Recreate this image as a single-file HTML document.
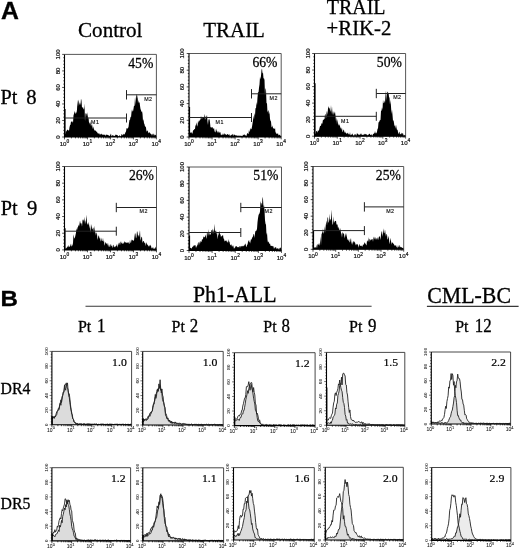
<!DOCTYPE html>
<html lang="en"><head><meta charset="utf-8"><title>Figure</title>
<style>html,body{margin:0;padding:0;background:#fff}svg{display:block}</style>
</head><body>
<svg width="520" height="549" viewBox="0 0 520 549">
<rect width="520" height="549" fill="#fff"/>
<text transform="translate(0.9 18.8) scale(1.06 1)" font-family='"Liberation Sans", "DejaVu Sans", sans-serif' font-size="23.4" font-weight="bold" text-anchor="start" fill="#000" stroke="#000" stroke-width="0.3">A</text>
<text transform="translate(0.4 305.8) scale(1.06 1)" font-family='"Liberation Sans", "DejaVu Sans", sans-serif' font-size="22.8" font-weight="bold" text-anchor="start" fill="#000" stroke="#000" stroke-width="0.3">B</text>
<text transform="translate(78 36.9) scale(0.96 1)" font-family='"Liberation Serif", "DejaVu Serif", serif' font-size="22" text-anchor="start" fill="#000" stroke="#000" stroke-width="0.3">Control</text>
<text transform="translate(203.3 36.6) scale(0.96 1)" font-family='"Liberation Serif", "DejaVu Serif", serif' font-size="21.8" text-anchor="start" fill="#000" stroke="#000" stroke-width="0.3">TRAIL</text>
<text transform="translate(326.8 13.8) scale(0.96 1)" font-family='"Liberation Serif", "DejaVu Serif", serif' font-size="20.8" text-anchor="start" fill="#000" stroke="#000" stroke-width="0.3">TRAIL</text>
<text transform="translate(326.6 35.1) scale(0.97 1)" font-family='"Liberation Serif", "DejaVu Serif", serif' font-size="21.4" text-anchor="start" fill="#000" stroke="#000" stroke-width="0.3">+RIK-2</text>
<text transform="translate(0.5 103.6) scale(0.94 1)" font-family='"Liberation Serif", "DejaVu Serif", serif' font-size="21.6" fill="#000" stroke="#000" stroke-width="0.3" style="word-spacing:4px">Pt <tspan font-size="22">8</tspan></text>
<text transform="translate(0.7 215.1) scale(0.94 1)" font-family='"Liberation Serif", "DejaVu Serif", serif' font-size="21.6" fill="#000" stroke="#000" stroke-width="0.3" style="word-spacing:4.6px">Pt <tspan font-size="22">9</tspan></text>
<g>
<path d="M64.5 137L64.5 133.25L65 134.04L65.5 133.38L66 130.53L66.5 131.82L67 130.1L67.5 129.48L68 130.31L68.5 130.32L69 130.7L69.5 127.27L70 125.14L70.5 124.85L71 121.58L71.5 121.91L72 120.69L72.5 122.05L73 122.77L73.5 115.57L74 113.64L74.5 110.82L75 113.6L75.5 113.76L76 111.46L76.5 113.52L77 109.36L77.5 99.84L78 106.78L78.5 99.51L79 101.64L79.5 105.26L80 102.52L80.5 105.29L81 98.47L81.5 100.67L82 107.64L82.5 107.4L83 106.93L83.5 109.03L84 109.38L84.5 103.44L85 121.25L85.5 112.63L86 114.01L86.5 113.27L87 116.74L87.5 111.94L88 119.11L88.5 117.12L89 122.78L89.5 122.59L90 124.85L90.5 120.97L91 126.82L91.5 124.71L92 123.93L92.5 127.22L93 129.26L93.5 126.2L94 129.37L94.5 130.46L95 130.43L95.5 130.56L96 130.9L96.5 131.93L97 131.62L97.5 133.18L98 133.21L98.5 133.68L99 133.34L99.5 133.67L100 135.05L100.5 134.14L101 133.86L101.5 133.74L102 134.68L102.5 134.79L103 134.13L103.5 134.64L104 135.11L104.5 134.4L105 135.12L105.5 135.89L106 134.14L106.5 135.02L107 134.62L107.5 135.06L108 135.09L108.5 135.25L109 135.7L109.5 136.11L110 135.44L110.5 134.51L111 133.55L111.5 136.63L112 135.42L112.5 134.89L113 135.72L113.5 135.59L114 135.74L114.5 136.12L115 135.76L115.5 134.79L116 134.39L116.5 134.96L117 135L117.5 135.33L118 135.72L118.5 136.38L119 135.98L119.5 134.77L120 136.72L120.5 135.73L121 136.61L121.5 134.19L122 133.93L122.5 135.22L123 135.3L123.5 134.06L124 133.87L124.5 134.65L125 133.42L125.5 132.15L126 131.54L126.5 128.34L127 128.19L127.5 128.84L128 128.12L128.5 126.95L129 122.89L129.5 119.68L130 119.98L130.5 116.44L131 117.53L131.5 112.35L132 109.18L132.5 111.27L133 111.5L133.5 108.67L134 105.38L134.5 106.37L135 97.13L135.5 105.25L136 95.94L136.5 93.63L137 98.89L137.5 94.76L138 103.37L138.5 99.99L139 103.3L139.5 101.69L140 105.69L140.5 109.12L141 110.37L141.5 112.27L142 110.94L142.5 113.85L143 120.93L143.5 118.88L144 123.19L144.5 124.15L145 126.42L145.5 126.45L146 127.42L146.5 131.96L147 130.3L147.5 130.63L148 131.45L148.5 132.93L149 133.22L149.5 132.04L150 132.66L150.5 133.72L151 133.94L151.5 134.37L152 135.8L152.5 134.31L153 133.42L153.5 134.02L154 136.01L154.5 134.73L155 134.44L155.5 135.34L156 134.85L156.4 137Z" fill="#000"/>
<path d="M65.05 137V108.92" stroke="#000" stroke-width="1.1"/>
<path d="M64.5 54.4H156.4V137" fill="none" stroke="#444" stroke-width="0.9"/>
<path d="M64.5 54.4V137H156.4" fill="none" stroke="#000" stroke-width="1.1"/>
<path d="M64.5 137h-2.3M64.5 133.7h-1.2M64.5 130.39h-1.2M64.5 127.09h-1.2M64.5 123.78h-1.2M64.5 120.48h-2.3M64.5 117.18h-1.2M64.5 113.87h-1.2M64.5 110.57h-1.2M64.5 107.26h-1.2M64.5 103.96h-2.3M64.5 100.66h-1.2M64.5 97.35h-1.2M64.5 94.05h-1.2M64.5 90.74h-1.2M64.5 87.44h-2.3M64.5 84.14h-1.2M64.5 80.83h-1.2M64.5 77.53h-1.2M64.5 74.22h-1.2M64.5 70.92h-2.3M64.5 67.62h-1.2M64.5 64.31h-1.2M64.5 61.01h-1.2M64.5 57.7h-1.2M64.5 54.4h-2.3" stroke="#000" stroke-width="0.7" fill="none"/>
<path d="M64.5 137v2.4M71.42 137v1.4M75.46 137v1.4M78.33 137v1.4M80.56 137v1.4M82.38 137v1.4M83.92 137v1.4M85.25 137v1.4M86.42 137v1.4M87.47 137v2.4M94.39 137v1.4M98.44 137v1.4M101.31 137v1.4M103.53 137v1.4M105.35 137v1.4M106.89 137v1.4M108.22 137v1.4M109.4 137v1.4M110.45 137v2.4M117.37 137v1.4M121.41 137v1.4M124.28 137v1.4M126.51 137v1.4M128.33 137v1.4M129.87 137v1.4M131.2 137v1.4M132.37 137v1.4M133.43 137v2.4M140.34 137v1.4M144.39 137v1.4M147.26 137v1.4M149.48 137v1.4M151.3 137v1.4M152.84 137v1.4M154.17 137v1.4M155.35 137v1.4M156.4 137v2.4" stroke="#000" stroke-width="0.7" fill="none"/>
<text transform="translate(59.9 137) rotate(-90) scale(1 0.82)" text-anchor="middle" font-family='"Liberation Sans", "DejaVu Sans", sans-serif' font-size="6.1" fill="#111" stroke="#111" stroke-width="0.2">0</text>
<text transform="translate(59.9 120.48) rotate(-90) scale(1 0.82)" text-anchor="middle" font-family='"Liberation Sans", "DejaVu Sans", sans-serif' font-size="6.1" fill="#111" stroke="#111" stroke-width="0.2">20</text>
<text transform="translate(59.9 103.96) rotate(-90) scale(1 0.82)" text-anchor="middle" font-family='"Liberation Sans", "DejaVu Sans", sans-serif' font-size="6.1" fill="#111" stroke="#111" stroke-width="0.2">40</text>
<text transform="translate(59.9 87.44) rotate(-90) scale(1 0.82)" text-anchor="middle" font-family='"Liberation Sans", "DejaVu Sans", sans-serif' font-size="6.1" fill="#111" stroke="#111" stroke-width="0.2">60</text>
<text transform="translate(59.9 70.92) rotate(-90) scale(1 0.82)" text-anchor="middle" font-family='"Liberation Sans", "DejaVu Sans", sans-serif' font-size="6.1" fill="#111" stroke="#111" stroke-width="0.2">80</text>
<text transform="translate(59.9 54.4) rotate(-90) scale(1 0.82)" text-anchor="middle" font-family='"Liberation Sans", "DejaVu Sans", sans-serif' font-size="6.1" fill="#111" stroke="#111" stroke-width="0.2">100</text>
<text x="64.4" y="146.1" text-anchor="middle" font-family='"Liberation Sans", "DejaVu Sans", sans-serif' font-size="6.1" fill="#111" stroke="#111" stroke-width="0.2">10<tspan dy="-2.81" font-size="4.88">0</tspan></text>
<text x="87.38" y="146.1" text-anchor="middle" font-family='"Liberation Sans", "DejaVu Sans", sans-serif' font-size="6.1" fill="#111" stroke="#111" stroke-width="0.2">10<tspan dy="-2.81" font-size="4.88">1</tspan></text>
<text x="110.35" y="146.1" text-anchor="middle" font-family='"Liberation Sans", "DejaVu Sans", sans-serif' font-size="6.1" fill="#111" stroke="#111" stroke-width="0.2">10<tspan dy="-2.81" font-size="4.88">2</tspan></text>
<text x="133.33" y="146.1" text-anchor="middle" font-family='"Liberation Sans", "DejaVu Sans", sans-serif' font-size="6.1" fill="#111" stroke="#111" stroke-width="0.2">10<tspan dy="-2.81" font-size="4.88">3</tspan></text>
<text x="156.3" y="146.1" text-anchor="middle" font-family='"Liberation Sans", "DejaVu Sans", sans-serif' font-size="6.1" fill="#111" stroke="#111" stroke-width="0.2">10<tspan dy="-2.81" font-size="4.88">4</tspan></text>
<path d="M64.5 118H126.5M126.5 113.5v9" stroke="#222" stroke-width="1" fill="none"/>
<path d="M126.5 94.8H156.4M126.5 90.1v9.4" stroke="#222" stroke-width="1" fill="none"/>
<text x="91.1" y="124.2" font-family='"Liberation Sans", "DejaVu Sans", sans-serif' font-size="5.3" fill="#111" stroke="#111" stroke-width="0.15" letter-spacing="0.5">M1</text>
<text x="144.2" y="100.6" font-family='"Liberation Sans", "DejaVu Sans", sans-serif' font-size="5.3" fill="#111" stroke="#111" stroke-width="0.15" letter-spacing="0.5">M2</text>
<text transform="translate(153.3 68.2) scale(0.95 1)" font-family='"Liberation Serif", "DejaVu Serif", serif' font-size="14.4" text-anchor="end" fill="#000" stroke="#000" stroke-width="0.25">45%</text>
</g>
<g>
<path d="M189 137L189 135.1L189.5 132.65L190 133.09L190.5 132.77L191 131.9L191.5 132.54L192 133.42L192.5 133.44L193 130.61L193.5 130.16L194 129.76L194.5 128.89L195 129.05L195.5 124.42L196 126.24L196.5 122.25L197 124.87L197.5 126.87L198 120.65L198.5 123.03L199 119.9L199.5 121.43L200 119.46L200.5 119.73L201 115.42L201.5 119.14L202 116.42L202.5 118.43L203 117.88L203.5 117.31L204 116.81L204.5 113.84L205 119.89L205.5 118.01L206 115.43L206.5 117.49L207 114.8L207.5 121.55L208 125.03L208.5 118.85L209 120.6L209.5 118.6L210 122.58L210.5 127.51L211 126.93L211.5 127.87L212 127.32L212.5 126.9L213 128.69L213.5 128.69L214 127.77L214.5 130.82L215 132.2L215.5 132.28L216 128.39L216.5 130.33L217 131.62L217.5 131.43L218 133.4L218.5 131.75L219 131.15L219.5 133.17L220 131.68L220.5 132.65L221 135.43L221.5 134.8L222 134.45L222.5 135.02L223 133.03L223.5 135.31L224 133.8L224.5 133.21L225 134.92L225.5 133.77L226 134.77L226.5 135.1L227 134.57L227.5 134.09L228 134.31L228.5 135.19L229 134.35L229.5 134.48L230 136.4L230.5 135.35L231 135.37L231.5 134.54L232 135.41L232.5 134.29L233 133.86L233.5 136.37L234 134.16L234.5 134.84L235 135.25L235.5 135.48L236 134.91L236.5 135.62L237 135.87L237.5 135.77L238 135.48L238.5 136.37L239 134.86L239.5 135.89L240 136.24L240.5 135.51L241 135.71L241.5 135.68L242 136.3L242.5 135.94L243 134.44L243.5 135.11L244 135.19L244.5 133.91L245 135.46L245.5 135.36L246 135.6L246.5 135.9L247 133.61L247.5 132.89L248 133.86L248.5 133.89L249 129.21L249.5 132.35L250 130.85L250.5 127.95L251 129.16L251.5 128.97L252 126.86L252.5 123.55L253 120.34L253.5 115.38L254 119.61L254.5 113.08L255 115.41L255.5 107.85L256 108.61L256.5 102.1L257 105.16L257.5 97.41L258 92L258.5 92.61L259 87.7L259.5 84.38L260 76.68L260.5 79.45L261 75.7L261.5 70.05L262 68.45L262.5 73.52L263 72.48L263.5 78.62L264 78.14L264.5 80.08L265 95.55L265.5 87.96L266 89.78L266.5 103.22L267 103.33L267.5 112.58L268 110.73L268.5 110.24L269 114.55L269.5 111.8L270 119.05L270.5 120.71L271 121.55L271.5 126.73L272 127.55L272.5 125.35L273 128.05L273.5 128.13L274 129.12L274.5 129.09L275 127.4L275.5 132.58L276 132.43L276.5 134.02L277 133.87L277.5 133.66L278 133.37L278.5 135.17L279 135.19L279.5 134.43L280 135.18L280.5 136.11L281 135.23L281.2 137Z" fill="#000"/>
<path d="M189.55 137V106.94" stroke="#000" stroke-width="1.1"/>
<path d="M189 53.5H281.2V137" fill="none" stroke="#444" stroke-width="0.9"/>
<path d="M189 53.5V137H281.2" fill="none" stroke="#000" stroke-width="1.1"/>
<path d="M189 137h-2.3M189 133.66h-1.2M189 130.32h-1.2M189 126.98h-1.2M189 123.64h-1.2M189 120.3h-2.3M189 116.96h-1.2M189 113.62h-1.2M189 110.28h-1.2M189 106.94h-1.2M189 103.6h-2.3M189 100.26h-1.2M189 96.92h-1.2M189 93.58h-1.2M189 90.24h-1.2M189 86.9h-2.3M189 83.56h-1.2M189 80.22h-1.2M189 76.88h-1.2M189 73.54h-1.2M189 70.2h-2.3M189 66.86h-1.2M189 63.52h-1.2M189 60.18h-1.2M189 56.84h-1.2M189 53.5h-2.3" stroke="#000" stroke-width="0.7" fill="none"/>
<path d="M189 137v2.4M195.94 137v1.4M200 137v1.4M202.88 137v1.4M205.11 137v1.4M206.94 137v1.4M208.48 137v1.4M209.82 137v1.4M211 137v1.4M212.05 137v2.4M218.99 137v1.4M223.05 137v1.4M225.93 137v1.4M228.16 137v1.4M229.99 137v1.4M231.53 137v1.4M232.87 137v1.4M234.05 137v1.4M235.1 137v2.4M242.04 137v1.4M246.1 137v1.4M248.98 137v1.4M251.21 137v1.4M253.04 137v1.4M254.58 137v1.4M255.92 137v1.4M257.1 137v1.4M258.15 137v2.4M265.09 137v1.4M269.15 137v1.4M272.03 137v1.4M274.26 137v1.4M276.09 137v1.4M277.63 137v1.4M278.97 137v1.4M280.15 137v1.4M281.2 137v2.4" stroke="#000" stroke-width="0.7" fill="none"/>
<text transform="translate(184.4 137) rotate(-90) scale(1 0.82)" text-anchor="middle" font-family='"Liberation Sans", "DejaVu Sans", sans-serif' font-size="6.1" fill="#111" stroke="#111" stroke-width="0.2">0</text>
<text transform="translate(184.4 120.3) rotate(-90) scale(1 0.82)" text-anchor="middle" font-family='"Liberation Sans", "DejaVu Sans", sans-serif' font-size="6.1" fill="#111" stroke="#111" stroke-width="0.2">20</text>
<text transform="translate(184.4 103.6) rotate(-90) scale(1 0.82)" text-anchor="middle" font-family='"Liberation Sans", "DejaVu Sans", sans-serif' font-size="6.1" fill="#111" stroke="#111" stroke-width="0.2">40</text>
<text transform="translate(184.4 86.9) rotate(-90) scale(1 0.82)" text-anchor="middle" font-family='"Liberation Sans", "DejaVu Sans", sans-serif' font-size="6.1" fill="#111" stroke="#111" stroke-width="0.2">60</text>
<text transform="translate(184.4 70.2) rotate(-90) scale(1 0.82)" text-anchor="middle" font-family='"Liberation Sans", "DejaVu Sans", sans-serif' font-size="6.1" fill="#111" stroke="#111" stroke-width="0.2">80</text>
<text transform="translate(184.4 53.5) rotate(-90) scale(1 0.82)" text-anchor="middle" font-family='"Liberation Sans", "DejaVu Sans", sans-serif' font-size="6.1" fill="#111" stroke="#111" stroke-width="0.2">100</text>
<text x="188.9" y="146.1" text-anchor="middle" font-family='"Liberation Sans", "DejaVu Sans", sans-serif' font-size="6.1" fill="#111" stroke="#111" stroke-width="0.2">10<tspan dy="-2.81" font-size="4.88">0</tspan></text>
<text x="211.95" y="146.1" text-anchor="middle" font-family='"Liberation Sans", "DejaVu Sans", sans-serif' font-size="6.1" fill="#111" stroke="#111" stroke-width="0.2">10<tspan dy="-2.81" font-size="4.88">1</tspan></text>
<text x="235" y="146.1" text-anchor="middle" font-family='"Liberation Sans", "DejaVu Sans", sans-serif' font-size="6.1" fill="#111" stroke="#111" stroke-width="0.2">10<tspan dy="-2.81" font-size="4.88">2</tspan></text>
<text x="258.05" y="146.1" text-anchor="middle" font-family='"Liberation Sans", "DejaVu Sans", sans-serif' font-size="6.1" fill="#111" stroke="#111" stroke-width="0.2">10<tspan dy="-2.81" font-size="4.88">3</tspan></text>
<text x="281.1" y="146.1" text-anchor="middle" font-family='"Liberation Sans", "DejaVu Sans", sans-serif' font-size="6.1" fill="#111" stroke="#111" stroke-width="0.2">10<tspan dy="-2.81" font-size="4.88">4</tspan></text>
<path d="M189 117.5H251.5M251.5 113v9" stroke="#222" stroke-width="1" fill="none"/>
<path d="M251.5 93.8H281.2M251.5 89.1v9.4" stroke="#222" stroke-width="1" fill="none"/>
<text x="215.6" y="123.7" font-family='"Liberation Sans", "DejaVu Sans", sans-serif' font-size="5.3" fill="#111" stroke="#111" stroke-width="0.15" letter-spacing="0.5">M1</text>
<text x="269.6" y="99.6" font-family='"Liberation Sans", "DejaVu Sans", sans-serif' font-size="5.3" fill="#111" stroke="#111" stroke-width="0.15" letter-spacing="0.5">M2</text>
<text transform="translate(277.5 67.4) scale(0.95 1)" font-family='"Liberation Serif", "DejaVu Serif", serif' font-size="14.4" text-anchor="end" fill="#000" stroke="#000" stroke-width="0.25">66%</text>
</g>
<g>
<path d="M314.5 136.2L314.5 133.72L315 133.54L315.5 133.94L316 131.44L316.5 131.12L317 131.33L317.5 132.84L318 129.77L318.5 131.31L319 130.27L319.5 127.95L320 126.34L320.5 125.84L321 125.76L321.5 122.77L322 124.16L322.5 122.86L323 119.54L323.5 120.25L324 119.1L324.5 119.18L325 114.35L325.5 114.25L326 119.05L326.5 112.89L327 110.82L327.5 114.9L328 108.35L328.5 105.98L329 108.72L329.5 107.47L330 110L330.5 111.93L331 104.93L331.5 114.02L332 106.29L332.5 114.98L333 110.65L333.5 115.3L334 110.97L334.5 114.08L335 111.8L335.5 115.66L336 121.25L336.5 117.13L337 124.61L337.5 119.1L338 122.78L338.5 125.64L339 124.02L339.5 125.13L340 126.11L340.5 128.63L341 127.03L341.5 130.04L342 127.75L342.5 132.31L343 131.16L343.5 129.42L344 129.96L344.5 132.95L345 131.22L345.5 132.75L346 132.96L346.5 133.67L347 133.42L347.5 133.15L348 132.53L348.5 134.49L349 133.99L349.5 134.63L350 132.02L350.5 135.38L351 134.48L351.5 134.81L352 134.5L352.5 133.37L353 135.32L353.5 135.18L354 136.2L354.5 133.88L355 134.63L355.5 133.81L356 135.91L356.5 135L357 133.03L357.5 133.75L358 133.95L358.5 134.41L359 135.17L359.5 134.68L360 134.36L360.5 134.46L361 133.05L361.5 134.55L362 134.73L362.5 134.72L363 135.16L363.5 134.31L364 134.91L364.5 134.09L365 133.86L365.5 134.55L366 133.87L366.5 134.79L367 134.56L367.5 135.46L368 134.9L368.5 134.73L369 133.76L369.5 133.67L370 134.23L370.5 134.95L371 134.93L371.5 134.01L372 136.11L372.5 135.53L373 134.08L373.5 133.96L374 133.33L374.5 133.25L375 131.03L375.5 132.93L376 133.5L376.5 132.94L377 131.74L377.5 129.09L378 128.16L378.5 122.42L379 122.08L379.5 121.21L380 119.79L380.5 120.24L381 110.87L381.5 110.66L382 107.18L382.5 109.92L383 99.68L383.5 102.94L384 103.32L384.5 100.23L385 103L385.5 95.05L386 90.61L386.5 100.78L387 92.44L387.5 91.43L388 93.38L388.5 92.61L389 96.78L389.5 98.06L390 104.74L390.5 99.84L391 106.47L391.5 113.89L392 109.43L392.5 114.87L393 121.04L393.5 120.08L394 123.08L394.5 126.55L395 124.88L395.5 128.7L396 124.49L396.5 127.72L397 129.91L397.5 129.51L398 132.11L398.5 134.2L399 132.58L399.5 131.45L400 134.71L400.5 133.85L401 134.11L401.5 132.45L402 134.7L402.5 133.1L403 133.25L403.5 135.32L404 135.86L404.5 134.77L405 135.43L405.5 134.63L405.6 136.2Z" fill="#000"/>
<path d="M315.05 136.2V83.27" stroke="#000" stroke-width="1.1"/>
<path d="M314.5 53.5H405.6V136.2" fill="none" stroke="#444" stroke-width="0.9"/>
<path d="M314.5 53.5V136.2H405.6" fill="none" stroke="#000" stroke-width="1.1"/>
<path d="M314.5 136.2h-2.3M314.5 132.89h-1.2M314.5 129.58h-1.2M314.5 126.28h-1.2M314.5 122.97h-1.2M314.5 119.66h-2.3M314.5 116.35h-1.2M314.5 113.04h-1.2M314.5 109.74h-1.2M314.5 106.43h-1.2M314.5 103.12h-2.3M314.5 99.81h-1.2M314.5 96.5h-1.2M314.5 93.2h-1.2M314.5 89.89h-1.2M314.5 86.58h-2.3M314.5 83.27h-1.2M314.5 79.96h-1.2M314.5 76.66h-1.2M314.5 73.35h-1.2M314.5 70.04h-2.3M314.5 66.73h-1.2M314.5 63.42h-1.2M314.5 60.12h-1.2M314.5 56.81h-1.2M314.5 53.5h-2.3" stroke="#000" stroke-width="0.7" fill="none"/>
<path d="M314.5 136.2v2.4M321.36 136.2v1.4M325.37 136.2v1.4M328.21 136.2v1.4M330.42 136.2v1.4M332.22 136.2v1.4M333.75 136.2v1.4M335.07 136.2v1.4M336.23 136.2v1.4M337.27 136.2v2.4M344.13 136.2v1.4M348.14 136.2v1.4M350.99 136.2v1.4M353.19 136.2v1.4M355 136.2v1.4M356.52 136.2v1.4M357.84 136.2v1.4M359.01 136.2v1.4M360.05 136.2v2.4M366.91 136.2v1.4M370.92 136.2v1.4M373.76 136.2v1.4M375.97 136.2v1.4M377.77 136.2v1.4M379.3 136.2v1.4M380.62 136.2v1.4M381.78 136.2v1.4M382.83 136.2v2.4M389.68 136.2v1.4M393.69 136.2v1.4M396.54 136.2v1.4M398.74 136.2v1.4M400.55 136.2v1.4M402.07 136.2v1.4M403.39 136.2v1.4M404.56 136.2v1.4M405.6 136.2v2.4" stroke="#000" stroke-width="0.7" fill="none"/>
<text transform="translate(309.9 136.2) rotate(-90) scale(1 0.82)" text-anchor="middle" font-family='"Liberation Sans", "DejaVu Sans", sans-serif' font-size="6.1" fill="#111" stroke="#111" stroke-width="0.2">0</text>
<text transform="translate(309.9 119.66) rotate(-90) scale(1 0.82)" text-anchor="middle" font-family='"Liberation Sans", "DejaVu Sans", sans-serif' font-size="6.1" fill="#111" stroke="#111" stroke-width="0.2">20</text>
<text transform="translate(309.9 103.12) rotate(-90) scale(1 0.82)" text-anchor="middle" font-family='"Liberation Sans", "DejaVu Sans", sans-serif' font-size="6.1" fill="#111" stroke="#111" stroke-width="0.2">40</text>
<text transform="translate(309.9 86.58) rotate(-90) scale(1 0.82)" text-anchor="middle" font-family='"Liberation Sans", "DejaVu Sans", sans-serif' font-size="6.1" fill="#111" stroke="#111" stroke-width="0.2">60</text>
<text transform="translate(309.9 70.04) rotate(-90) scale(1 0.82)" text-anchor="middle" font-family='"Liberation Sans", "DejaVu Sans", sans-serif' font-size="6.1" fill="#111" stroke="#111" stroke-width="0.2">80</text>
<text transform="translate(309.9 53.5) rotate(-90) scale(1 0.82)" text-anchor="middle" font-family='"Liberation Sans", "DejaVu Sans", sans-serif' font-size="6.1" fill="#111" stroke="#111" stroke-width="0.2">100</text>
<text x="314.4" y="145.3" text-anchor="middle" font-family='"Liberation Sans", "DejaVu Sans", sans-serif' font-size="6.1" fill="#111" stroke="#111" stroke-width="0.2">10<tspan dy="-2.81" font-size="4.88">0</tspan></text>
<text x="337.17" y="145.3" text-anchor="middle" font-family='"Liberation Sans", "DejaVu Sans", sans-serif' font-size="6.1" fill="#111" stroke="#111" stroke-width="0.2">10<tspan dy="-2.81" font-size="4.88">1</tspan></text>
<text x="359.95" y="145.3" text-anchor="middle" font-family='"Liberation Sans", "DejaVu Sans", sans-serif' font-size="6.1" fill="#111" stroke="#111" stroke-width="0.2">10<tspan dy="-2.81" font-size="4.88">2</tspan></text>
<text x="382.73" y="145.3" text-anchor="middle" font-family='"Liberation Sans", "DejaVu Sans", sans-serif' font-size="6.1" fill="#111" stroke="#111" stroke-width="0.2">10<tspan dy="-2.81" font-size="4.88">3</tspan></text>
<text x="405.5" y="145.3" text-anchor="middle" font-family='"Liberation Sans", "DejaVu Sans", sans-serif' font-size="6.1" fill="#111" stroke="#111" stroke-width="0.2">10<tspan dy="-2.81" font-size="4.88">4</tspan></text>
<path d="M314.5 116.3H376.3M376.3 111.8v9" stroke="#222" stroke-width="1" fill="none"/>
<path d="M376.3 93.5H405.6M376.3 88.8v9.4" stroke="#222" stroke-width="1" fill="none"/>
<text x="341.1" y="122.5" font-family='"Liberation Sans", "DejaVu Sans", sans-serif' font-size="5.3" fill="#111" stroke="#111" stroke-width="0.15" letter-spacing="0.5">M1</text>
<text x="393.2" y="99.3" font-family='"Liberation Sans", "DejaVu Sans", sans-serif' font-size="5.3" fill="#111" stroke="#111" stroke-width="0.15" letter-spacing="0.5">M2</text>
<text transform="translate(401.9 67.3) scale(0.95 1)" font-family='"Liberation Serif", "DejaVu Serif", serif' font-size="14.4" text-anchor="end" fill="#000" stroke="#000" stroke-width="0.25">50%</text>
</g>
<g>
<path d="M64.5 249.9L64.5 249.32L65 247.6L65.5 249.49L66 247.42L66.5 248.53L67 247.27L67.5 246.01L68 247.65L68.5 244.68L69 247.26L69.5 246.49L70 246.6L70.5 244.91L71 243.39L71.5 246.63L72 245.74L72.5 245.21L73 243.02L73.5 234.25L74 237.07L74.5 238.64L75 237.17L75.5 235.08L76 232.75L76.5 228.19L77 230.24L77.5 227.86L78 226.75L78.5 224.51L79 226.71L79.5 224.05L80 220.54L80.5 223.16L81 223.58L81.5 223.16L82 226.76L82.5 220.51L83 219.25L83.5 219.96L84 221.83L84.5 216.83L85 224.17L85.5 221.82L86 219.91L86.5 214.78L87 223.14L87.5 223.68L88 225.24L88.5 221.73L89 225.26L89.5 228.7L90 223.87L90.5 232.82L91 227.57L91.5 224.07L92 229.35L92.5 229.37L93 227.29L93.5 228.16L94 233.01L94.5 225.62L95 231.96L95.5 232.86L96 235.75L96.5 232.25L97 233.67L97.5 239.93L98 237.68L98.5 235.59L99 235.87L99.5 238.89L100 237.36L100.5 240.17L101 241.66L101.5 237.38L102 241.05L102.5 240.9L103 237.7L103.5 242.21L104 240.18L104.5 245.7L105 244.09L105.5 241.83L106 243.29L106.5 243.89L107 242.83L107.5 245.77L108 242.6L108.5 247.23L109 244.31L109.5 246.61L110 247.37L110.5 244.59L111 244.14L111.5 246.26L112 246.11L112.5 248.37L113 244.64L113.5 245.07L114 247.45L114.5 246.37L115 247.61L115.5 246.25L116 245.91L116.5 245.4L117 243.69L117.5 247.72L118 245.47L118.5 243.97L119 242.46L119.5 243.06L120 245.16L120.5 242.31L121 241.22L121.5 243.13L122 243.2L122.5 244.33L123 242.1L123.5 243.86L124 243.16L124.5 240.92L125 242.37L125.5 242.36L126 242.68L126.5 243.01L127 241.98L127.5 243.28L128 241.99L128.5 242.47L129 243.69L129.5 243.84L130 239.64L130.5 242.4L131 242.99L131.5 239.34L132 240.86L132.5 240.06L133 239.8L133.5 240.98L134 240.61L134.5 236.54L135 233.03L135.5 233.93L136 238.48L136.5 237.01L137 231.12L137.5 232.14L138 235.68L138.5 234.96L139 237.24L139.5 233.57L140 229.89L140.5 240.79L141 238.69L141.5 236.8L142 236.93L142.5 242.91L143 241.13L143.5 240.95L144 241.39L144.5 243.36L145 242.45L145.5 246.26L146 242.36L146.5 242.99L147 244.58L147.5 244.6L148 245.52L148.5 246.64L149 245.04L149.5 246.63L150 244.6L150.5 245.53L151 245.99L151.5 247.94L152 248.62L152.5 247.9L153 246.75L153.5 248.71L154 248.81L154.5 248.17L155 249L155.5 246.38L156 247.94L156.5 247.56L156.5 249.9Z" fill="#000"/>
<path d="M65.05 249.9V228.22" stroke="#000" stroke-width="1.1"/>
<path d="M64.5 166.5H156.5V249.9" fill="none" stroke="#444" stroke-width="0.9"/>
<path d="M64.5 166.5V249.9H156.5" fill="none" stroke="#000" stroke-width="1.1"/>
<path d="M64.5 249.9h-2.3M64.5 246.56h-1.2M64.5 243.23h-1.2M64.5 239.89h-1.2M64.5 236.56h-1.2M64.5 233.22h-2.3M64.5 229.88h-1.2M64.5 226.55h-1.2M64.5 223.21h-1.2M64.5 219.88h-1.2M64.5 216.54h-2.3M64.5 213.2h-1.2M64.5 209.87h-1.2M64.5 206.53h-1.2M64.5 203.2h-1.2M64.5 199.86h-2.3M64.5 196.52h-1.2M64.5 193.19h-1.2M64.5 189.85h-1.2M64.5 186.52h-1.2M64.5 183.18h-2.3M64.5 179.84h-1.2M64.5 176.51h-1.2M64.5 173.17h-1.2M64.5 169.84h-1.2M64.5 166.5h-2.3" stroke="#000" stroke-width="0.7" fill="none"/>
<path d="M64.5 249.9v2.4M71.42 249.9v1.4M75.47 249.9v1.4M78.35 249.9v1.4M80.58 249.9v1.4M82.4 249.9v1.4M83.94 249.9v1.4M85.27 249.9v1.4M86.45 249.9v1.4M87.5 249.9v2.4M94.42 249.9v1.4M98.47 249.9v1.4M101.35 249.9v1.4M103.58 249.9v1.4M105.4 249.9v1.4M106.94 249.9v1.4M108.27 249.9v1.4M109.45 249.9v1.4M110.5 249.9v2.4M117.42 249.9v1.4M121.47 249.9v1.4M124.35 249.9v1.4M126.58 249.9v1.4M128.4 249.9v1.4M129.94 249.9v1.4M131.27 249.9v1.4M132.45 249.9v1.4M133.5 249.9v2.4M140.42 249.9v1.4M144.47 249.9v1.4M147.35 249.9v1.4M149.58 249.9v1.4M151.4 249.9v1.4M152.94 249.9v1.4M154.27 249.9v1.4M155.45 249.9v1.4M156.5 249.9v2.4" stroke="#000" stroke-width="0.7" fill="none"/>
<text transform="translate(59.9 249.9) rotate(-90) scale(1 0.82)" text-anchor="middle" font-family='"Liberation Sans", "DejaVu Sans", sans-serif' font-size="6.1" fill="#111" stroke="#111" stroke-width="0.2">0</text>
<text transform="translate(59.9 233.22) rotate(-90) scale(1 0.82)" text-anchor="middle" font-family='"Liberation Sans", "DejaVu Sans", sans-serif' font-size="6.1" fill="#111" stroke="#111" stroke-width="0.2">20</text>
<text transform="translate(59.9 216.54) rotate(-90) scale(1 0.82)" text-anchor="middle" font-family='"Liberation Sans", "DejaVu Sans", sans-serif' font-size="6.1" fill="#111" stroke="#111" stroke-width="0.2">40</text>
<text transform="translate(59.9 199.86) rotate(-90) scale(1 0.82)" text-anchor="middle" font-family='"Liberation Sans", "DejaVu Sans", sans-serif' font-size="6.1" fill="#111" stroke="#111" stroke-width="0.2">60</text>
<text transform="translate(59.9 183.18) rotate(-90) scale(1 0.82)" text-anchor="middle" font-family='"Liberation Sans", "DejaVu Sans", sans-serif' font-size="6.1" fill="#111" stroke="#111" stroke-width="0.2">80</text>
<text transform="translate(59.9 166.5) rotate(-90) scale(1 0.82)" text-anchor="middle" font-family='"Liberation Sans", "DejaVu Sans", sans-serif' font-size="6.1" fill="#111" stroke="#111" stroke-width="0.2">100</text>
<text x="64.4" y="259" text-anchor="middle" font-family='"Liberation Sans", "DejaVu Sans", sans-serif' font-size="6.1" fill="#111" stroke="#111" stroke-width="0.2">10<tspan dy="-2.81" font-size="4.88">0</tspan></text>
<text x="87.4" y="259" text-anchor="middle" font-family='"Liberation Sans", "DejaVu Sans", sans-serif' font-size="6.1" fill="#111" stroke="#111" stroke-width="0.2">10<tspan dy="-2.81" font-size="4.88">1</tspan></text>
<text x="110.4" y="259" text-anchor="middle" font-family='"Liberation Sans", "DejaVu Sans", sans-serif' font-size="6.1" fill="#111" stroke="#111" stroke-width="0.2">10<tspan dy="-2.81" font-size="4.88">2</tspan></text>
<text x="133.4" y="259" text-anchor="middle" font-family='"Liberation Sans", "DejaVu Sans", sans-serif' font-size="6.1" fill="#111" stroke="#111" stroke-width="0.2">10<tspan dy="-2.81" font-size="4.88">3</tspan></text>
<text x="156.4" y="259" text-anchor="middle" font-family='"Liberation Sans", "DejaVu Sans", sans-serif' font-size="6.1" fill="#111" stroke="#111" stroke-width="0.2">10<tspan dy="-2.81" font-size="4.88">4</tspan></text>
<path d="M64.5 231.2H116.3M116.3 226.7v9" stroke="#222" stroke-width="1" fill="none"/>
<path d="M116.3 207.5H156.5M116.3 202.8v9.4" stroke="#222" stroke-width="1" fill="none"/>
<text x="139.5" y="213.3" font-family='"Liberation Sans", "DejaVu Sans", sans-serif' font-size="5.3" fill="#111" stroke="#111" stroke-width="0.15" letter-spacing="0.5">M2</text>
<text transform="translate(154 180.1) scale(0.95 1)" font-family='"Liberation Serif", "DejaVu Serif", serif' font-size="14.4" text-anchor="end" fill="#000" stroke="#000" stroke-width="0.25">26%</text>
</g>
<g>
<path d="M189 250.5L189 248.01L189.5 248.27L190 248.03L190.5 247.85L191 248.12L191.5 248.72L192 247.73L192.5 246.59L193 246.93L193.5 245.39L194 245.63L194.5 245.39L195 244.64L195.5 245.42L196 247.99L196.5 246.74L197 245.86L197.5 245.08L198 242.76L198.5 242.12L199 245.74L199.5 241.28L200 243.67L200.5 241.19L201 241.3L201.5 242.34L202 239.01L202.5 239.77L203 238.64L203.5 236.42L204 236.67L204.5 237.62L205 236.39L205.5 234.61L206 236.96L206.5 238.92L207 231.84L207.5 232.62L208 236.29L208.5 229.02L209 235.97L209.5 231.77L210 235.29L210.5 234.35L211 233.12L211.5 229.69L212 230.58L212.5 228.6L213 234.49L213.5 229.35L214 232.36L214.5 223.77L215 230.41L215.5 231.94L216 229.91L216.5 234.87L217 230.93L217.5 239.29L218 236.1L218.5 234.46L219 231.68L219.5 231.25L220 234.48L220.5 234.31L221 237.47L221.5 236.03L222 236L222.5 235.48L223 234.75L223.5 238.66L224 238.5L224.5 241.76L225 240.37L225.5 241.29L226 240.29L226.5 240.64L227 241.96L227.5 241.58L228 243.45L228.5 238.88L229 241.81L229.5 241.61L230 244.61L230.5 245.38L231 244.18L231.5 244.74L232 246.82L232.5 246.32L233 244.95L233.5 246.59L234 248.91L234.5 247.86L235 247.68L235.5 246.59L236 245.93L236.5 246.24L237 246.77L237.5 247.37L238 247.24L238.5 247.31L239 246.76L239.5 245.73L240 248.24L240.5 245.76L241 246.7L241.5 246.13L242 245.8L242.5 246L243 246.7L243.5 245.5L244 246.31L244.5 244.76L245 244.42L245.5 243.21L246 245.97L246.5 247.13L247 245.07L247.5 244.53L248 242.01L248.5 239.97L249 241.86L249.5 242.79L250 239.39L250.5 243.78L251 238.48L251.5 240.07L252 238.33L252.5 237.1L253 236.42L253.5 234.08L254 234.17L254.5 237.9L255 233.33L255.5 230.65L256 231.35L256.5 230.26L257 229.06L257.5 222.37L258 218.15L258.5 215.36L259 214.11L259.5 213.38L260 211.41L260.5 201L261 203.5L261.5 203.11L262 206.08L262.5 196.64L263 199.09L263.5 207.69L264 204.71L264.5 210.08L265 220.22L265.5 223.7L266 224.8L266.5 235.07L267 232.42L267.5 239.98L268 242.85L268.5 241.19L269 242.46L269.5 244.22L270 243.24L270.5 245.69L271 245.73L271.5 245.94L272 245.65L272.5 246.58L273 245.65L273.5 246.65L274 248.9L274.5 247.76L275 247.41L275.5 247.49L276 246.84L276.5 249.22L277 248L277.5 248.2L278 248.96L278.5 248.21L279 249.88L279.5 248.25L280 247.75L280.5 247.44L281 248.59L281.5 248.67L281.5 250.5Z" fill="#000"/>
<path d="M189.55 250.5V235.47" stroke="#000" stroke-width="1.1"/>
<path d="M189 167H281.5V250.5" fill="none" stroke="#444" stroke-width="0.9"/>
<path d="M189 167V250.5H281.5" fill="none" stroke="#000" stroke-width="1.1"/>
<path d="M189 250.5h-2.3M189 247.16h-1.2M189 243.82h-1.2M189 240.48h-1.2M189 237.14h-1.2M189 233.8h-2.3M189 230.46h-1.2M189 227.12h-1.2M189 223.78h-1.2M189 220.44h-1.2M189 217.1h-2.3M189 213.76h-1.2M189 210.42h-1.2M189 207.08h-1.2M189 203.74h-1.2M189 200.4h-2.3M189 197.06h-1.2M189 193.72h-1.2M189 190.38h-1.2M189 187.04h-1.2M189 183.7h-2.3M189 180.36h-1.2M189 177.02h-1.2M189 173.68h-1.2M189 170.34h-1.2M189 167h-2.3" stroke="#000" stroke-width="0.7" fill="none"/>
<path d="M189 250.5v2.4M195.96 250.5v1.4M200.03 250.5v1.4M202.92 250.5v1.4M205.16 250.5v1.4M206.99 250.5v1.4M208.54 250.5v1.4M209.88 250.5v1.4M211.07 250.5v1.4M212.12 250.5v2.4M219.09 250.5v1.4M223.16 250.5v1.4M226.05 250.5v1.4M228.29 250.5v1.4M230.12 250.5v1.4M231.67 250.5v1.4M233.01 250.5v1.4M234.19 250.5v1.4M235.25 250.5v2.4M242.21 250.5v1.4M246.28 250.5v1.4M249.17 250.5v1.4M251.41 250.5v1.4M253.24 250.5v1.4M254.79 250.5v1.4M256.13 250.5v1.4M257.32 250.5v1.4M258.38 250.5v2.4M265.34 250.5v1.4M269.41 250.5v1.4M272.3 250.5v1.4M274.54 250.5v1.4M276.37 250.5v1.4M277.92 250.5v1.4M279.26 250.5v1.4M280.44 250.5v1.4M281.5 250.5v2.4" stroke="#000" stroke-width="0.7" fill="none"/>
<text transform="translate(184.4 250.5) rotate(-90) scale(1 0.82)" text-anchor="middle" font-family='"Liberation Sans", "DejaVu Sans", sans-serif' font-size="6.1" fill="#111" stroke="#111" stroke-width="0.2">0</text>
<text transform="translate(184.4 233.8) rotate(-90) scale(1 0.82)" text-anchor="middle" font-family='"Liberation Sans", "DejaVu Sans", sans-serif' font-size="6.1" fill="#111" stroke="#111" stroke-width="0.2">20</text>
<text transform="translate(184.4 217.1) rotate(-90) scale(1 0.82)" text-anchor="middle" font-family='"Liberation Sans", "DejaVu Sans", sans-serif' font-size="6.1" fill="#111" stroke="#111" stroke-width="0.2">40</text>
<text transform="translate(184.4 200.4) rotate(-90) scale(1 0.82)" text-anchor="middle" font-family='"Liberation Sans", "DejaVu Sans", sans-serif' font-size="6.1" fill="#111" stroke="#111" stroke-width="0.2">60</text>
<text transform="translate(184.4 183.7) rotate(-90) scale(1 0.82)" text-anchor="middle" font-family='"Liberation Sans", "DejaVu Sans", sans-serif' font-size="6.1" fill="#111" stroke="#111" stroke-width="0.2">80</text>
<text transform="translate(184.4 167) rotate(-90) scale(1 0.82)" text-anchor="middle" font-family='"Liberation Sans", "DejaVu Sans", sans-serif' font-size="6.1" fill="#111" stroke="#111" stroke-width="0.2">100</text>
<text x="188.9" y="259.6" text-anchor="middle" font-family='"Liberation Sans", "DejaVu Sans", sans-serif' font-size="6.1" fill="#111" stroke="#111" stroke-width="0.2">10<tspan dy="-2.81" font-size="4.88">0</tspan></text>
<text x="212.03" y="259.6" text-anchor="middle" font-family='"Liberation Sans", "DejaVu Sans", sans-serif' font-size="6.1" fill="#111" stroke="#111" stroke-width="0.2">10<tspan dy="-2.81" font-size="4.88">1</tspan></text>
<text x="235.15" y="259.6" text-anchor="middle" font-family='"Liberation Sans", "DejaVu Sans", sans-serif' font-size="6.1" fill="#111" stroke="#111" stroke-width="0.2">10<tspan dy="-2.81" font-size="4.88">2</tspan></text>
<text x="258.27" y="259.6" text-anchor="middle" font-family='"Liberation Sans", "DejaVu Sans", sans-serif' font-size="6.1" fill="#111" stroke="#111" stroke-width="0.2">10<tspan dy="-2.81" font-size="4.88">3</tspan></text>
<text x="281.4" y="259.6" text-anchor="middle" font-family='"Liberation Sans", "DejaVu Sans", sans-serif' font-size="6.1" fill="#111" stroke="#111" stroke-width="0.2">10<tspan dy="-2.81" font-size="4.88">4</tspan></text>
<path d="M189 232.5H240.8M240.8 228v9" stroke="#222" stroke-width="1" fill="none"/>
<path d="M240.8 207.5H281.5M240.8 202.8v9.4" stroke="#222" stroke-width="1" fill="none"/>
<text x="264.5" y="213.3" font-family='"Liberation Sans", "DejaVu Sans", sans-serif' font-size="5.3" fill="#111" stroke="#111" stroke-width="0.15" letter-spacing="0.5">M2</text>
<text transform="translate(278.4 179.6) scale(0.95 1)" font-family='"Liberation Serif", "DejaVu Serif", serif' font-size="14.4" text-anchor="end" fill="#000" stroke="#000" stroke-width="0.25">51%</text>
</g>
<g>
<path d="M313 249.3L313 249.25L313.5 247.45L314 247.03L314.5 247.89L315 246.95L315.5 247.19L316 248.14L316.5 244.61L317 248.49L317.5 243.89L318 244.87L318.5 244.64L319 242.97L319.5 245.95L320 242.51L320.5 236.13L321 245.62L321.5 234.44L322 232.93L322.5 232.05L323 228.33L323.5 234.08L324 232.11L324.5 225.96L325 232.95L325.5 227.76L326 223.37L326.5 220.5L327 225.72L327.5 217.28L328 217.85L328.5 222.81L329 222.04L329.5 213.69L330 221.11L330.5 219.21L331 219.26L331.5 209.6L332 219.06L332.5 224.52L333 224.46L333.5 216.36L334 223L334.5 221.86L335 220.92L335.5 220.89L336 220.77L336.5 224.59L337 224.48L337.5 224.61L338 228.3L338.5 226.51L339 229.42L339.5 231.03L340 227.85L340.5 229.9L341 232.68L341.5 234.02L342 237.79L342.5 231.85L343 233.2L343.5 233.71L344 233.33L344.5 238.54L345 235.93L345.5 232.63L346 237.53L346.5 232.99L347 237.49L347.5 239.68L348 239.72L348.5 241.37L349 238.62L349.5 241.91L350 242.4L350.5 239.47L351 237.98L351.5 244.49L352 241.51L352.5 245.11L353 241.19L353.5 241.24L354 243.1L354.5 241.21L355 242.59L355.5 244.25L356 245.59L356.5 244.25L357 243.7L357.5 244.35L358 245.35L358.5 247.68L359 244.7L359.5 244.05L360 246.24L360.5 245.74L361 245.61L361.5 245.87L362 246.51L362.5 246.56L363 244.36L363.5 245.12L364 243.89L364.5 241.95L365 243.62L365.5 243.6L366 244.77L366.5 245.49L367 240.71L367.5 240.41L368 242.05L368.5 237.03L369 242.65L369.5 238.41L370 239.42L370.5 240.68L371 238.92L371.5 239.78L372 239.41L372.5 238.74L373 241.84L373.5 238.01L374 236.59L374.5 238.19L375 239.44L375.5 236.84L376 240.46L376.5 237.73L377 239.2L377.5 236.94L378 240.56L378.5 238.19L379 236.39L379.5 236.14L380 237.11L380.5 239.94L381 234.79L381.5 232.03L382 230.93L382.5 236.76L383 233.53L383.5 228.24L384 233.39L384.5 232.86L385 229.16L385.5 233.53L386 236.8L386.5 233.9L387 234.28L387.5 239.76L388 238.7L388.5 235.87L389 239.01L389.5 244.18L390 241.42L390.5 237.83L391 240.89L391.5 244.65L392 241.83L392.5 243.07L393 242.74L393.5 243.98L394 244.28L394.5 245.67L395 245.2L395.5 245.23L396 246.2L396.5 247.47L397 244.67L397.5 248.45L398 246.28L398.5 247.47L399 244.82L399.5 245.81L400 247.81L400.5 246.43L401 247.16L401.5 246.97L402 247.94L402.5 247.9L403 247.42L403.5 247.89L403.7 249.3Z" fill="#000"/>
<path d="M313.55 249.3V231.08" stroke="#000" stroke-width="1.1"/>
<path d="M313 166.5H403.7V249.3" fill="none" stroke="#444" stroke-width="0.9"/>
<path d="M313 166.5V249.3H403.7" fill="none" stroke="#000" stroke-width="1.1"/>
<path d="M313 249.3h-2.3M313 245.99h-1.2M313 242.68h-1.2M313 239.36h-1.2M313 236.05h-1.2M313 232.74h-2.3M313 229.43h-1.2M313 226.12h-1.2M313 222.8h-1.2M313 219.49h-1.2M313 216.18h-2.3M313 212.87h-1.2M313 209.56h-1.2M313 206.24h-1.2M313 202.93h-1.2M313 199.62h-2.3M313 196.31h-1.2M313 193h-1.2M313 189.68h-1.2M313 186.37h-1.2M313 183.06h-2.3M313 179.75h-1.2M313 176.44h-1.2M313 173.12h-1.2M313 169.81h-1.2M313 166.5h-2.3" stroke="#000" stroke-width="0.7" fill="none"/>
<path d="M313 249.3v2.4M319.83 249.3v1.4M323.82 249.3v1.4M326.65 249.3v1.4M328.85 249.3v1.4M330.64 249.3v1.4M332.16 249.3v1.4M333.48 249.3v1.4M334.64 249.3v1.4M335.68 249.3v2.4M342.5 249.3v1.4M346.49 249.3v1.4M349.33 249.3v1.4M351.52 249.3v1.4M353.32 249.3v1.4M354.84 249.3v1.4M356.15 249.3v1.4M357.31 249.3v1.4M358.35 249.3v2.4M365.18 249.3v1.4M369.17 249.3v1.4M372 249.3v1.4M374.2 249.3v1.4M375.99 249.3v1.4M377.51 249.3v1.4M378.83 249.3v1.4M379.99 249.3v1.4M381.02 249.3v2.4M387.85 249.3v1.4M391.84 249.3v1.4M394.68 249.3v1.4M396.87 249.3v1.4M398.67 249.3v1.4M400.19 249.3v1.4M401.5 249.3v1.4M402.66 249.3v1.4M403.7 249.3v2.4" stroke="#000" stroke-width="0.7" fill="none"/>
<text transform="translate(308.4 249.3) rotate(-90) scale(1 0.82)" text-anchor="middle" font-family='"Liberation Sans", "DejaVu Sans", sans-serif' font-size="6.1" fill="#111" stroke="#111" stroke-width="0.2">0</text>
<text transform="translate(308.4 232.74) rotate(-90) scale(1 0.82)" text-anchor="middle" font-family='"Liberation Sans", "DejaVu Sans", sans-serif' font-size="6.1" fill="#111" stroke="#111" stroke-width="0.2">20</text>
<text transform="translate(308.4 216.18) rotate(-90) scale(1 0.82)" text-anchor="middle" font-family='"Liberation Sans", "DejaVu Sans", sans-serif' font-size="6.1" fill="#111" stroke="#111" stroke-width="0.2">40</text>
<text transform="translate(308.4 199.62) rotate(-90) scale(1 0.82)" text-anchor="middle" font-family='"Liberation Sans", "DejaVu Sans", sans-serif' font-size="6.1" fill="#111" stroke="#111" stroke-width="0.2">60</text>
<text transform="translate(308.4 183.06) rotate(-90) scale(1 0.82)" text-anchor="middle" font-family='"Liberation Sans", "DejaVu Sans", sans-serif' font-size="6.1" fill="#111" stroke="#111" stroke-width="0.2">80</text>
<text transform="translate(308.4 166.5) rotate(-90) scale(1 0.82)" text-anchor="middle" font-family='"Liberation Sans", "DejaVu Sans", sans-serif' font-size="6.1" fill="#111" stroke="#111" stroke-width="0.2">100</text>
<text x="312.9" y="258.4" text-anchor="middle" font-family='"Liberation Sans", "DejaVu Sans", sans-serif' font-size="6.1" fill="#111" stroke="#111" stroke-width="0.2">10<tspan dy="-2.81" font-size="4.88">0</tspan></text>
<text x="335.57" y="258.4" text-anchor="middle" font-family='"Liberation Sans", "DejaVu Sans", sans-serif' font-size="6.1" fill="#111" stroke="#111" stroke-width="0.2">10<tspan dy="-2.81" font-size="4.88">1</tspan></text>
<text x="358.25" y="258.4" text-anchor="middle" font-family='"Liberation Sans", "DejaVu Sans", sans-serif' font-size="6.1" fill="#111" stroke="#111" stroke-width="0.2">10<tspan dy="-2.81" font-size="4.88">2</tspan></text>
<text x="380.92" y="258.4" text-anchor="middle" font-family='"Liberation Sans", "DejaVu Sans", sans-serif' font-size="6.1" fill="#111" stroke="#111" stroke-width="0.2">10<tspan dy="-2.81" font-size="4.88">3</tspan></text>
<text x="403.6" y="258.4" text-anchor="middle" font-family='"Liberation Sans", "DejaVu Sans", sans-serif' font-size="6.1" fill="#111" stroke="#111" stroke-width="0.2">10<tspan dy="-2.81" font-size="4.88">4</tspan></text>
<path d="M313 230.6H364.4M364.4 226.1v9" stroke="#222" stroke-width="1" fill="none"/>
<path d="M364.4 206.9H403.7M364.4 202.2v9.4" stroke="#222" stroke-width="1" fill="none"/>
<text x="386.2" y="212.7" font-family='"Liberation Sans", "DejaVu Sans", sans-serif' font-size="5.3" fill="#111" stroke="#111" stroke-width="0.15" letter-spacing="0.5">M2</text>
<text transform="translate(400.9 179.7) scale(0.95 1)" font-family='"Liberation Serif", "DejaVu Serif", serif' font-size="14.4" text-anchor="end" fill="#000" stroke="#000" stroke-width="0.25">25%</text>
</g>
<text transform="translate(192.9 302.2) scale(0.97 1)" font-family='"Liberation Serif", "DejaVu Serif", serif' font-size="22.5" text-anchor="start" fill="#000" stroke="#000" stroke-width="0.3">Ph1-ALL</text>
<text transform="translate(427.3 303.1) scale(0.97 1)" font-family='"Liberation Serif", "DejaVu Serif", serif' font-size="22.5" text-anchor="start" fill="#000" stroke="#000" stroke-width="0.3">CML-BC</text>
<path d="M85.5 306.3H371.6M426.9 306.4H518.6" stroke="#383838" stroke-width="1.1" fill="none"/>
<text transform="translate(77.9 331.9) scale(0.94 1)" font-family='"Liberation Serif", "DejaVu Serif", serif' font-size="17" fill="#000" stroke="#000" stroke-width="0.3" style="word-spacing:2px">Pt <tspan font-size="18">1</tspan></text>
<text transform="translate(171.5 331.9) scale(0.94 1)" font-family='"Liberation Serif", "DejaVu Serif", serif' font-size="17" fill="#000" stroke="#000" stroke-width="0.3" style="word-spacing:1.1px">Pt <tspan font-size="18">2</tspan></text>
<text transform="translate(263.3 331.9) scale(0.94 1)" font-family='"Liberation Serif", "DejaVu Serif", serif' font-size="17" fill="#000" stroke="#000" stroke-width="0.3" style="word-spacing:1px">Pt <tspan font-size="18">8</tspan></text>
<text transform="translate(349 331.9) scale(0.94 1)" font-family='"Liberation Serif", "DejaVu Serif", serif' font-size="17" fill="#000" stroke="#000" stroke-width="0.3" style="word-spacing:1.9px">Pt <tspan font-size="18">9</tspan></text>
<text transform="translate(455.2 331.9) scale(0.94 1)" font-family='"Liberation Serif", "DejaVu Serif", serif' font-size="17" fill="#000" stroke="#000" stroke-width="0.3" style="word-spacing:2.3px">Pt <tspan font-size="18">12</tspan></text>
<text transform="translate(0.6 394.4) scale(0.94 1)" font-family='"Liberation Serif", "DejaVu Serif", serif' font-size="16.8" text-anchor="start" fill="#000" stroke="#000" stroke-width="0.3">DR4</text>
<text transform="translate(0.6 508.8) scale(0.94 1)" font-family='"Liberation Serif", "DejaVu Serif", serif' font-size="16.8" text-anchor="start" fill="#000" stroke="#000" stroke-width="0.3">DR5</text>
<g>
<path d="M51.9 424.8L51.9 417.68L52.5 418.91L53.1 417.55L53.7 417.25L54.3 418.1L54.9 415.94L55.5 416.65L56.1 415.3L56.7 414.61L57.3 411.58L57.9 410.92L58.5 409.53L59.1 409.7L59.7 405.64L60.3 403.15L60.9 399.81L61.5 402.49L62.1 399.1L62.7 395.45L63.3 392.44L63.9 391.11L64.5 385.2L65.1 387.97L65.7 390.22L66.3 384.65L66.9 385.62L67.5 382.9L68.1 390.7L68.7 393.9L69.3 393.8L69.9 399.09L70.5 404.9L71.1 409.93L71.7 413.91L72.3 414.68L72.9 418.86L73.5 419.39L74.1 421.89L74.7 422.56L75.3 422.99L75.9 422.67L76.5 423.6L77.1 424.02L77.7 423.29L78.3 424.72L78.9 423.77L79.5 423.88L80.1 424.31L80.7 424.07L81.3 423.72L81.9 424.09L82.5 424.18L83.1 424.19L83.7 424.38L84.3 424.02L84.9 423.52L85.5 424.19L86.1 424.07L86.7 424.68L87.3 424.12L87.9 423.94L88.5 423.98L89.1 424.56L89.7 424.14L90.3 424.51L90.9 424.32L91.5 424.38L92.1 424.01L92.7 424.51L93.3 424.48L93.9 424.74L94.5 424.24L95.1 424.26L95.7 424.11L96.3 423.95L96.9 424.42L97.5 424.57L98.1 424.55L98.7 424.28L99.3 424.56L99.9 424.47L100.5 424.35L101.1 424.2L101.7 424.17L102.3 424.02L102.9 424.15L103.5 424.3L104.1 424.44L104.7 424.53L105.3 424.25L105.9 424.71L106.5 424.35L107.1 424.59L107.7 424.28L108.3 424.45L108.9 424.71L109.5 424.05L110.1 424.26L110.7 424.49L111.3 424.39L111.9 424.07L112.5 424.37L113.1 424.5L113.7 424.54L114.3 424.68L114.9 424.57L115.5 424.26L116.1 424.35L116.7 424.24L117.3 424.62L117.9 424.61L118.5 424.68L119.1 424.26L119.7 424.8L120.3 424.15L120.9 424.63L121.5 424.55L122.1 424.48L122.7 424.31L123.3 424.64L123.9 424.1L124.5 424.5L125.1 424.52L125.7 424.58L126.3 424.59L126.9 424.48L127.5 424.45L128.1 424.04L128.7 424.52L129.3 424.56L129.9 424.54L130.5 424.36L131.1 424.38L131.6 424.8Z" fill="#ececec"/>
<path d="M51.9 424.8L51.9 417.68L52.5 418.91L53.1 417.95L53.7 417.25L54.3 418.35L54.9 416.66L55.5 416.65L56.1 415.3L56.7 414.61L57.3 411.58L57.9 410.92L58.5 409.53L59.1 409.7L59.7 405.64L60.3 403.15L60.9 405.29L61.5 402.49L62.1 399.1L62.7 395.64L63.3 392.44L63.9 392.49L64.5 388.04L65.1 387.97L65.7 390.22L66.3 384.65L66.9 387.18L67.5 388.26L68.1 390.7L68.7 395.91L69.3 397.67L69.9 402.55L70.5 407.09L71.1 409.97L71.7 413.91L72.3 416.81L72.9 418.86L73.5 419.65L74.1 422.04L74.7 422.56L75.3 422.99L75.9 424.05L76.5 423.81L77.1 424.02L77.7 424.05L78.3 424.72L78.9 424.26L79.5 424.18L80.1 424.31L80.7 424.07L81.3 424.26L81.9 424.09L82.5 424.78L83.1 424.19L83.7 424.38L84.3 424.24L84.9 424.39L85.5 424.53L86.1 424.34L86.7 424.68L87.3 424.13L87.9 423.98L88.5 424.1L89.1 424.56L89.7 424.14L90.3 424.51L90.9 424.32L91.5 424.38L92.1 424.58L92.7 424.51L93.3 424.48L93.9 424.74L94.5 424.24L95.1 424.26L95.7 424.62L96.3 424.19L96.9 424.44L97.5 424.57L98.1 424.57L98.7 424.62L99.3 424.56L99.9 424.67L100.5 424.35L101.1 424.2L101.7 424.43L102.3 424.47L102.9 424.8L103.5 424.32L104.1 424.44L104.7 424.53L105.3 424.6L105.9 424.71L106.5 424.6L107.1 424.64L107.7 424.28L108.3 424.53L108.9 424.71L109.5 424.32L110.1 424.26L110.7 424.49L111.3 424.51L111.9 424.34L112.5 424.48L113.1 424.5L113.7 424.8L114.3 424.68L114.9 424.57L115.5 424.54L116.1 424.43L116.7 424.48L117.3 424.62L117.9 424.61L118.5 424.68L119.1 424.69L119.7 424.8L120.3 424.6L120.9 424.63L121.5 424.55L122.1 424.71L122.7 424.31L123.3 424.64L123.9 424.63L124.5 424.68L125.1 424.52L125.7 424.58L126.3 424.59L126.9 424.49L127.5 424.45L128.1 424.67L128.7 424.52L129.3 424.62L129.9 424.71L130.5 424.36L131.1 424.61L131.6 424.8Z" fill="#dcdcdc"/>
<path d="M51.9 417.68L52.5 418.91L53.1 417.55L53.7 417.25L54.3 418.1L54.9 415.94L55.5 416.65L56.1 415.3L56.7 414.61L57.3 411.58L57.9 410.92L58.5 409.53L59.1 409.7L59.7 405.64L60.3 403.15L60.9 399.81L61.5 402.49L62.1 399.1L62.7 395.45L63.3 392.44L63.9 391.11L64.5 385.2L65.1 387.97L65.7 390.22L66.3 384.65L66.9 385.62L67.5 382.9L68.1 390.7L68.7 393.9L69.3 393.8L69.9 399.09L70.5 404.9L71.1 409.93L71.7 413.91L72.3 414.68L72.9 418.86L73.5 419.39L74.1 421.89L74.7 422.56L75.3 422.99L75.9 422.67L76.5 423.6L77.1 424.02L77.7 423.29L78.3 424.72L78.9 423.77L79.5 423.88L80.1 424.31L80.7 424.07L81.3 423.72L81.9 424.09L82.5 424.18L83.1 424.19L83.7 424.38L84.3 424.02L84.9 423.52L85.5 424.19L86.1 424.07L86.7 424.68L87.3 424.12L87.9 423.94L88.5 423.98L89.1 424.56L89.7 424.14L90.3 424.51L90.9 424.32L91.5 424.38L92.1 424.01L92.7 424.51L93.3 424.48L93.9 424.74L94.5 424.24L95.1 424.26L95.7 424.11L96.3 423.95L96.9 424.42L97.5 424.57L98.1 424.55L98.7 424.28L99.3 424.56L99.9 424.47L100.5 424.35L101.1 424.2L101.7 424.17L102.3 424.02L102.9 424.15L103.5 424.3L104.1 424.44L104.7 424.53L105.3 424.25L105.9 424.71L106.5 424.35L107.1 424.59L107.7 424.28L108.3 424.45L108.9 424.71L109.5 424.05L110.1 424.26L110.7 424.49L111.3 424.39L111.9 424.07L112.5 424.37L113.1 424.5L113.7 424.54L114.3 424.68L114.9 424.57L115.5 424.26L116.1 424.35L116.7 424.24L117.3 424.62L117.9 424.61L118.5 424.68L119.1 424.26L119.7 424.8L120.3 424.15L120.9 424.63L121.5 424.55L122.1 424.48L122.7 424.31L123.3 424.64L123.9 424.1L124.5 424.5L125.1 424.52L125.7 424.58L126.3 424.59L126.9 424.48L127.5 424.45L128.1 424.04L128.7 424.52L129.3 424.56L129.9 424.54L130.5 424.36L131.1 424.38" fill="none" stroke="#222" stroke-width="0.9" stroke-linejoin="round"/>
<path d="M51.9 417.51L52.5 417.66L53.1 417.95L53.7 416.49L54.3 418.35L54.9 416.66L55.5 416.53L56.1 413.84L56.7 412L57.3 411.12L57.9 410.02L58.5 408.1L59.1 408.45L59.7 404.26L60.3 402.87L60.9 405.29L61.5 400.18L62.1 396.19L62.7 395.64L63.3 392.09L63.9 392.49L64.5 388.04L65.1 384.2L65.7 384.58L66.3 382.85L66.9 387.18L67.5 388.26L68.1 389.77L68.7 395.91L69.3 397.67L69.9 402.55L70.5 407.09L71.1 409.97L71.7 412.41L72.3 416.81L72.9 418.82L73.5 419.65L74.1 422.04L74.7 422.47L75.3 422.68L75.9 424.05L76.5 423.81L77.1 423.4L77.7 424.05L78.3 424.27L78.9 424.26L79.5 424.18L80.1 423.78L80.7 423.83L81.3 424.26L81.9 423.95L82.5 424.78L83.1 423.98L83.7 423.61L84.3 424.24L84.9 424.39L85.5 424.53L86.1 424.34L86.7 423.96L87.3 424.13L87.9 423.98L88.5 424.1L89.1 424.09L89.7 424.06L90.3 424.1L90.9 424.17L91.5 424.29L92.1 424.58L92.7 423.98L93.3 424.29L93.9 424.06L94.5 424.08L95.1 424.2L95.7 424.62L96.3 424.19L96.9 424.44L97.5 424.56L98.1 424.57L98.7 424.62L99.3 423.96L99.9 424.67L100.5 424.3L101.1 424.2L101.7 424.43L102.3 424.47L102.9 424.8L103.5 424.32L104.1 424.32L104.7 424.51L105.3 424.6L105.9 424.68L106.5 424.6L107.1 424.64L107.7 424.11L108.3 424.53L108.9 424.24L109.5 424.32L110.1 424.07L110.7 424.28L111.3 424.51L111.9 424.34L112.5 424.48L113.1 424.4L113.7 424.8L114.3 424.3L114.9 424.53L115.5 424.54L116.1 424.43L116.7 424.48L117.3 424.08L117.9 424.51L118.5 424.43L119.1 424.69L119.7 424.31L120.3 424.6L120.9 424.57L121.5 424.38L122.1 424.71L122.7 424.31L123.3 424.24L123.9 424.63L124.5 424.68L125.1 424.29L125.7 424.22L126.3 424.54L126.9 424.49L127.5 424.45L128.1 424.67L128.7 424.48L129.3 424.62L129.9 424.71L130.5 424.33L131.1 424.61" fill="none" stroke="#222" stroke-width="0.9" stroke-linejoin="round"/>
<path d="M52.1 424.8V415.99" stroke="#000" stroke-width="1.4"/>
<path d="M51.9 351.4H131.6V424.8" fill="none" stroke="#333" stroke-width="0.9"/>
<path d="M51.9 351.4V424.8H131.6" fill="none" stroke="#000" stroke-width="1.1"/>
<path d="M51.9 424.8h-2.3M51.9 421.86h-1.2M51.9 418.93h-1.2M51.9 415.99h-1.2M51.9 413.06h-1.2M51.9 410.12h-2.3M51.9 407.18h-1.2M51.9 404.25h-1.2M51.9 401.31h-1.2M51.9 398.38h-1.2M51.9 395.44h-2.3M51.9 392.5h-1.2M51.9 389.57h-1.2M51.9 386.63h-1.2M51.9 383.7h-1.2M51.9 380.76h-2.3M51.9 377.82h-1.2M51.9 374.89h-1.2M51.9 371.95h-1.2M51.9 369.02h-1.2M51.9 366.08h-2.3M51.9 363.14h-1.2M51.9 360.21h-1.2M51.9 357.27h-1.2M51.9 354.34h-1.2M51.9 351.4h-2.3" stroke="#000" stroke-width="0.55" fill="none"/>
<path d="M51.9 424.8v2.4M57.9 424.8v1.4M61.41 424.8v1.4M63.9 424.8v1.4M65.83 424.8v1.4M67.4 424.8v1.4M68.74 424.8v1.4M69.89 424.8v1.4M70.91 424.8v1.4M71.82 424.8v2.4M77.82 424.8v1.4M81.33 424.8v1.4M83.82 424.8v1.4M85.75 424.8v1.4M87.33 424.8v1.4M88.66 424.8v1.4M89.82 424.8v1.4M90.84 424.8v1.4M91.75 424.8v2.4M97.75 424.8v1.4M101.26 424.8v1.4M103.75 424.8v1.4M105.68 424.8v1.4M107.25 424.8v1.4M108.59 424.8v1.4M109.74 424.8v1.4M110.76 424.8v1.4M111.67 424.8v2.4M117.67 424.8v1.4M121.18 424.8v1.4M123.67 424.8v1.4M125.6 424.8v1.4M127.18 424.8v1.4M128.51 424.8v1.4M129.67 424.8v1.4M130.69 424.8v1.4M131.6 424.8v2.4" stroke="#000" stroke-width="0.7" fill="none"/>
<text transform="translate(47.7 424.8) rotate(-90) scale(1 0.82)" text-anchor="middle" font-family='"Liberation Sans", "DejaVu Sans", sans-serif' font-size="5" fill="#111" stroke="#111" stroke-width="0.05">0</text>
<text transform="translate(47.7 410.12) rotate(-90) scale(1 0.82)" text-anchor="middle" font-family='"Liberation Sans", "DejaVu Sans", sans-serif' font-size="5" fill="#111" stroke="#111" stroke-width="0.05">20</text>
<text transform="translate(47.7 395.44) rotate(-90) scale(1 0.82)" text-anchor="middle" font-family='"Liberation Sans", "DejaVu Sans", sans-serif' font-size="5" fill="#111" stroke="#111" stroke-width="0.05">40</text>
<text transform="translate(47.7 380.76) rotate(-90) scale(1 0.82)" text-anchor="middle" font-family='"Liberation Sans", "DejaVu Sans", sans-serif' font-size="5" fill="#111" stroke="#111" stroke-width="0.05">60</text>
<text transform="translate(47.7 366.08) rotate(-90) scale(1 0.82)" text-anchor="middle" font-family='"Liberation Sans", "DejaVu Sans", sans-serif' font-size="5" fill="#111" stroke="#111" stroke-width="0.05">80</text>
<text transform="translate(47.7 351.4) rotate(-90) scale(1 0.82)" text-anchor="middle" font-family='"Liberation Sans", "DejaVu Sans", sans-serif' font-size="5" fill="#111" stroke="#111" stroke-width="0.05">100</text>
<text x="51" y="431.7" text-anchor="middle" font-family='"Liberation Sans", "DejaVu Sans", sans-serif' font-size="5" fill="#111" stroke="#111" stroke-width="0.05">10<tspan dy="-2.3" font-size="4">0</tspan></text>
<text x="70.92" y="431.7" text-anchor="middle" font-family='"Liberation Sans", "DejaVu Sans", sans-serif' font-size="5" fill="#111" stroke="#111" stroke-width="0.05">10<tspan dy="-2.3" font-size="4">1</tspan></text>
<text x="90.85" y="431.7" text-anchor="middle" font-family='"Liberation Sans", "DejaVu Sans", sans-serif' font-size="5" fill="#111" stroke="#111" stroke-width="0.05">10<tspan dy="-2.3" font-size="4">2</tspan></text>
<text x="110.77" y="431.7" text-anchor="middle" font-family='"Liberation Sans", "DejaVu Sans", sans-serif' font-size="5" fill="#111" stroke="#111" stroke-width="0.05">10<tspan dy="-2.3" font-size="4">3</tspan></text>
<text x="130.7" y="431.7" text-anchor="middle" font-family='"Liberation Sans", "DejaVu Sans", sans-serif' font-size="5" fill="#111" stroke="#111" stroke-width="0.05">10<tspan dy="-2.3" font-size="4">4</tspan></text>
<text transform="translate(126.8 365.6) scale(1.08 1)" font-family='"Liberation Serif", "DejaVu Serif", serif' font-size="10.9" text-anchor="end" fill="#000" stroke="#000" stroke-width="0.2">1.0</text>
</g>
<g>
<path d="M142.7 425L142.7 420.96L143.3 418.38L143.9 420.47L144.5 420.64L145.1 419.39L145.7 418.73L146.3 420.55L146.9 419.18L147.5 418.07L148.1 416.38L148.7 416.97L149.3 415.09L149.9 413.27L150.5 412.58L151.1 413.32L151.7 411.41L152.3 410.61L152.9 405.83L153.5 403.87L154.1 404.04L154.7 399.02L155.3 394.42L155.9 398.39L156.5 396.04L157.1 389.76L157.7 391.31L158.3 388.59L158.9 389.03L159.5 387.43L160.1 379.76L160.7 388.6L161.3 392.91L161.9 388.95L162.5 395.05L163.1 396.72L163.7 402.69L164.3 405.25L164.9 407.71L165.5 413.17L166.1 413.89L166.7 415.73L167.3 418.91L167.9 417.92L168.5 419.3L169.1 421.71L169.7 420.23L170.3 422.82L170.9 422.44L171.5 422.01L172.1 423.5L172.7 422.09L173.3 423.12L173.9 422.48L174.5 423.41L175.1 421.88L175.7 423.37L176.3 423.21L176.9 423.2L177.5 423.51L178.1 423.87L178.7 423.93L179.3 422.99L179.9 423.43L180.5 423.81L181.1 423.73L181.7 424.36L182.3 424.05L182.9 424.06L183.5 424.15L184.1 424.27L184.7 423.84L185.3 423.93L185.9 424.39L186.5 424.44L187.1 424.39L187.7 424.77L188.3 424.29L188.9 424.61L189.5 424.63L190.1 424.49L190.7 424.7L191.3 424.21L191.9 424.26L192.5 424.74L193.1 424.73L193.7 424.57L194.3 424.37L194.9 424.59L195.5 424.47L196.1 424.9L196.7 424.53L197.3 424.67L197.9 424.58L198.5 424.72L199.1 425L199.7 424.41L200.3 424.38L200.9 424.99L201.5 424.14L202.1 424.67L202.7 424.6L203.3 424.54L203.9 425L204.5 424.46L205.1 424.82L205.7 424.75L206.3 424.34L206.9 424.31L207.5 424.73L208.1 424.66L208.7 424.21L209.3 424.7L209.9 424.71L210.5 424.85L211.1 424.52L211.7 424.83L212.3 424.58L212.9 425L213.5 424.52L214.1 424.21L214.7 424.85L215.3 424.58L215.9 424.72L216.5 424.06L217.1 424.65L217.7 425L218.3 424.8L218.9 424.76L219.5 424.47L220.1 424.96L220.7 424.43L221.3 424.52L221.9 424.78L222.5 424.67L223.1 424.55L223.2 425Z" fill="#ececec"/>
<path d="M142.7 425L142.7 421.18L143.3 421.99L143.9 420.73L144.5 420.64L145.1 419.98L145.7 419.95L146.3 420.55L146.9 419.18L147.5 419.51L148.1 418.88L148.7 416.97L149.3 415.36L149.9 416.29L150.5 414.86L151.1 413.32L151.7 411.87L152.3 411.36L152.9 407.65L153.5 405.22L154.1 404.04L154.7 400.88L155.3 396.99L155.9 398.39L156.5 396.04L157.1 392.53L157.7 391.31L158.3 391.32L158.9 389.03L159.5 388.16L160.1 385.68L160.7 390.22L161.3 392.91L161.9 393.79L162.5 399.76L163.1 401.49L163.7 402.69L164.3 406.31L164.9 407.71L165.5 415.48L166.1 415.71L166.7 418.37L167.3 418.91L167.9 419.79L168.5 420.95L169.1 421.71L169.7 420.9L170.3 422.82L170.9 422.6L171.5 422.01L172.1 423.5L172.7 422.09L173.3 423.12L173.9 423.04L174.5 423.41L175.1 423.19L175.7 423.37L176.3 423.55L176.9 423.68L177.5 423.51L178.1 423.87L178.7 423.93L179.3 423.84L179.9 423.78L180.5 423.81L181.1 423.86L181.7 424.36L182.3 424.05L182.9 424.06L183.5 424.15L184.1 424.27L184.7 423.93L185.3 424.13L185.9 424.39L186.5 424.44L187.1 424.45L187.7 424.77L188.3 424.56L188.9 424.61L189.5 424.63L190.1 424.84L190.7 424.7L191.3 424.35L191.9 424.38L192.5 424.74L193.1 424.73L193.7 424.59L194.3 424.44L194.9 424.59L195.5 424.47L196.1 424.9L196.7 424.53L197.3 424.71L197.9 424.89L198.5 424.72L199.1 425L199.7 424.88L200.3 424.77L200.9 424.99L201.5 424.67L202.1 424.67L202.7 424.8L203.3 424.87L203.9 425L204.5 424.86L205.1 424.82L205.7 424.75L206.3 424.67L206.9 424.73L207.5 424.95L208.1 424.66L208.7 425L209.3 424.78L209.9 424.71L210.5 424.85L211.1 424.52L211.7 424.83L212.3 424.74L212.9 425L213.5 424.56L214.1 424.38L214.7 424.85L215.3 424.91L215.9 424.72L216.5 425L217.1 424.65L217.7 425L218.3 424.86L218.9 424.95L219.5 424.68L220.1 424.96L220.7 425L221.3 424.52L221.9 424.97L222.5 425L223.1 424.88L223.2 425Z" fill="#dcdcdc"/>
<path d="M142.7 420.96L143.3 418.38L143.9 420.47L144.5 420.64L145.1 419.39L145.7 418.73L146.3 420.55L146.9 419.18L147.5 418.07L148.1 416.38L148.7 416.97L149.3 415.09L149.9 413.27L150.5 412.58L151.1 413.32L151.7 411.41L152.3 410.61L152.9 405.83L153.5 403.87L154.1 404.04L154.7 399.02L155.3 394.42L155.9 398.39L156.5 396.04L157.1 389.76L157.7 391.31L158.3 388.59L158.9 389.03L159.5 387.43L160.1 379.76L160.7 388.6L161.3 392.91L161.9 388.95L162.5 395.05L163.1 396.72L163.7 402.69L164.3 405.25L164.9 407.71L165.5 413.17L166.1 413.89L166.7 415.73L167.3 418.91L167.9 417.92L168.5 419.3L169.1 421.71L169.7 420.23L170.3 422.82L170.9 422.44L171.5 422.01L172.1 423.5L172.7 422.09L173.3 423.12L173.9 422.48L174.5 423.41L175.1 421.88L175.7 423.37L176.3 423.21L176.9 423.2L177.5 423.51L178.1 423.87L178.7 423.93L179.3 422.99L179.9 423.43L180.5 423.81L181.1 423.73L181.7 424.36L182.3 424.05L182.9 424.06L183.5 424.15L184.1 424.27L184.7 423.84L185.3 423.93L185.9 424.39L186.5 424.44L187.1 424.39L187.7 424.77L188.3 424.29L188.9 424.61L189.5 424.63L190.1 424.49L190.7 424.7L191.3 424.21L191.9 424.26L192.5 424.74L193.1 424.73L193.7 424.57L194.3 424.37L194.9 424.59L195.5 424.47L196.1 424.9L196.7 424.53L197.3 424.67L197.9 424.58L198.5 424.72L199.1 425L199.7 424.41L200.3 424.38L200.9 424.99L201.5 424.14L202.1 424.67L202.7 424.6L203.3 424.54L203.9 425L204.5 424.46L205.1 424.82L205.7 424.75L206.3 424.34L206.9 424.31L207.5 424.73L208.1 424.66L208.7 424.21L209.3 424.7L209.9 424.71L210.5 424.85L211.1 424.52L211.7 424.83L212.3 424.58L212.9 425L213.5 424.52L214.1 424.21L214.7 424.85L215.3 424.58L215.9 424.72L216.5 424.06L217.1 424.65L217.7 425L218.3 424.8L218.9 424.76L219.5 424.47L220.1 424.96L220.7 424.43L221.3 424.52L221.9 424.78L222.5 424.67L223.1 424.55" fill="none" stroke="#222" stroke-width="0.9" stroke-linejoin="round"/>
<path d="M142.7 421.18L143.3 421.99L143.9 420.73L144.5 419.28L145.1 419.98L145.7 419.95L146.3 419.31L146.9 418.92L147.5 419.51L148.1 418.88L148.7 416.42L149.3 415.36L149.9 416.29L150.5 414.86L151.1 411.85L151.7 411.87L152.3 411.36L152.9 407.65L153.5 405.22L154.1 402.17L154.7 400.88L155.3 396.99L155.9 395.97L156.5 392.34L157.1 392.53L157.7 388.85L158.3 391.32L158.9 383.89L159.5 388.16L160.1 385.68L160.7 390.22L161.3 388.88L161.9 393.79L162.5 399.76L163.1 401.49L163.7 402.23L164.3 406.31L164.9 407.66L165.5 415.48L166.1 415.71L166.7 418.37L167.3 418.08L167.9 419.79L168.5 420.95L169.1 420.08L169.7 420.9L170.3 421.15L170.9 422.6L171.5 421.19L172.1 423.13L172.7 422.04L173.3 422.49L173.9 423.04L174.5 422.95L175.1 423.19L175.7 422.38L176.3 423.55L176.9 423.68L177.5 423.3L178.1 423.5L178.7 423.4L179.3 423.84L179.9 423.78L180.5 423.47L181.1 423.86L181.7 424.1L182.3 423.8L182.9 423.6L183.5 423.46L184.1 423.98L184.7 423.93L185.3 424.13L185.9 424.39L186.5 424.26L187.1 424.45L187.7 424.31L188.3 424.56L188.9 424.53L189.5 424.21L190.1 424.84L190.7 424.58L191.3 424.35L191.9 424.38L192.5 424.69L193.1 424.57L193.7 424.59L194.3 424.44L194.9 424.53L195.5 424.41L196.1 424.46L196.7 424.36L197.3 424.71L197.9 424.89L198.5 424.31L199.1 424.66L199.7 424.88L200.3 424.77L200.9 424.81L201.5 424.67L202.1 424.61L202.7 424.8L203.3 424.87L203.9 424.62L204.5 424.86L205.1 424.68L205.7 424.72L206.3 424.67L206.9 424.73L207.5 424.95L208.1 424.6L208.7 425L209.3 424.78L209.9 424.66L210.5 424.67L211.1 424.34L211.7 424.72L212.3 424.74L212.9 424.61L213.5 424.56L214.1 424.38L214.7 424.36L215.3 424.91L215.9 424.56L216.5 425L217.1 424.64L217.7 424.79L218.3 424.86L218.9 424.95L219.5 424.68L220.1 424.79L220.7 425L221.3 424.38L221.9 424.97L222.5 425L223.1 424.88" fill="none" stroke="#222" stroke-width="0.9" stroke-linejoin="round"/>
<path d="M142.9 425V419.11" stroke="#000" stroke-width="1.4"/>
<path d="M142.7 351.4H223.2V425" fill="none" stroke="#333" stroke-width="0.9"/>
<path d="M142.7 351.4V425H223.2" fill="none" stroke="#000" stroke-width="1.1"/>
<path d="M142.7 425h-2.3M142.7 422.06h-1.2M142.7 419.11h-1.2M142.7 416.17h-1.2M142.7 413.22h-1.2M142.7 410.28h-2.3M142.7 407.34h-1.2M142.7 404.39h-1.2M142.7 401.45h-1.2M142.7 398.5h-1.2M142.7 395.56h-2.3M142.7 392.62h-1.2M142.7 389.67h-1.2M142.7 386.73h-1.2M142.7 383.78h-1.2M142.7 380.84h-2.3M142.7 377.9h-1.2M142.7 374.95h-1.2M142.7 372.01h-1.2M142.7 369.06h-1.2M142.7 366.12h-2.3M142.7 363.18h-1.2M142.7 360.23h-1.2M142.7 357.29h-1.2M142.7 354.34h-1.2M142.7 351.4h-2.3" stroke="#000" stroke-width="0.55" fill="none"/>
<path d="M142.7 425v2.4M148.76 425v1.4M152.3 425v1.4M154.82 425v1.4M156.77 425v1.4M158.36 425v1.4M159.71 425v1.4M160.87 425v1.4M161.9 425v1.4M162.82 425v2.4M168.88 425v1.4M172.43 425v1.4M174.94 425v1.4M176.89 425v1.4M178.49 425v1.4M179.83 425v1.4M181 425v1.4M182.03 425v1.4M182.95 425v2.4M189.01 425v1.4M192.55 425v1.4M195.07 425v1.4M197.02 425v1.4M198.61 425v1.4M199.96 425v1.4M201.12 425v1.4M202.15 425v1.4M203.07 425v2.4M209.13 425v1.4M212.68 425v1.4M215.19 425v1.4M217.14 425v1.4M218.74 425v1.4M220.08 425v1.4M221.25 425v1.4M222.28 425v1.4M223.2 425v2.4" stroke="#000" stroke-width="0.7" fill="none"/>
<text transform="translate(138.5 425) rotate(-90) scale(1 0.82)" text-anchor="middle" font-family='"Liberation Sans", "DejaVu Sans", sans-serif' font-size="5" fill="#111" stroke="#111" stroke-width="0.05">0</text>
<text transform="translate(138.5 410.28) rotate(-90) scale(1 0.82)" text-anchor="middle" font-family='"Liberation Sans", "DejaVu Sans", sans-serif' font-size="5" fill="#111" stroke="#111" stroke-width="0.05">20</text>
<text transform="translate(138.5 395.56) rotate(-90) scale(1 0.82)" text-anchor="middle" font-family='"Liberation Sans", "DejaVu Sans", sans-serif' font-size="5" fill="#111" stroke="#111" stroke-width="0.05">40</text>
<text transform="translate(138.5 380.84) rotate(-90) scale(1 0.82)" text-anchor="middle" font-family='"Liberation Sans", "DejaVu Sans", sans-serif' font-size="5" fill="#111" stroke="#111" stroke-width="0.05">60</text>
<text transform="translate(138.5 366.12) rotate(-90) scale(1 0.82)" text-anchor="middle" font-family='"Liberation Sans", "DejaVu Sans", sans-serif' font-size="5" fill="#111" stroke="#111" stroke-width="0.05">80</text>
<text transform="translate(138.5 351.4) rotate(-90) scale(1 0.82)" text-anchor="middle" font-family='"Liberation Sans", "DejaVu Sans", sans-serif' font-size="5" fill="#111" stroke="#111" stroke-width="0.05">100</text>
<text x="141.8" y="431.9" text-anchor="middle" font-family='"Liberation Sans", "DejaVu Sans", sans-serif' font-size="5" fill="#111" stroke="#111" stroke-width="0.05">10<tspan dy="-2.3" font-size="4">0</tspan></text>
<text x="161.92" y="431.9" text-anchor="middle" font-family='"Liberation Sans", "DejaVu Sans", sans-serif' font-size="5" fill="#111" stroke="#111" stroke-width="0.05">10<tspan dy="-2.3" font-size="4">1</tspan></text>
<text x="182.05" y="431.9" text-anchor="middle" font-family='"Liberation Sans", "DejaVu Sans", sans-serif' font-size="5" fill="#111" stroke="#111" stroke-width="0.05">10<tspan dy="-2.3" font-size="4">2</tspan></text>
<text x="202.17" y="431.9" text-anchor="middle" font-family='"Liberation Sans", "DejaVu Sans", sans-serif' font-size="5" fill="#111" stroke="#111" stroke-width="0.05">10<tspan dy="-2.3" font-size="4">3</tspan></text>
<text x="222.3" y="431.9" text-anchor="middle" font-family='"Liberation Sans", "DejaVu Sans", sans-serif' font-size="5" fill="#111" stroke="#111" stroke-width="0.05">10<tspan dy="-2.3" font-size="4">4</tspan></text>
<text transform="translate(217.4 366.1) scale(1.08 1)" font-family='"Liberation Serif", "DejaVu Serif", serif' font-size="10.9" text-anchor="end" fill="#000" stroke="#000" stroke-width="0.2">1.0</text>
</g>
<g>
<path d="M234.4 425.6L234.4 419.2L235 420.25L235.6 421.03L236.2 420.67L236.8 419.71L237.4 419.7L238 419.38L238.6 419.6L239.2 420.52L239.8 418.67L240.4 417.36L241 417.52L241.6 414.56L242.2 414.04L242.8 414.16L243.4 410.74L244 410.65L244.6 407.31L245.2 403.92L245.8 399.79L246.4 397.2L247 394.27L247.6 390.69L248.2 393.34L248.8 388.63L249.4 386.25L250 383.88L250.6 383.63L251.2 382.36L251.8 382.79L252.4 389.94L253 391.82L253.6 387.55L254.2 392.34L254.8 394.94L255.4 403.99L256 404.88L256.6 414.07L257.2 413.21L257.8 414.99L258.4 418.2L259 420.73L259.6 419.93L260.2 422.58L260.8 423.76L261.4 424.76L262 424.29L262.6 424.26L263.2 425.01L263.8 424.48L264.4 424.99L265 425.03L265.6 425.11L266.2 425.04L266.8 424.91L267.4 425.49L268 424.72L268.6 425.16L269.2 424.94L269.8 425L270.4 425.36L271 424.97L271.6 425.37L272.2 425.12L272.8 425.33L273.4 424.7L274 424.91L274.6 424.94L275.2 425.23L275.8 425.15L276.4 425.18L277 425.4L277.6 425.14L278.2 424.68L278.8 424.93L279.4 425L280 425.3L280.6 425.21L281.2 425.18L281.8 425.26L282.4 425.49L283 425.48L283.6 425.16L284.2 425.06L284.8 425.09L285.4 425.34L286 425.33L286.6 425.41L287.2 425.08L287.8 425.1L288.4 424.94L289 424.84L289.6 425.21L290.2 424.88L290.8 424.9L291.4 425.43L292 425.26L292.6 424.95L293.2 424.79L293.8 425.14L294.4 424.99L295 424.96L295.6 425.57L296.2 425.54L296.8 425.07L297.4 425.4L298 425.21L298.6 425.17L299.2 425.42L299.8 425.41L300.4 425.1L301 425.39L301.6 425.12L302.2 425.29L302.8 424.74L303.4 425.12L304 425.1L304.6 425.11L305.2 425.23L305.8 425.44L306.4 425.36L307 425.32L307.6 425.11L308.2 425.42L308.8 425.32L309.4 425.42L310 425.13L310.6 425.09L311.2 425.41L311.8 425.54L312.4 425.06L313 425.39L313.6 425.17L314.2 425.37L314.8 425.15L315.1 425.6Z" fill="#ececec"/>
<path d="M234.4 425.6L234.4 419.2L235 420.25L235.6 421.03L236.2 420.67L236.8 419.71L237.4 419.7L238 419.38L238.6 419.6L239.2 420.52L239.8 418.67L240.4 417.36L241 417.52L241.6 414.56L242.2 414.04L242.8 414.16L243.4 410.74L244 410.65L244.6 407.31L245.2 403.92L245.8 399.79L246.4 397.2L247 394.27L247.6 390.69L248.2 393.34L248.8 388.63L249.4 386.25L250 390.3L250.6 387.11L251.2 384.45L251.8 388L252.4 390.13L253 393.87L253.6 398.15L254.2 401.35L254.8 403.89L255.4 410.2L256 410.98L256.6 414.07L257.2 417.62L257.8 420.85L258.4 421.74L259 421.14L259.6 422.98L260.2 423.17L260.8 423.76L261.4 424.76L262 425.3L262.6 424.94L263.2 425.41L263.8 425.27L264.4 425.41L265 425.03L265.6 425.11L266.2 425.04L266.8 424.91L267.4 425.49L268 425.15L268.6 425.6L269.2 425.04L269.8 425.02L270.4 425.36L271 424.97L271.6 425.37L272.2 425.6L272.8 425.33L273.4 424.87L274 425.3L274.6 425.22L275.2 425.23L275.8 425.15L276.4 425.18L277 425.4L277.6 425.57L278.2 425.39L278.8 425.35L279.4 425L280 425.3L280.6 425.21L281.2 425.2L281.8 425.26L282.4 425.49L283 425.48L283.6 425.16L284.2 425.2L284.8 425.6L285.4 425.34L286 425.47L286.6 425.44L287.2 425.37L287.8 425.27L288.4 425.05L289 425.25L289.6 425.44L290.2 424.88L290.8 425.32L291.4 425.43L292 425.34L292.6 425.05L293.2 425.11L293.8 425.14L294.4 425.27L295 424.96L295.6 425.57L296.2 425.54L296.8 425.19L297.4 425.4L298 425.52L298.6 425.24L299.2 425.42L299.8 425.41L300.4 425.2L301 425.39L301.6 425.13L302.2 425.29L302.8 425.34L303.4 425.22L304 425.22L304.6 425.11L305.2 425.23L305.8 425.44L306.4 425.36L307 425.32L307.6 425.13L308.2 425.42L308.8 425.6L309.4 425.42L310 425.44L310.6 425.09L311.2 425.41L311.8 425.54L312.4 425.06L313 425.53L313.6 425.23L314.2 425.45L314.8 425.43L315.1 425.6Z" fill="#dcdcdc"/>
<path d="M234.4 419.2L235 420.25L235.6 421.03L236.2 420.67L236.8 419.71L237.4 419.7L238 419.38L238.6 419.6L239.2 420.52L239.8 418.67L240.4 417.36L241 417.52L241.6 414.56L242.2 414.04L242.8 414.16L243.4 410.74L244 410.65L244.6 407.31L245.2 403.92L245.8 399.79L246.4 397.2L247 394.27L247.6 390.69L248.2 393.34L248.8 388.63L249.4 386.25L250 383.88L250.6 383.63L251.2 382.36L251.8 382.79L252.4 389.94L253 391.82L253.6 387.55L254.2 392.34L254.8 394.94L255.4 403.99L256 404.88L256.6 414.07L257.2 413.21L257.8 414.99L258.4 418.2L259 420.73L259.6 419.93L260.2 422.58L260.8 423.76L261.4 424.76L262 424.29L262.6 424.26L263.2 425.01L263.8 424.48L264.4 424.99L265 425.03L265.6 425.11L266.2 425.04L266.8 424.91L267.4 425.49L268 424.72L268.6 425.16L269.2 424.94L269.8 425L270.4 425.36L271 424.97L271.6 425.37L272.2 425.12L272.8 425.33L273.4 424.7L274 424.91L274.6 424.94L275.2 425.23L275.8 425.15L276.4 425.18L277 425.4L277.6 425.14L278.2 424.68L278.8 424.93L279.4 425L280 425.3L280.6 425.21L281.2 425.18L281.8 425.26L282.4 425.49L283 425.48L283.6 425.16L284.2 425.06L284.8 425.09L285.4 425.34L286 425.33L286.6 425.41L287.2 425.08L287.8 425.1L288.4 424.94L289 424.84L289.6 425.21L290.2 424.88L290.8 424.9L291.4 425.43L292 425.26L292.6 424.95L293.2 424.79L293.8 425.14L294.4 424.99L295 424.96L295.6 425.57L296.2 425.54L296.8 425.07L297.4 425.4L298 425.21L298.6 425.17L299.2 425.42L299.8 425.41L300.4 425.1L301 425.39L301.6 425.12L302.2 425.29L302.8 424.74L303.4 425.12L304 425.1L304.6 425.11L305.2 425.23L305.8 425.44L306.4 425.36L307 425.32L307.6 425.11L308.2 425.42L308.8 425.32L309.4 425.42L310 425.13L310.6 425.09L311.2 425.41L311.8 425.54L312.4 425.06L313 425.39L313.6 425.17L314.2 425.37L314.8 425.15" fill="none" stroke="#222" stroke-width="0.9" stroke-linejoin="round"/>
<path d="M234.4 418.5L235 419.49L235.6 418.93L236.2 418.84L236.8 419.15L237.4 418.25L238 416.12L238.6 415.53L239.2 416.21L239.8 414.62L240.4 414.32L241 413.97L241.6 410.47L242.2 410.37L242.8 406L243.4 403.75L244 400.98L244.6 398.23L245.2 398.11L245.8 394.5L246.4 386.69L247 386.26L247.6 386.74L248.2 384.84L248.8 381.68L249.4 385.97L250 390.3L250.6 387.11L251.2 384.45L251.8 388L252.4 390.13L253 393.87L253.6 398.15L254.2 401.35L254.8 403.89L255.4 410.2L256 410.98L256.6 412.98L257.2 417.62L257.8 420.85L258.4 421.74L259 421.14L259.6 422.98L260.2 423.17L260.8 423.51L261.4 424.12L262 425.3L262.6 424.94L263.2 425.41L263.8 425.27L264.4 425.41L265 424.69L265.6 424.96L266.2 424.74L266.8 424.45L267.4 424.78L268 425.15L268.6 425.6L269.2 425.04L269.8 425.02L270.4 424.84L271 424.85L271.6 425.1L272.2 425.6L272.8 424.93L273.4 424.87L274 425.3L274.6 425.22L275.2 424.96L275.8 425.08L276.4 425.05L277 424.91L277.6 425.57L278.2 425.39L278.8 425.35L279.4 424.81L280 425.14L280.6 424.83L281.2 425.2L281.8 425.1L282.4 425.45L283 424.88L283.6 425.09L284.2 425.2L284.8 425.6L285.4 425.34L286 425.47L286.6 425.44L287.2 425.37L287.8 425.27L288.4 425.05L289 425.25L289.6 425.44L290.2 424.86L290.8 425.32L291.4 425.24L292 425.34L292.6 425.05L293.2 425.11L293.8 424.97L294.4 425.27L295 424.69L295.6 425.28L296.2 425.17L296.8 425.19L297.4 425.23L298 425.52L298.6 425.24L299.2 425.37L299.8 425.24L300.4 425.2L301 425.09L301.6 425.13L302.2 425L302.8 425.34L303.4 425.22L304 425.22L304.6 425.01L305.2 424.98L305.8 425.27L306.4 425.13L307 425.2L307.6 425.13L308.2 425.35L308.8 425.6L309.4 424.94L310 425.44L310.6 425.05L311.2 425.3L311.8 425.09L312.4 424.75L313 425.53L313.6 425.23L314.2 425.45L314.8 425.43" fill="none" stroke="#222" stroke-width="0.9" stroke-linejoin="round"/>
<path d="M234.6 425.6V416.85" stroke="#000" stroke-width="1.4"/>
<path d="M234.4 352.7H315.1V425.6" fill="none" stroke="#333" stroke-width="0.9"/>
<path d="M234.4 352.7V425.6H315.1" fill="none" stroke="#000" stroke-width="1.1"/>
<path d="M234.4 425.6h-2.3M234.4 422.68h-1.2M234.4 419.77h-1.2M234.4 416.85h-1.2M234.4 413.94h-1.2M234.4 411.02h-2.3M234.4 408.1h-1.2M234.4 405.19h-1.2M234.4 402.27h-1.2M234.4 399.36h-1.2M234.4 396.44h-2.3M234.4 393.52h-1.2M234.4 390.61h-1.2M234.4 387.69h-1.2M234.4 384.78h-1.2M234.4 381.86h-2.3M234.4 378.94h-1.2M234.4 376.03h-1.2M234.4 373.11h-1.2M234.4 370.2h-1.2M234.4 367.28h-2.3M234.4 364.36h-1.2M234.4 361.45h-1.2M234.4 358.53h-1.2M234.4 355.62h-1.2M234.4 352.7h-2.3" stroke="#000" stroke-width="0.55" fill="none"/>
<path d="M234.4 425.6v2.4M240.47 425.6v1.4M244.03 425.6v1.4M246.55 425.6v1.4M248.5 425.6v1.4M250.1 425.6v1.4M251.45 425.6v1.4M252.62 425.6v1.4M253.65 425.6v1.4M254.58 425.6v2.4M260.65 425.6v1.4M264.2 425.6v1.4M266.72 425.6v1.4M268.68 425.6v1.4M270.27 425.6v1.4M271.62 425.6v1.4M272.79 425.6v1.4M273.83 425.6v1.4M274.75 425.6v2.4M280.82 425.6v1.4M284.38 425.6v1.4M286.9 425.6v1.4M288.85 425.6v1.4M290.45 425.6v1.4M291.8 425.6v1.4M292.97 425.6v1.4M294 425.6v1.4M294.93 425.6v2.4M301 425.6v1.4M304.55 425.6v1.4M307.07 425.6v1.4M309.03 425.6v1.4M310.62 425.6v1.4M311.97 425.6v1.4M313.14 425.6v1.4M314.18 425.6v1.4M315.1 425.6v2.4" stroke="#000" stroke-width="0.7" fill="none"/>
<text transform="translate(230.2 425.6) rotate(-90) scale(1 0.82)" text-anchor="middle" font-family='"Liberation Sans", "DejaVu Sans", sans-serif' font-size="5" fill="#111" stroke="#111" stroke-width="0.05">0</text>
<text transform="translate(230.2 411.02) rotate(-90) scale(1 0.82)" text-anchor="middle" font-family='"Liberation Sans", "DejaVu Sans", sans-serif' font-size="5" fill="#111" stroke="#111" stroke-width="0.05">20</text>
<text transform="translate(230.2 396.44) rotate(-90) scale(1 0.82)" text-anchor="middle" font-family='"Liberation Sans", "DejaVu Sans", sans-serif' font-size="5" fill="#111" stroke="#111" stroke-width="0.05">40</text>
<text transform="translate(230.2 381.86) rotate(-90) scale(1 0.82)" text-anchor="middle" font-family='"Liberation Sans", "DejaVu Sans", sans-serif' font-size="5" fill="#111" stroke="#111" stroke-width="0.05">60</text>
<text transform="translate(230.2 367.28) rotate(-90) scale(1 0.82)" text-anchor="middle" font-family='"Liberation Sans", "DejaVu Sans", sans-serif' font-size="5" fill="#111" stroke="#111" stroke-width="0.05">80</text>
<text transform="translate(230.2 352.7) rotate(-90) scale(1 0.82)" text-anchor="middle" font-family='"Liberation Sans", "DejaVu Sans", sans-serif' font-size="5" fill="#111" stroke="#111" stroke-width="0.05">100</text>
<text x="233.5" y="432.5" text-anchor="middle" font-family='"Liberation Sans", "DejaVu Sans", sans-serif' font-size="5" fill="#111" stroke="#111" stroke-width="0.05">10<tspan dy="-2.3" font-size="4">0</tspan></text>
<text x="253.68" y="432.5" text-anchor="middle" font-family='"Liberation Sans", "DejaVu Sans", sans-serif' font-size="5" fill="#111" stroke="#111" stroke-width="0.05">10<tspan dy="-2.3" font-size="4">1</tspan></text>
<text x="273.85" y="432.5" text-anchor="middle" font-family='"Liberation Sans", "DejaVu Sans", sans-serif' font-size="5" fill="#111" stroke="#111" stroke-width="0.05">10<tspan dy="-2.3" font-size="4">2</tspan></text>
<text x="294.03" y="432.5" text-anchor="middle" font-family='"Liberation Sans", "DejaVu Sans", sans-serif' font-size="5" fill="#111" stroke="#111" stroke-width="0.05">10<tspan dy="-2.3" font-size="4">3</tspan></text>
<text x="314.2" y="432.5" text-anchor="middle" font-family='"Liberation Sans", "DejaVu Sans", sans-serif' font-size="5" fill="#111" stroke="#111" stroke-width="0.05">10<tspan dy="-2.3" font-size="4">4</tspan></text>
<text transform="translate(309.7 366.7) scale(1.08 1)" font-family='"Liberation Serif", "DejaVu Serif", serif' font-size="10.9" text-anchor="end" fill="#000" stroke="#000" stroke-width="0.2">1.2</text>
</g>
<g>
<path d="M326.5 425.3L326.5 423.94L327.1 422.92L327.7 423.39L328.3 422.85L328.9 422.82L329.5 423.09L330.1 423.72L330.7 421.88L331.3 423.26L331.9 420.67L332.5 420.17L333.1 416.95L333.7 416.48L334.3 415.43L334.9 414.07L335.5 407.93L336.1 408.92L336.7 404.13L337.3 403.04L337.9 395.48L338.5 393.59L339.1 391.09L339.7 385.37L340.3 383.47L340.9 384.66L341.5 377.17L342.1 384.87L342.7 374.15L343.3 373.19L343.9 373.19L344.5 375.29L345.1 375.5L345.7 384.58L346.3 384.99L346.9 392.47L347.5 395.01L348.1 401.82L348.7 407.49L349.3 412.5L349.9 409.95L350.5 416.46L351.1 419.21L351.7 420.02L352.3 420.03L352.9 420.93L353.5 420.05L354.1 421.56L354.7 421.62L355.3 421.96L355.9 422.73L356.5 421.99L357.1 421.99L357.7 422.24L358.3 421.63L358.9 421.42L359.5 422.08L360.1 422.35L360.7 423.16L361.3 421.97L361.9 421.89L362.5 423.96L363.1 422.31L363.7 423.43L364.3 423.51L364.9 423.96L365.5 423.65L366.1 424.03L366.7 424.27L367.3 424.36L367.9 423.57L368.5 424.14L369.1 424.32L369.7 423.76L370.3 424.51L370.9 424.44L371.5 424.58L372.1 424.59L372.7 424.53L373.3 424.75L373.9 424.39L374.5 425.04L375.1 424.94L375.7 424.86L376.3 424.72L376.9 424.6L377.5 424.81L378.1 424.9L378.7 424.86L379.3 424.95L379.9 424.64L380.5 424.77L381.1 425.05L381.7 424.73L382.3 424.74L382.9 424.69L383.5 424.97L384.1 425.3L384.7 425.04L385.3 425.09L385.9 424.72L386.5 424.54L387.1 424.95L387.7 424.75L388.3 425.03L388.9 424.95L389.5 424.92L390.1 424.61L390.7 424.75L391.3 425.15L391.9 424.78L392.5 425.3L393.1 424.67L393.7 424.75L394.3 424.93L394.9 425.03L395.5 425.23L396.1 424.78L396.7 424.68L397.3 424.86L397.9 424.73L398.5 424.74L399.1 424.81L399.7 424.76L400.3 424.94L400.9 425.3L401.5 424.94L402.1 425.06L402.7 425.17L403.3 425.3L403.9 425.05L404.5 425.09L404.8 425.3Z" fill="#ececec"/>
<path d="M326.5 425.3L326.5 423.94L327.1 422.92L327.7 423.39L328.3 422.85L328.9 422.82L329.5 423.09L330.1 423.72L330.7 421.88L331.3 423.26L331.9 420.67L332.5 420.17L333.1 416.95L333.7 416.48L334.3 415.43L334.9 414.07L335.5 407.93L336.1 408.92L336.7 404.13L337.3 403.04L337.9 395.48L338.5 393.59L339.1 391.09L339.7 385.37L340.3 384.51L340.9 387.73L341.5 390.28L342.1 391.73L342.7 397.58L343.3 402.37L343.9 403.51L344.5 407.41L345.1 414.45L345.7 416.06L346.3 420.19L346.9 419.59L347.5 423.13L348.1 422.81L348.7 423.81L349.3 424.07L349.9 423.96L350.5 423.77L351.1 423.99L351.7 424.26L352.3 424L352.9 423.82L353.5 424.72L354.1 424.59L354.7 425.11L355.3 424.29L355.9 425L356.5 424.5L357.1 425.18L357.7 424.8L358.3 424.75L358.9 424.93L359.5 424.84L360.1 424.24L360.7 424.68L361.3 425.1L361.9 425L362.5 424.86L363.1 424.15L363.7 425.11L364.3 424.57L364.9 424.48L365.5 424.55L366.1 424.44L366.7 425.08L367.3 424.87L367.9 424.46L368.5 424.69L369.1 424.68L369.7 424.56L370.3 424.78L370.9 424.77L371.5 424.58L372.1 424.59L372.7 424.67L373.3 424.75L373.9 424.92L374.5 425.04L375.1 424.94L375.7 424.86L376.3 425.08L376.9 424.8L377.5 424.81L378.1 425.18L378.7 424.86L379.3 424.95L379.9 424.78L380.5 425.05L381.1 425.05L381.7 424.73L382.3 424.8L382.9 424.84L383.5 424.97L384.1 425.3L384.7 425.19L385.3 425.09L385.9 424.84L386.5 424.71L387.1 425.12L387.7 424.92L388.3 425.03L388.9 424.95L389.5 424.92L390.1 424.79L390.7 424.87L391.3 425.15L391.9 424.78L392.5 425.3L393.1 424.97L393.7 424.89L394.3 425L394.9 425.03L395.5 425.23L396.1 424.99L396.7 425.04L397.3 424.86L397.9 425.15L398.5 424.99L399.1 425L399.7 425.05L400.3 424.94L400.9 425.3L401.5 424.94L402.1 425.06L402.7 425.17L403.3 425.3L403.9 425.3L404.5 425.09L404.8 425.3Z" fill="#dcdcdc"/>
<path d="M326.5 423.94L327.1 422.92L327.7 423.39L328.3 422.85L328.9 422.82L329.5 423.09L330.1 423.72L330.7 421.88L331.3 423.26L331.9 420.67L332.5 420.17L333.1 416.95L333.7 416.48L334.3 415.43L334.9 414.07L335.5 407.93L336.1 408.92L336.7 404.13L337.3 403.04L337.9 395.48L338.5 393.59L339.1 391.09L339.7 385.37L340.3 383.47L340.9 384.66L341.5 377.17L342.1 384.87L342.7 374.15L343.3 373.19L343.9 373.19L344.5 375.29L345.1 375.5L345.7 384.58L346.3 384.99L346.9 392.47L347.5 395.01L348.1 401.82L348.7 407.49L349.3 412.5L349.9 409.95L350.5 416.46L351.1 419.21L351.7 420.02L352.3 420.03L352.9 420.93L353.5 420.05L354.1 421.56L354.7 421.62L355.3 421.96L355.9 422.73L356.5 421.99L357.1 421.99L357.7 422.24L358.3 421.63L358.9 421.42L359.5 422.08L360.1 422.35L360.7 423.16L361.3 421.97L361.9 421.89L362.5 423.96L363.1 422.31L363.7 423.43L364.3 423.51L364.9 423.96L365.5 423.65L366.1 424.03L366.7 424.27L367.3 424.36L367.9 423.57L368.5 424.14L369.1 424.32L369.7 423.76L370.3 424.51L370.9 424.44L371.5 424.58L372.1 424.59L372.7 424.53L373.3 424.75L373.9 424.39L374.5 425.04L375.1 424.94L375.7 424.86L376.3 424.72L376.9 424.6L377.5 424.81L378.1 424.9L378.7 424.86L379.3 424.95L379.9 424.64L380.5 424.77L381.1 425.05L381.7 424.73L382.3 424.74L382.9 424.69L383.5 424.97L384.1 425.3L384.7 425.04L385.3 425.09L385.9 424.72L386.5 424.54L387.1 424.95L387.7 424.75L388.3 425.03L388.9 424.95L389.5 424.92L390.1 424.61L390.7 424.75L391.3 425.15L391.9 424.78L392.5 425.3L393.1 424.67L393.7 424.75L394.3 424.93L394.9 425.03L395.5 425.23L396.1 424.78L396.7 424.68L397.3 424.86L397.9 424.73L398.5 424.74L399.1 424.81L399.7 424.76L400.3 424.94L400.9 425.3L401.5 424.94L402.1 425.06L402.7 425.17L403.3 425.3L403.9 425.05L404.5 425.09" fill="none" stroke="#222" stroke-width="0.9" stroke-linejoin="round"/>
<path d="M326.5 419.94L327.1 419.52L327.7 420.06L328.3 420.1L328.9 418.61L329.5 417.72L330.1 418.29L330.7 418.36L331.3 415.78L331.9 414.17L332.5 413.12L333.1 407.08L333.7 402.86L334.3 401.22L334.9 394.23L335.5 392.81L336.1 395.55L336.7 392.32L337.3 390.84L337.9 388.73L338.5 383.92L339.1 385.01L339.7 380.01L340.3 384.51L340.9 387.73L341.5 390.28L342.1 391.73L342.7 397.58L343.3 402.37L343.9 403.51L344.5 407.41L345.1 414.45L345.7 416.06L346.3 420.19L346.9 419.59L347.5 423.13L348.1 422.81L348.7 423.81L349.3 424.07L349.9 423.96L350.5 423.77L351.1 423.99L351.7 424.26L352.3 424L352.9 423.82L353.5 424.72L354.1 424.59L354.7 425.11L355.3 424.29L355.9 425L356.5 424.5L357.1 425.18L357.7 424.8L358.3 424.75L358.9 424.93L359.5 424.84L360.1 424.24L360.7 424.68L361.3 425.1L361.9 425L362.5 424.86L363.1 424.15L363.7 425.11L364.3 424.57L364.9 424.48L365.5 424.55L366.1 424.44L366.7 425.08L367.3 424.87L367.9 424.46L368.5 424.69L369.1 424.68L369.7 424.56L370.3 424.78L370.9 424.77L371.5 424.52L372.1 424.56L372.7 424.67L373.3 424.57L373.9 424.92L374.5 424.67L375.1 424.76L375.7 424.71L376.3 425.08L376.9 424.8L377.5 424.67L378.1 425.18L378.7 424.56L379.3 424.68L379.9 424.78L380.5 425.05L381.1 424.75L381.7 424.7L382.3 424.8L382.9 424.84L383.5 424.78L384.1 424.92L384.7 425.19L385.3 424.79L385.9 424.84L386.5 424.71L387.1 425.12L387.7 424.92L388.3 425.03L388.9 424.78L389.5 424.72L390.1 424.79L390.7 424.87L391.3 424.99L391.9 424.71L392.5 425.05L393.1 424.97L393.7 424.89L394.3 425L394.9 424.73L395.5 425.01L396.1 424.99L396.7 425.04L397.3 424.85L397.9 425.15L398.5 424.99L399.1 425L399.7 425.05L400.3 424.66L400.9 425.03L401.5 424.87L402.1 424.51L402.7 424.89L403.3 424.89L403.9 425.3L404.5 424.83" fill="none" stroke="#222" stroke-width="0.9" stroke-linejoin="round"/>
<path d="M326.7 425.3V387.39" stroke="#000" stroke-width="1.4"/>
<path d="M326.5 352.4H404.8V425.3" fill="none" stroke="#333" stroke-width="0.9"/>
<path d="M326.5 352.4V425.3H404.8" fill="none" stroke="#000" stroke-width="1.1"/>
<path d="M326.5 425.3h-2.3M326.5 422.38h-1.2M326.5 419.47h-1.2M326.5 416.55h-1.2M326.5 413.64h-1.2M326.5 410.72h-2.3M326.5 407.8h-1.2M326.5 404.89h-1.2M326.5 401.97h-1.2M326.5 399.06h-1.2M326.5 396.14h-2.3M326.5 393.22h-1.2M326.5 390.31h-1.2M326.5 387.39h-1.2M326.5 384.48h-1.2M326.5 381.56h-2.3M326.5 378.64h-1.2M326.5 375.73h-1.2M326.5 372.81h-1.2M326.5 369.9h-1.2M326.5 366.98h-2.3M326.5 364.06h-1.2M326.5 361.15h-1.2M326.5 358.23h-1.2M326.5 355.32h-1.2M326.5 352.4h-2.3" stroke="#000" stroke-width="0.55" fill="none"/>
<path d="M326.5 425.3v2.4M332.39 425.3v1.4M335.84 425.3v1.4M338.29 425.3v1.4M340.18 425.3v1.4M341.73 425.3v1.4M343.04 425.3v1.4M344.18 425.3v1.4M345.18 425.3v1.4M346.07 425.3v2.4M351.97 425.3v1.4M355.41 425.3v1.4M357.86 425.3v1.4M359.76 425.3v1.4M361.31 425.3v1.4M362.62 425.3v1.4M363.75 425.3v1.4M364.75 425.3v1.4M365.65 425.3v2.4M371.54 425.3v1.4M374.99 425.3v1.4M377.44 425.3v1.4M379.33 425.3v1.4M380.88 425.3v1.4M382.19 425.3v1.4M383.33 425.3v1.4M384.33 425.3v1.4M385.23 425.3v2.4M391.12 425.3v1.4M394.56 425.3v1.4M397.01 425.3v1.4M398.91 425.3v1.4M400.46 425.3v1.4M401.77 425.3v1.4M402.9 425.3v1.4M403.9 425.3v1.4M404.8 425.3v2.4" stroke="#000" stroke-width="0.7" fill="none"/>
<text transform="translate(322.3 425.3) rotate(-90) scale(1 0.82)" text-anchor="middle" font-family='"Liberation Sans", "DejaVu Sans", sans-serif' font-size="5" fill="#111" stroke="#111" stroke-width="0.05">0</text>
<text transform="translate(322.3 410.72) rotate(-90) scale(1 0.82)" text-anchor="middle" font-family='"Liberation Sans", "DejaVu Sans", sans-serif' font-size="5" fill="#111" stroke="#111" stroke-width="0.05">20</text>
<text transform="translate(322.3 396.14) rotate(-90) scale(1 0.82)" text-anchor="middle" font-family='"Liberation Sans", "DejaVu Sans", sans-serif' font-size="5" fill="#111" stroke="#111" stroke-width="0.05">40</text>
<text transform="translate(322.3 381.56) rotate(-90) scale(1 0.82)" text-anchor="middle" font-family='"Liberation Sans", "DejaVu Sans", sans-serif' font-size="5" fill="#111" stroke="#111" stroke-width="0.05">60</text>
<text transform="translate(322.3 366.98) rotate(-90) scale(1 0.82)" text-anchor="middle" font-family='"Liberation Sans", "DejaVu Sans", sans-serif' font-size="5" fill="#111" stroke="#111" stroke-width="0.05">80</text>
<text transform="translate(322.3 352.4) rotate(-90) scale(1 0.82)" text-anchor="middle" font-family='"Liberation Sans", "DejaVu Sans", sans-serif' font-size="5" fill="#111" stroke="#111" stroke-width="0.05">100</text>
<text x="325.6" y="432.2" text-anchor="middle" font-family='"Liberation Sans", "DejaVu Sans", sans-serif' font-size="5" fill="#111" stroke="#111" stroke-width="0.05">10<tspan dy="-2.3" font-size="4">0</tspan></text>
<text x="345.18" y="432.2" text-anchor="middle" font-family='"Liberation Sans", "DejaVu Sans", sans-serif' font-size="5" fill="#111" stroke="#111" stroke-width="0.05">10<tspan dy="-2.3" font-size="4">1</tspan></text>
<text x="364.75" y="432.2" text-anchor="middle" font-family='"Liberation Sans", "DejaVu Sans", sans-serif' font-size="5" fill="#111" stroke="#111" stroke-width="0.05">10<tspan dy="-2.3" font-size="4">2</tspan></text>
<text x="384.33" y="432.2" text-anchor="middle" font-family='"Liberation Sans", "DejaVu Sans", sans-serif' font-size="5" fill="#111" stroke="#111" stroke-width="0.05">10<tspan dy="-2.3" font-size="4">3</tspan></text>
<text x="403.9" y="432.2" text-anchor="middle" font-family='"Liberation Sans", "DejaVu Sans", sans-serif' font-size="5" fill="#111" stroke="#111" stroke-width="0.05">10<tspan dy="-2.3" font-size="4">4</tspan></text>
<text transform="translate(398.1 366.4) scale(1.08 1)" font-family='"Liberation Serif", "DejaVu Serif", serif' font-size="10.9" text-anchor="end" fill="#000" stroke="#000" stroke-width="0.2">1.5</text>
</g>
<g>
<path d="M431.3 424L431.3 423.31L431.9 422.63L432.5 422.38L433.1 421.91L433.7 422.82L434.3 423.29L434.9 422.42L435.5 422.62L436.1 422.69L436.7 422.81L437.3 423.15L437.9 422.07L438.5 423.06L439.1 423.27L439.7 422.87L440.3 423.12L440.9 423.35L441.5 422.34L442.1 422.74L442.7 422.78L443.3 423.29L443.9 423.24L444.5 423.26L445.1 422L445.7 422.63L446.3 423.06L446.9 422.53L447.5 422.26L448.1 421.77L448.7 420.43L449.3 418.84L449.9 417.44L450.5 416.75L451.1 413.75L451.7 411.23L452.3 410.13L452.9 406.49L453.5 403.04L454.1 397.56L454.7 395.76L455.3 385.27L455.9 387.76L456.5 381.92L457.1 380.41L457.7 374.12L458.3 378.29L458.9 378.09L459.5 378.64L460.1 381.73L460.7 388.06L461.3 391.98L461.9 399.42L462.5 399.62L463.1 404.03L463.7 405.06L464.3 410.24L464.9 414.96L465.5 414.58L466.1 415.13L466.7 418.8L467.3 419.6L467.9 420.85L468.5 421.56L469.1 422.09L469.7 422.42L470.3 422.44L470.9 423.28L471.5 422.77L472.1 422.97L472.7 423.37L473.3 422.98L473.9 423.51L474.5 423.42L475.1 423L475.7 423.53L476.3 423.4L476.9 423.23L477.5 423.67L478.1 423.23L478.7 423.53L479.3 423.61L479.9 423.09L480.5 423.15L481.1 423.51L481.7 423.24L482.3 423.27L482.9 423.47L483.5 423.03L484.1 423.55L484.7 423.39L485.3 423.48L485.9 423.73L486.5 423.32L487.1 423.76L487.7 423.05L488.3 423.65L488.9 423.89L489.5 423.48L490.1 423.44L490.7 423.9L491.3 423.61L491.9 423.62L492.5 423.52L493.1 424L493.7 423.26L494.3 423.79L494.9 423.48L495.5 423.53L496.1 423.46L496.7 423.67L497.3 423.74L497.9 423.37L498.5 423.76L499.1 423.52L499.7 423.77L500.3 423.62L500.9 423.84L501.5 423.65L502.1 423.73L502.7 423.85L503.3 423.66L503.9 423.33L504.5 423.87L505.1 423.84L505.7 423.53L506.3 423.6L506.9 423.4L507.5 423.51L508.1 423.79L508.7 423.81L509.3 423.28L509.9 423.52L510.5 423.93L510.6 424Z" fill="#ececec"/>
<path d="M431.3 424L431.3 423.31L431.9 422.63L432.5 422.47L433.1 422.94L433.7 422.82L434.3 423.29L434.9 422.54L435.5 422.62L436.1 422.69L436.7 422.84L437.3 423.15L437.9 422.07L438.5 423.06L439.1 423.27L439.7 422.87L440.3 423.12L440.9 423.35L441.5 422.34L442.1 422.74L442.7 422.78L443.3 423.29L443.9 423.24L444.5 423.26L445.1 422L445.7 422.63L446.3 423.06L446.9 422.53L447.5 422.26L448.1 421.77L448.7 420.43L449.3 418.84L449.9 417.44L450.5 416.75L451.1 413.75L451.7 411.23L452.3 410.13L452.9 406.49L453.5 403.04L454.1 397.56L454.7 395.76L455.3 395.57L455.9 398.48L456.5 402.67L457.1 410.21L457.7 415.66L458.3 415.46L458.9 417.73L459.5 419.21L460.1 420.37L460.7 419.89L461.3 421.75L461.9 422.36L462.5 423.09L463.1 422.09L463.7 423.51L464.3 423.24L464.9 423.16L465.5 423.25L466.1 423.51L466.7 423.1L467.3 423.25L467.9 423.6L468.5 423.09L469.1 423.41L469.7 423.33L470.3 423.97L470.9 423.33L471.5 423.53L472.1 422.97L472.7 423.37L473.3 423.68L473.9 423.52L474.5 423.55L475.1 423.77L475.7 423.55L476.3 423.4L476.9 423.66L477.5 423.67L478.1 423.4L478.7 423.53L479.3 423.81L479.9 423.51L480.5 423.48L481.1 423.67L481.7 423.48L482.3 423.58L482.9 423.61L483.5 423.87L484.1 423.55L484.7 423.67L485.3 423.75L485.9 423.73L486.5 423.53L487.1 423.89L487.7 423.78L488.3 423.68L488.9 423.89L489.5 423.48L490.1 423.54L490.7 423.9L491.3 423.61L491.9 423.62L492.5 423.52L493.1 424L493.7 423.62L494.3 424L494.9 423.69L495.5 423.69L496.1 423.46L496.7 423.67L497.3 423.74L497.9 423.53L498.5 423.8L499.1 423.69L499.7 423.77L500.3 423.62L500.9 423.84L501.5 423.86L502.1 423.73L502.7 423.86L503.3 423.94L503.9 423.66L504.5 423.87L505.1 423.84L505.7 423.67L506.3 423.67L506.9 423.83L507.5 423.55L508.1 423.79L508.7 423.81L509.3 423.67L509.9 423.73L510.5 423.93L510.6 424Z" fill="#dcdcdc"/>
<path d="M431.3 423.31L431.9 422.63L432.5 422.38L433.1 421.91L433.7 422.82L434.3 423.29L434.9 422.42L435.5 422.62L436.1 422.69L436.7 422.81L437.3 423.15L437.9 422.07L438.5 423.06L439.1 423.27L439.7 422.87L440.3 423.12L440.9 423.35L441.5 422.34L442.1 422.74L442.7 422.78L443.3 423.29L443.9 423.24L444.5 423.26L445.1 422L445.7 422.63L446.3 423.06L446.9 422.53L447.5 422.26L448.1 421.77L448.7 420.43L449.3 418.84L449.9 417.44L450.5 416.75L451.1 413.75L451.7 411.23L452.3 410.13L452.9 406.49L453.5 403.04L454.1 397.56L454.7 395.76L455.3 385.27L455.9 387.76L456.5 381.92L457.1 380.41L457.7 374.12L458.3 378.29L458.9 378.09L459.5 378.64L460.1 381.73L460.7 388.06L461.3 391.98L461.9 399.42L462.5 399.62L463.1 404.03L463.7 405.06L464.3 410.24L464.9 414.96L465.5 414.58L466.1 415.13L466.7 418.8L467.3 419.6L467.9 420.85L468.5 421.56L469.1 422.09L469.7 422.42L470.3 422.44L470.9 423.28L471.5 422.77L472.1 422.97L472.7 423.37L473.3 422.98L473.9 423.51L474.5 423.42L475.1 423L475.7 423.53L476.3 423.4L476.9 423.23L477.5 423.67L478.1 423.23L478.7 423.53L479.3 423.61L479.9 423.09L480.5 423.15L481.1 423.51L481.7 423.24L482.3 423.27L482.9 423.47L483.5 423.03L484.1 423.55L484.7 423.39L485.3 423.48L485.9 423.73L486.5 423.32L487.1 423.76L487.7 423.05L488.3 423.65L488.9 423.89L489.5 423.48L490.1 423.44L490.7 423.9L491.3 423.61L491.9 423.62L492.5 423.52L493.1 424L493.7 423.26L494.3 423.79L494.9 423.48L495.5 423.53L496.1 423.46L496.7 423.67L497.3 423.74L497.9 423.37L498.5 423.76L499.1 423.52L499.7 423.77L500.3 423.62L500.9 423.84L501.5 423.65L502.1 423.73L502.7 423.85L503.3 423.66L503.9 423.33L504.5 423.87L505.1 423.84L505.7 423.53L506.3 423.6L506.9 423.4L507.5 423.51L508.1 423.79L508.7 423.81L509.3 423.28L509.9 423.52L510.5 423.93" fill="none" stroke="#222" stroke-width="0.9" stroke-linejoin="round"/>
<path d="M431.3 422.26L431.9 422.24L432.5 422.47L433.1 422.94L433.7 422.3L434.3 422.62L434.9 422.54L435.5 422.55L436.1 422.47L436.7 422.84L437.3 422.1L437.9 421.91L438.5 422.08L439.1 421.28L439.7 420.89L440.3 421.21L440.9 421.07L441.5 420.21L442.1 420.69L442.7 419.15L443.3 418.13L443.9 417.47L444.5 414.4L445.1 409.68L445.7 406.26L446.3 408.46L446.9 401.66L447.5 398.57L448.1 395.7L448.7 386.95L449.3 388.21L449.9 381.01L450.5 380.07L451.1 373.58L451.7 379.51L452.3 373.68L452.9 375.45L453.5 385.19L454.1 381.52L454.7 391.35L455.3 395.57L455.9 398.48L456.5 402.67L457.1 410.21L457.7 415.66L458.3 415.46L458.9 417.73L459.5 419.21L460.1 420.37L460.7 419.89L461.3 421.75L461.9 422.36L462.5 423.09L463.1 422.09L463.7 423.51L464.3 423.24L464.9 423.16L465.5 423.25L466.1 423.51L466.7 423.1L467.3 423.25L467.9 423.6L468.5 423.09L469.1 423.41L469.7 423.33L470.3 423.97L470.9 423.33L471.5 423.53L472.1 422.89L472.7 423.29L473.3 423.68L473.9 423.52L474.5 423.55L475.1 423.77L475.7 423.55L476.3 423.4L476.9 423.66L477.5 423.58L478.1 423.4L478.7 423.11L479.3 423.81L479.9 423.51L480.5 423.48L481.1 423.67L481.7 423.48L482.3 423.58L482.9 423.61L483.5 423.87L484.1 423.54L484.7 423.67L485.3 423.75L485.9 423.33L486.5 423.53L487.1 423.89L487.7 423.78L488.3 423.68L488.9 423.5L489.5 423.36L490.1 423.54L490.7 423.81L491.3 423.59L491.9 423.51L492.5 423.49L493.1 423.35L493.7 423.62L494.3 424L494.9 423.69L495.5 423.69L496.1 423.42L496.7 423.49L497.3 423.7L497.9 423.53L498.5 423.8L499.1 423.69L499.7 423.37L500.3 423.55L500.9 423.46L501.5 423.86L502.1 423.53L502.7 423.86L503.3 423.94L503.9 423.66L504.5 423.78L505.1 423.33L505.7 423.67L506.3 423.67L506.9 423.83L507.5 423.55L508.1 423.75L508.7 423.44L509.3 423.67L509.9 423.73L510.5 423.48" fill="none" stroke="#222" stroke-width="0.9" stroke-linejoin="round"/>
<path d="M431.5 424V421.84" stroke="#000" stroke-width="1.4"/>
<path d="M431.3 352H510.6V424" fill="none" stroke="#333" stroke-width="0.9"/>
<path d="M431.3 352V424H510.6" fill="none" stroke="#000" stroke-width="1.1"/>
<path d="M431.3 424h-2.3M431.3 421.12h-1.2M431.3 418.24h-1.2M431.3 415.36h-1.2M431.3 412.48h-1.2M431.3 409.6h-2.3M431.3 406.72h-1.2M431.3 403.84h-1.2M431.3 400.96h-1.2M431.3 398.08h-1.2M431.3 395.2h-2.3M431.3 392.32h-1.2M431.3 389.44h-1.2M431.3 386.56h-1.2M431.3 383.68h-1.2M431.3 380.8h-2.3M431.3 377.92h-1.2M431.3 375.04h-1.2M431.3 372.16h-1.2M431.3 369.28h-1.2M431.3 366.4h-2.3M431.3 363.52h-1.2M431.3 360.64h-1.2M431.3 357.76h-1.2M431.3 354.88h-1.2M431.3 352h-2.3" stroke="#000" stroke-width="0.55" fill="none"/>
<path d="M431.3 424v2.4M437.27 424v1.4M440.76 424v1.4M443.24 424v1.4M445.16 424v1.4M446.73 424v1.4M448.05 424v1.4M449.2 424v1.4M450.22 424v1.4M451.12 424v2.4M457.09 424v1.4M460.58 424v1.4M463.06 424v1.4M464.98 424v1.4M466.55 424v1.4M467.88 424v1.4M469.03 424v1.4M470.04 424v1.4M470.95 424v2.4M476.92 424v1.4M480.41 424v1.4M482.89 424v1.4M484.81 424v1.4M486.38 424v1.4M487.7 424v1.4M488.85 424v1.4M489.87 424v1.4M490.78 424v2.4M496.74 424v1.4M500.23 424v1.4M502.71 424v1.4M504.63 424v1.4M506.2 424v1.4M507.53 424v1.4M508.68 424v1.4M509.69 424v1.4M510.6 424v2.4" stroke="#000" stroke-width="0.7" fill="none"/>
<text transform="translate(427.1 424) rotate(-90) scale(1 0.82)" text-anchor="middle" font-family='"Liberation Sans", "DejaVu Sans", sans-serif' font-size="5" fill="#111" stroke="#111" stroke-width="0.05">0</text>
<text transform="translate(427.1 409.6) rotate(-90) scale(1 0.82)" text-anchor="middle" font-family='"Liberation Sans", "DejaVu Sans", sans-serif' font-size="5" fill="#111" stroke="#111" stroke-width="0.05">20</text>
<text transform="translate(427.1 395.2) rotate(-90) scale(1 0.82)" text-anchor="middle" font-family='"Liberation Sans", "DejaVu Sans", sans-serif' font-size="5" fill="#111" stroke="#111" stroke-width="0.05">40</text>
<text transform="translate(427.1 380.8) rotate(-90) scale(1 0.82)" text-anchor="middle" font-family='"Liberation Sans", "DejaVu Sans", sans-serif' font-size="5" fill="#111" stroke="#111" stroke-width="0.05">60</text>
<text transform="translate(427.1 366.4) rotate(-90) scale(1 0.82)" text-anchor="middle" font-family='"Liberation Sans", "DejaVu Sans", sans-serif' font-size="5" fill="#111" stroke="#111" stroke-width="0.05">80</text>
<text transform="translate(427.1 352) rotate(-90) scale(1 0.82)" text-anchor="middle" font-family='"Liberation Sans", "DejaVu Sans", sans-serif' font-size="5" fill="#111" stroke="#111" stroke-width="0.05">100</text>
<text x="430.4" y="430.9" text-anchor="middle" font-family='"Liberation Sans", "DejaVu Sans", sans-serif' font-size="5" fill="#111" stroke="#111" stroke-width="0.05">10<tspan dy="-2.3" font-size="4">0</tspan></text>
<text x="450.23" y="430.9" text-anchor="middle" font-family='"Liberation Sans", "DejaVu Sans", sans-serif' font-size="5" fill="#111" stroke="#111" stroke-width="0.05">10<tspan dy="-2.3" font-size="4">1</tspan></text>
<text x="470.05" y="430.9" text-anchor="middle" font-family='"Liberation Sans", "DejaVu Sans", sans-serif' font-size="5" fill="#111" stroke="#111" stroke-width="0.05">10<tspan dy="-2.3" font-size="4">2</tspan></text>
<text x="489.88" y="430.9" text-anchor="middle" font-family='"Liberation Sans", "DejaVu Sans", sans-serif' font-size="5" fill="#111" stroke="#111" stroke-width="0.05">10<tspan dy="-2.3" font-size="4">3</tspan></text>
<text x="509.7" y="430.9" text-anchor="middle" font-family='"Liberation Sans", "DejaVu Sans", sans-serif' font-size="5" fill="#111" stroke="#111" stroke-width="0.05">10<tspan dy="-2.3" font-size="4">4</tspan></text>
<text transform="translate(505.9 365.9) scale(1.08 1)" font-family='"Liberation Serif", "DejaVu Serif", serif' font-size="10.9" text-anchor="end" fill="#000" stroke="#000" stroke-width="0.2">2.2</text>
</g>
<g>
<path d="M51.9 540.9L51.9 536.36L52.5 535.91L53.1 534.9L53.7 536.04L54.3 536.21L54.9 536.86L55.5 534.5L56.1 533.95L56.7 534.14L57.3 532.97L57.9 531.66L58.5 529.91L59.1 531.51L59.7 525.28L60.3 527.1L60.9 524.37L61.5 520.35L62.1 522.78L62.7 516.36L63.3 514.18L63.9 511.25L64.5 508.01L65.1 509.76L65.7 504.65L66.3 506.95L66.9 500.01L67.5 503.82L68.1 499.69L68.7 501.68L69.3 500.29L69.9 504.33L70.5 505.66L71.1 510.09L71.7 510.86L72.3 520.27L72.9 521.94L73.5 524.07L74.1 529.95L74.7 532.2L75.3 533.08L75.9 538.1L76.5 538.16L77.1 539.08L77.7 538.96L78.3 539.05L78.9 539.84L79.5 539.82L80.1 539.74L80.7 540.17L81.3 540.32L81.9 539.64L82.5 540.9L83.1 540.46L83.7 540.43L84.3 540.07L84.9 540.38L85.5 540.85L86.1 540.68L86.7 540.39L87.3 540.52L87.9 540.33L88.5 540.25L89.1 540.21L89.7 540.56L90.3 540.46L90.9 540.03L91.5 540.27L92.1 540.39L92.7 540.44L93.3 540.63L93.9 540.83L94.5 539.74L95.1 540.19L95.7 540.1L96.3 540.39L96.9 540.44L97.5 540.45L98.1 540.89L98.7 540.46L99.3 540.37L99.9 540.44L100.5 540.2L101.1 540.58L101.7 540.35L102.3 540.45L102.9 540.63L103.5 540.63L104.1 540.44L104.7 540.48L105.3 540.19L105.9 540.43L106.5 540.51L107.1 540.45L107.7 540.48L108.3 539.73L108.9 540.32L109.5 540.51L110.1 540.7L110.7 540.57L111.3 540.57L111.9 540.84L112.5 540.62L113.1 540.9L113.7 540.55L114.3 540.36L114.9 540.67L115.5 540.49L116.1 540.57L116.7 540.28L117.3 540.63L117.9 540.66L118.5 540.48L119.1 540.74L119.7 540.58L120.3 540.71L120.9 540.53L121.5 540.44L122.1 540.63L122.7 540.46L123.3 540.62L123.9 540.7L124.5 540.45L125.1 540.9L125.7 540.78L126.3 540.62L126.9 540.79L127.5 540.76L128.1 540.65L128.7 540.41L129.3 540.47L129.9 540.78L130.5 540.45L130.6 540.9Z" fill="#ececec"/>
<path d="M51.9 540.9L51.9 536.36L52.5 535.91L53.1 534.9L53.7 536.04L54.3 536.21L54.9 536.86L55.5 534.5L56.1 533.95L56.7 534.14L57.3 532.97L57.9 531.66L58.5 529.91L59.1 531.51L59.7 525.28L60.3 527.1L60.9 524.37L61.5 520.35L62.1 522.78L62.7 516.36L63.3 514.18L63.9 511.25L64.5 508.01L65.1 509.76L65.7 504.65L66.3 506.95L66.9 503.5L67.5 503.82L68.1 504.76L68.7 505.24L69.3 509.24L69.9 514L70.5 516.59L71.1 520.26L71.7 526.42L72.3 528.96L72.9 530.23L73.5 532.81L74.1 536.11L74.7 536.79L75.3 538.04L75.9 539.49L76.5 538.37L77.1 540.38L77.7 539.34L78.3 539.94L78.9 540.49L79.5 539.82L80.1 540.3L80.7 540.26L81.3 540.7L81.9 540.38L82.5 540.9L83.1 540.46L83.7 540.5L84.3 540.45L84.9 540.57L85.5 540.85L86.1 540.68L86.7 540.5L87.3 540.52L87.9 540.45L88.5 540.25L89.1 540.21L89.7 540.56L90.3 540.46L90.9 540.03L91.5 540.39L92.1 540.59L92.7 540.44L93.3 540.63L93.9 540.83L94.5 540.38L95.1 540.19L95.7 540.1L96.3 540.43L96.9 540.44L97.5 540.45L98.1 540.89L98.7 540.46L99.3 540.42L99.9 540.44L100.5 540.6L101.1 540.65L101.7 540.79L102.3 540.45L102.9 540.63L103.5 540.63L104.1 540.44L104.7 540.58L105.3 540.43L105.9 540.43L106.5 540.63L107.1 540.69L107.7 540.48L108.3 540.77L108.9 540.32L109.5 540.61L110.1 540.7L110.7 540.67L111.3 540.57L111.9 540.84L112.5 540.65L113.1 540.9L113.7 540.62L114.3 540.42L114.9 540.72L115.5 540.49L116.1 540.57L116.7 540.28L117.3 540.63L117.9 540.66L118.5 540.62L119.1 540.76L119.7 540.68L120.3 540.71L120.9 540.53L121.5 540.45L122.1 540.74L122.7 540.9L123.3 540.62L123.9 540.73L124.5 540.56L125.1 540.9L125.7 540.78L126.3 540.84L126.9 540.79L127.5 540.9L128.1 540.65L128.7 540.71L129.3 540.84L129.9 540.78L130.5 540.62L130.6 540.9Z" fill="#dcdcdc"/>
<path d="M51.9 536.36L52.5 535.91L53.1 534.9L53.7 536.04L54.3 536.21L54.9 536.86L55.5 534.5L56.1 533.95L56.7 534.14L57.3 532.97L57.9 531.66L58.5 529.91L59.1 531.51L59.7 525.28L60.3 527.1L60.9 524.37L61.5 520.35L62.1 522.78L62.7 516.36L63.3 514.18L63.9 511.25L64.5 508.01L65.1 509.76L65.7 504.65L66.3 506.95L66.9 500.01L67.5 503.82L68.1 499.69L68.7 501.68L69.3 500.29L69.9 504.33L70.5 505.66L71.1 510.09L71.7 510.86L72.3 520.27L72.9 521.94L73.5 524.07L74.1 529.95L74.7 532.2L75.3 533.08L75.9 538.1L76.5 538.16L77.1 539.08L77.7 538.96L78.3 539.05L78.9 539.84L79.5 539.82L80.1 539.74L80.7 540.17L81.3 540.32L81.9 539.64L82.5 540.9L83.1 540.46L83.7 540.43L84.3 540.07L84.9 540.38L85.5 540.85L86.1 540.68L86.7 540.39L87.3 540.52L87.9 540.33L88.5 540.25L89.1 540.21L89.7 540.56L90.3 540.46L90.9 540.03L91.5 540.27L92.1 540.39L92.7 540.44L93.3 540.63L93.9 540.83L94.5 539.74L95.1 540.19L95.7 540.1L96.3 540.39L96.9 540.44L97.5 540.45L98.1 540.89L98.7 540.46L99.3 540.37L99.9 540.44L100.5 540.2L101.1 540.58L101.7 540.35L102.3 540.45L102.9 540.63L103.5 540.63L104.1 540.44L104.7 540.48L105.3 540.19L105.9 540.43L106.5 540.51L107.1 540.45L107.7 540.48L108.3 539.73L108.9 540.32L109.5 540.51L110.1 540.7L110.7 540.57L111.3 540.57L111.9 540.84L112.5 540.62L113.1 540.9L113.7 540.55L114.3 540.36L114.9 540.67L115.5 540.49L116.1 540.57L116.7 540.28L117.3 540.63L117.9 540.66L118.5 540.48L119.1 540.74L119.7 540.58L120.3 540.71L120.9 540.53L121.5 540.44L122.1 540.63L122.7 540.46L123.3 540.62L123.9 540.7L124.5 540.45L125.1 540.9L125.7 540.78L126.3 540.62L126.9 540.79L127.5 540.76L128.1 540.65L128.7 540.41L129.3 540.47L129.9 540.78L130.5 540.45" fill="none" stroke="#222" stroke-width="0.9" stroke-linejoin="round"/>
<path d="M51.9 533.16L52.5 535.42L53.1 533.55L53.7 532.04L54.3 532.4L54.9 529.69L55.5 532.16L56.1 530.73L56.7 530.24L57.3 526.16L57.9 527.22L58.5 524.34L59.1 520.75L59.7 519.03L60.3 517.75L60.9 519.13L61.5 513.32L62.1 509.62L62.7 510.88L63.3 507.91L63.9 506.1L64.5 504.05L65.1 498.75L65.7 498.96L66.3 501.65L66.9 503.5L67.5 501.19L68.1 504.76L68.7 505.24L69.3 509.24L69.9 514L70.5 516.59L71.1 520.26L71.7 526.42L72.3 528.96L72.9 530.23L73.5 532.81L74.1 536.11L74.7 536.79L75.3 538.04L75.9 539.49L76.5 538.37L77.1 540.38L77.7 539.34L78.3 539.94L78.9 540.49L79.5 539.82L80.1 540.3L80.7 540.26L81.3 540.7L81.9 540.38L82.5 540.55L83.1 540.24L83.7 540.5L84.3 540.45L84.9 540.57L85.5 540.56L86.1 540.19L86.7 540.5L87.3 540.12L87.9 540.45L88.5 540.01L89.1 540.07L89.7 540.48L90.3 540.18L90.9 540.03L91.5 540.39L92.1 540.59L92.7 540.19L93.3 540.28L93.9 540.67L94.5 540.38L95.1 540.02L95.7 540.05L96.3 540.43L96.9 540.29L97.5 540.18L98.1 540.62L98.7 540.46L99.3 540.42L99.9 540.31L100.5 540.6L101.1 540.65L101.7 540.79L102.3 540.27L102.9 540.2L103.5 540.25L104.1 540.17L104.7 540.58L105.3 540.43L105.9 539.98L106.5 540.63L107.1 540.69L107.7 540.48L108.3 540.77L108.9 540.21L109.5 540.61L110.1 540.41L110.7 540.67L111.3 540.51L111.9 540.59L112.5 540.65L113.1 540.61L113.7 540.62L114.3 540.42L114.9 540.72L115.5 540.48L116.1 540.01L116.7 540.22L117.3 540.41L117.9 540.51L118.5 540.62L119.1 540.76L119.7 540.68L120.3 540.47L120.9 540.53L121.5 540.45L122.1 540.74L122.7 540.9L123.3 540.44L123.9 540.73L124.5 540.56L125.1 540.53L125.7 540.64L126.3 540.84L126.9 540.64L127.5 540.9L128.1 540.61L128.7 540.71L129.3 540.84L129.9 540.58L130.5 540.62" fill="none" stroke="#222" stroke-width="0.9" stroke-linejoin="round"/>
<path d="M52.1 540.9V533.58" stroke="#000" stroke-width="1.4"/>
<path d="M51.9 467.7H130.6V540.9" fill="none" stroke="#333" stroke-width="0.9"/>
<path d="M51.9 467.7V540.9H130.6" fill="none" stroke="#000" stroke-width="1.1"/>
<path d="M51.9 540.9h-2.3M51.9 537.97h-1.2M51.9 535.04h-1.2M51.9 532.12h-1.2M51.9 529.19h-1.2M51.9 526.26h-2.3M51.9 523.33h-1.2M51.9 520.4h-1.2M51.9 517.48h-1.2M51.9 514.55h-1.2M51.9 511.62h-2.3M51.9 508.69h-1.2M51.9 505.76h-1.2M51.9 502.84h-1.2M51.9 499.91h-1.2M51.9 496.98h-2.3M51.9 494.05h-1.2M51.9 491.12h-1.2M51.9 488.2h-1.2M51.9 485.27h-1.2M51.9 482.34h-2.3M51.9 479.41h-1.2M51.9 476.48h-1.2M51.9 473.56h-1.2M51.9 470.63h-1.2M51.9 467.7h-2.3" stroke="#000" stroke-width="0.55" fill="none"/>
<path d="M51.9 540.9v2.4M57.82 540.9v1.4M61.29 540.9v1.4M63.75 540.9v1.4M65.65 540.9v1.4M67.21 540.9v1.4M68.53 540.9v1.4M69.67 540.9v1.4M70.67 540.9v1.4M71.57 540.9v2.4M77.5 540.9v1.4M80.96 540.9v1.4M83.42 540.9v1.4M85.33 540.9v1.4M86.89 540.9v1.4M88.2 540.9v1.4M89.34 540.9v1.4M90.35 540.9v1.4M91.25 540.9v2.4M97.17 540.9v1.4M100.64 540.9v1.4M103.1 540.9v1.4M105 540.9v1.4M106.56 540.9v1.4M107.88 540.9v1.4M109.02 540.9v1.4M110.02 540.9v1.4M110.92 540.9v2.4M116.85 540.9v1.4M120.31 540.9v1.4M122.77 540.9v1.4M124.68 540.9v1.4M126.24 540.9v1.4M127.55 540.9v1.4M128.69 540.9v1.4M129.7 540.9v1.4M130.6 540.9v2.4" stroke="#000" stroke-width="0.7" fill="none"/>
<text transform="translate(47.7 540.9) rotate(-90) scale(1 0.82)" text-anchor="middle" font-family='"Liberation Sans", "DejaVu Sans", sans-serif' font-size="5" fill="#111" stroke="#111" stroke-width="0.05">0</text>
<text transform="translate(47.7 526.26) rotate(-90) scale(1 0.82)" text-anchor="middle" font-family='"Liberation Sans", "DejaVu Sans", sans-serif' font-size="5" fill="#111" stroke="#111" stroke-width="0.05">20</text>
<text transform="translate(47.7 511.62) rotate(-90) scale(1 0.82)" text-anchor="middle" font-family='"Liberation Sans", "DejaVu Sans", sans-serif' font-size="5" fill="#111" stroke="#111" stroke-width="0.05">40</text>
<text transform="translate(47.7 496.98) rotate(-90) scale(1 0.82)" text-anchor="middle" font-family='"Liberation Sans", "DejaVu Sans", sans-serif' font-size="5" fill="#111" stroke="#111" stroke-width="0.05">60</text>
<text transform="translate(47.7 482.34) rotate(-90) scale(1 0.82)" text-anchor="middle" font-family='"Liberation Sans", "DejaVu Sans", sans-serif' font-size="5" fill="#111" stroke="#111" stroke-width="0.05">80</text>
<text transform="translate(47.7 467.7) rotate(-90) scale(1 0.82)" text-anchor="middle" font-family='"Liberation Sans", "DejaVu Sans", sans-serif' font-size="5" fill="#111" stroke="#111" stroke-width="0.05">100</text>
<text x="51" y="547.8" text-anchor="middle" font-family='"Liberation Sans", "DejaVu Sans", sans-serif' font-size="5" fill="#111" stroke="#111" stroke-width="0.05">10<tspan dy="-2.3" font-size="4">0</tspan></text>
<text x="70.67" y="547.8" text-anchor="middle" font-family='"Liberation Sans", "DejaVu Sans", sans-serif' font-size="5" fill="#111" stroke="#111" stroke-width="0.05">10<tspan dy="-2.3" font-size="4">1</tspan></text>
<text x="90.35" y="547.8" text-anchor="middle" font-family='"Liberation Sans", "DejaVu Sans", sans-serif' font-size="5" fill="#111" stroke="#111" stroke-width="0.05">10<tspan dy="-2.3" font-size="4">2</tspan></text>
<text x="110.02" y="547.8" text-anchor="middle" font-family='"Liberation Sans", "DejaVu Sans", sans-serif' font-size="5" fill="#111" stroke="#111" stroke-width="0.05">10<tspan dy="-2.3" font-size="4">3</tspan></text>
<text x="129.7" y="547.8" text-anchor="middle" font-family='"Liberation Sans", "DejaVu Sans", sans-serif' font-size="5" fill="#111" stroke="#111" stroke-width="0.05">10<tspan dy="-2.3" font-size="4">4</tspan></text>
<text transform="translate(125.7 481.5) scale(1.08 1)" font-family='"Liberation Serif", "DejaVu Serif", serif' font-size="10.9" text-anchor="end" fill="#000" stroke="#000" stroke-width="0.2">1.2</text>
</g>
<g>
<path d="M142.8 540.9L142.8 538L143.4 536.76L144 535.81L144.6 537.23L145.2 536.61L145.8 535.93L146.4 534.92L147 536.55L147.6 535.14L148.2 535.56L148.8 534.99L149.4 533.23L150 533.71L150.6 533.61L151.2 532.21L151.8 529.81L152.4 530L153 525.96L153.6 527.28L154.2 524.98L154.8 521.95L155.4 520.59L156 518.27L156.6 517.79L157.2 514.05L157.8 509.55L158.4 509.28L159 502.68L159.6 503.13L160.2 495.52L160.8 496.64L161.4 495.08L162 496.05L162.6 498.2L163.2 503.25L163.8 510.28L164.4 516.76L165 517.64L165.6 525.8L166.2 526.49L166.8 527.27L167.4 531.96L168 532.3L168.6 535.54L169.2 534.03L169.8 535.73L170.4 537.42L171 536.89L171.6 538L172.2 537.5L172.8 537.72L173.4 537.87L174 537.81L174.6 538.23L175.2 539.28L175.8 537.89L176.4 538.76L177 538.34L177.6 538.84L178.2 538.7L178.8 539.02L179.4 539.23L180 538.57L180.6 539.33L181.2 539.61L181.8 538.99L182.4 538.52L183 539.17L183.6 539.61L184.2 538.78L184.8 540.11L185.4 539.43L186 539.54L186.6 539.71L187.2 540.51L187.8 540.27L188.4 539.85L189 539.93L189.6 540.66L190.2 539.48L190.8 540.37L191.4 540.54L192 540.31L192.6 540.28L193.2 539.81L193.8 540.64L194.4 540.46L195 540.56L195.6 540.07L196.2 540.38L196.8 540.59L197.4 540.42L198 540.6L198.6 540.1L199.2 540.24L199.8 540.39L200.4 540.84L201 540.44L201.6 540.55L202.2 540.38L202.8 540.52L203.4 540.49L204 540.63L204.6 540.15L205.2 540.29L205.8 540.22L206.4 540.55L207 540.75L207.6 540.66L208.2 540.9L208.8 540.69L209.4 540.5L210 540.31L210.6 540.76L211.2 540.64L211.8 540.46L212.4 540.37L213 540.9L213.6 540.68L214.2 540.46L214.8 540.5L215.4 540.81L216 540.42L216.6 540.89L217.2 540.44L217.8 540.77L218.4 540.43L219 540.31L219.6 540.51L220.2 540.49L220.8 540.73L221.4 540.9L222 540.77L222.6 540.46L223.2 540.67L223.6 540.9Z" fill="#ececec"/>
<path d="M142.8 540.9L142.8 538L143.4 536.76L144 535.81L144.6 537.23L145.2 536.61L145.8 536.21L146.4 534.93L147 536.55L147.6 535.14L148.2 535.56L148.8 534.99L149.4 533.23L150 533.71L150.6 533.61L151.2 532.21L151.8 529.81L152.4 530L153 526.61L153.6 527.28L154.2 524.98L154.8 522.4L155.4 520.59L156 518.27L156.6 517.79L157.2 514.05L157.8 509.55L158.4 509.28L159 502.68L159.6 504.48L160.2 495.96L160.8 496.64L161.4 497.5L162 497.4L162.6 502.22L163.2 507.55L163.8 510.28L164.4 518.77L165 523.53L165.6 525.8L166.2 528.26L166.8 531.64L167.4 531.96L168 534.43L168.6 536.79L169.2 535.76L169.8 536.88L170.4 537.53L171 538.48L171.6 538L172.2 538.11L172.8 537.91L173.4 537.87L174 538.06L174.6 538.26L175.2 539.28L175.8 539.22L176.4 538.76L177 538.94L177.6 539.54L178.2 539.06L178.8 539.02L179.4 539.37L180 538.57L180.6 539.7L181.2 539.85L181.8 540.02L182.4 539.29L183 539.55L183.6 540.27L184.2 539.39L184.8 540.35L185.4 539.62L186 539.79L186.6 539.83L187.2 540.51L187.8 540.27L188.4 540.79L189 539.93L189.6 540.66L190.2 540.35L190.8 540.62L191.4 540.54L192 540.32L192.6 540.28L193.2 540.33L193.8 540.64L194.4 540.46L195 540.56L195.6 540.49L196.2 540.42L196.8 540.59L197.4 540.85L198 540.6L198.6 540.33L199.2 540.47L199.8 540.39L200.4 540.84L201 540.68L201.6 540.55L202.2 540.58L202.8 540.54L203.4 540.49L204 540.63L204.6 540.72L205.2 540.5L205.8 540.32L206.4 540.55L207 540.75L207.6 540.66L208.2 540.9L208.8 540.7L209.4 540.67L210 540.31L210.6 540.76L211.2 540.64L211.8 540.46L212.4 540.42L213 540.9L213.6 540.9L214.2 540.52L214.8 540.5L215.4 540.81L216 540.42L216.6 540.89L217.2 540.5L217.8 540.77L218.4 540.43L219 540.6L219.6 540.51L220.2 540.84L220.8 540.73L221.4 540.9L222 540.77L222.6 540.55L223.2 540.87L223.6 540.9Z" fill="#dcdcdc"/>
<path d="M142.8 538L143.4 536.76L144 535.81L144.6 537.23L145.2 536.61L145.8 535.93L146.4 534.92L147 536.55L147.6 535.14L148.2 535.56L148.8 534.99L149.4 533.23L150 533.71L150.6 533.61L151.2 532.21L151.8 529.81L152.4 530L153 525.96L153.6 527.28L154.2 524.98L154.8 521.95L155.4 520.59L156 518.27L156.6 517.79L157.2 514.05L157.8 509.55L158.4 509.28L159 502.68L159.6 503.13L160.2 495.52L160.8 496.64L161.4 495.08L162 496.05L162.6 498.2L163.2 503.25L163.8 510.28L164.4 516.76L165 517.64L165.6 525.8L166.2 526.49L166.8 527.27L167.4 531.96L168 532.3L168.6 535.54L169.2 534.03L169.8 535.73L170.4 537.42L171 536.89L171.6 538L172.2 537.5L172.8 537.72L173.4 537.87L174 537.81L174.6 538.23L175.2 539.28L175.8 537.89L176.4 538.76L177 538.34L177.6 538.84L178.2 538.7L178.8 539.02L179.4 539.23L180 538.57L180.6 539.33L181.2 539.61L181.8 538.99L182.4 538.52L183 539.17L183.6 539.61L184.2 538.78L184.8 540.11L185.4 539.43L186 539.54L186.6 539.71L187.2 540.51L187.8 540.27L188.4 539.85L189 539.93L189.6 540.66L190.2 539.48L190.8 540.37L191.4 540.54L192 540.31L192.6 540.28L193.2 539.81L193.8 540.64L194.4 540.46L195 540.56L195.6 540.07L196.2 540.38L196.8 540.59L197.4 540.42L198 540.6L198.6 540.1L199.2 540.24L199.8 540.39L200.4 540.84L201 540.44L201.6 540.55L202.2 540.38L202.8 540.52L203.4 540.49L204 540.63L204.6 540.15L205.2 540.29L205.8 540.22L206.4 540.55L207 540.75L207.6 540.66L208.2 540.9L208.8 540.69L209.4 540.5L210 540.31L210.6 540.76L211.2 540.64L211.8 540.46L212.4 540.37L213 540.9L213.6 540.68L214.2 540.46L214.8 540.5L215.4 540.81L216 540.42L216.6 540.89L217.2 540.44L217.8 540.77L218.4 540.43L219 540.31L219.6 540.51L220.2 540.49L220.8 540.73L221.4 540.9L222 540.77L222.6 540.46L223.2 540.67" fill="none" stroke="#222" stroke-width="0.9" stroke-linejoin="round"/>
<path d="M142.8 536.37L143.4 535.25L144 535.47L144.6 535.2L145.2 534.26L145.8 536.21L146.4 534.93L147 532.99L147.6 535.14L148.2 532.55L148.8 532.92L149.4 532.78L150 531.88L150.6 528.83L151.2 528.82L151.8 527.12L152.4 527.4L153 526.61L153.6 524.4L154.2 522.31L154.8 522.4L155.4 520.22L156 515.96L156.6 511.21L157.2 505.9L157.8 508.05L158.4 506.63L159 501.75L159.6 504.48L160.2 495.96L160.8 493.75L161.4 497.5L162 497.4L162.6 502.22L163.2 507.55L163.8 509.7L164.4 518.77L165 523.53L165.6 524.43L166.2 528.26L166.8 531.64L167.4 530.54L168 534.43L168.6 536.79L169.2 535.76L169.8 536.88L170.4 537.53L171 538.48L171.6 537.63L172.2 538.11L172.8 537.91L173.4 537.35L174 538.06L174.6 538.26L175.2 537.99L175.8 539.22L176.4 538.27L177 538.94L177.6 539.54L178.2 539.06L178.8 538.32L179.4 539.37L180 538.21L180.6 539.7L181.2 539.85L181.8 540.02L182.4 539.29L183 539.55L183.6 540.27L184.2 539.39L184.8 540.35L185.4 539.62L186 539.79L186.6 539.83L187.2 539.66L187.8 540.17L188.4 540.79L189 539.85L189.6 540.1L190.2 540.35L190.8 540.62L191.4 540.28L192 540.32L192.6 539.98L193.2 540.33L193.8 540.44L194.4 540.38L195 540.2L195.6 540.49L196.2 540.42L196.8 539.9L197.4 540.85L198 540.2L198.6 540.33L199.2 540.47L199.8 540.25L200.4 540.33L201 540.68L201.6 540.49L202.2 540.58L202.8 540.54L203.4 540.34L204 540.47L204.6 540.72L205.2 540.5L205.8 540.32L206.4 540.48L207 540.49L207.6 540.49L208.2 540.54L208.8 540.7L209.4 540.67L210 540.31L210.6 540.4L211.2 540.3L211.8 540.43L212.4 540.42L213 540.37L213.6 540.9L214.2 540.52L214.8 540.43L215.4 540.65L216 540.31L216.6 540.43L217.2 540.5L217.8 540.77L218.4 540.39L219 540.6L219.6 540.44L220.2 540.84L220.8 540.4L221.4 540.38L222 540.55L222.6 540.55L223.2 540.87" fill="none" stroke="#222" stroke-width="0.9" stroke-linejoin="round"/>
<path d="M143 540.9V535.05" stroke="#000" stroke-width="1.4"/>
<path d="M142.8 467.8H223.6V540.9" fill="none" stroke="#333" stroke-width="0.9"/>
<path d="M142.8 467.8V540.9H223.6" fill="none" stroke="#000" stroke-width="1.1"/>
<path d="M142.8 540.9h-2.3M142.8 537.98h-1.2M142.8 535.05h-1.2M142.8 532.13h-1.2M142.8 529.2h-1.2M142.8 526.28h-2.3M142.8 523.36h-1.2M142.8 520.43h-1.2M142.8 517.51h-1.2M142.8 514.58h-1.2M142.8 511.66h-2.3M142.8 508.74h-1.2M142.8 505.81h-1.2M142.8 502.89h-1.2M142.8 499.96h-1.2M142.8 497.04h-2.3M142.8 494.12h-1.2M142.8 491.19h-1.2M142.8 488.27h-1.2M142.8 485.34h-1.2M142.8 482.42h-2.3M142.8 479.5h-1.2M142.8 476.57h-1.2M142.8 473.65h-1.2M142.8 470.72h-1.2M142.8 467.8h-2.3" stroke="#000" stroke-width="0.55" fill="none"/>
<path d="M142.8 540.9v2.4M148.88 540.9v1.4M152.44 540.9v1.4M154.96 540.9v1.4M156.92 540.9v1.4M158.52 540.9v1.4M159.87 540.9v1.4M161.04 540.9v1.4M162.08 540.9v1.4M163 540.9v2.4M169.08 540.9v1.4M172.64 540.9v1.4M175.16 540.9v1.4M177.12 540.9v1.4M178.72 540.9v1.4M180.07 540.9v1.4M181.24 540.9v1.4M182.28 540.9v1.4M183.2 540.9v2.4M189.28 540.9v1.4M192.84 540.9v1.4M195.36 540.9v1.4M197.32 540.9v1.4M198.92 540.9v1.4M200.27 540.9v1.4M201.44 540.9v1.4M202.48 540.9v1.4M203.4 540.9v2.4M209.48 540.9v1.4M213.04 540.9v1.4M215.56 540.9v1.4M217.52 540.9v1.4M219.12 540.9v1.4M220.47 540.9v1.4M221.64 540.9v1.4M222.68 540.9v1.4M223.6 540.9v2.4" stroke="#000" stroke-width="0.7" fill="none"/>
<text transform="translate(138.6 540.9) rotate(-90) scale(1 0.82)" text-anchor="middle" font-family='"Liberation Sans", "DejaVu Sans", sans-serif' font-size="5" fill="#111" stroke="#111" stroke-width="0.05">0</text>
<text transform="translate(138.6 526.28) rotate(-90) scale(1 0.82)" text-anchor="middle" font-family='"Liberation Sans", "DejaVu Sans", sans-serif' font-size="5" fill="#111" stroke="#111" stroke-width="0.05">20</text>
<text transform="translate(138.6 511.66) rotate(-90) scale(1 0.82)" text-anchor="middle" font-family='"Liberation Sans", "DejaVu Sans", sans-serif' font-size="5" fill="#111" stroke="#111" stroke-width="0.05">40</text>
<text transform="translate(138.6 497.04) rotate(-90) scale(1 0.82)" text-anchor="middle" font-family='"Liberation Sans", "DejaVu Sans", sans-serif' font-size="5" fill="#111" stroke="#111" stroke-width="0.05">60</text>
<text transform="translate(138.6 482.42) rotate(-90) scale(1 0.82)" text-anchor="middle" font-family='"Liberation Sans", "DejaVu Sans", sans-serif' font-size="5" fill="#111" stroke="#111" stroke-width="0.05">80</text>
<text transform="translate(138.6 467.8) rotate(-90) scale(1 0.82)" text-anchor="middle" font-family='"Liberation Sans", "DejaVu Sans", sans-serif' font-size="5" fill="#111" stroke="#111" stroke-width="0.05">100</text>
<text x="141.9" y="547.8" text-anchor="middle" font-family='"Liberation Sans", "DejaVu Sans", sans-serif' font-size="5" fill="#111" stroke="#111" stroke-width="0.05">10<tspan dy="-2.3" font-size="4">0</tspan></text>
<text x="162.1" y="547.8" text-anchor="middle" font-family='"Liberation Sans", "DejaVu Sans", sans-serif' font-size="5" fill="#111" stroke="#111" stroke-width="0.05">10<tspan dy="-2.3" font-size="4">1</tspan></text>
<text x="182.3" y="547.8" text-anchor="middle" font-family='"Liberation Sans", "DejaVu Sans", sans-serif' font-size="5" fill="#111" stroke="#111" stroke-width="0.05">10<tspan dy="-2.3" font-size="4">2</tspan></text>
<text x="202.5" y="547.8" text-anchor="middle" font-family='"Liberation Sans", "DejaVu Sans", sans-serif' font-size="5" fill="#111" stroke="#111" stroke-width="0.05">10<tspan dy="-2.3" font-size="4">3</tspan></text>
<text x="222.7" y="547.8" text-anchor="middle" font-family='"Liberation Sans", "DejaVu Sans", sans-serif' font-size="5" fill="#111" stroke="#111" stroke-width="0.05">10<tspan dy="-2.3" font-size="4">4</tspan></text>
<text transform="translate(216.6 481.9) scale(1.08 1)" font-family='"Liberation Serif", "DejaVu Serif", serif' font-size="10.9" text-anchor="end" fill="#000" stroke="#000" stroke-width="0.2">1.1</text>
</g>
<g>
<path d="M233.5 540L233.5 535.43L234.1 536.08L234.7 535.11L235.3 536.18L235.9 536.78L236.5 535.41L237.1 535.14L237.7 533.56L238.3 535.89L238.9 533.36L239.5 535.35L240.1 533.42L240.7 531.59L241.3 530.26L241.9 528.24L242.5 526.48L243.1 523.05L243.7 520.16L244.3 517.55L244.9 512.26L245.5 511.23L246.1 509.64L246.7 501.05L247.3 502.7L247.9 497.09L248.5 494.94L249.1 494.69L249.7 490.5L250.3 492.83L250.9 490.51L251.5 496.07L252.1 493.27L252.7 498.61L253.3 503.4L253.9 505.12L254.5 511.11L255.1 515.76L255.7 522.56L256.3 527.66L256.9 529.56L257.5 529.03L258.1 534.73L258.7 535.81L259.3 536.89L259.9 538.15L260.5 539.18L261.1 538.3L261.7 538.79L262.3 538.96L262.9 539.41L263.5 538.64L264.1 539.4L264.7 539.7L265.3 539.55L265.9 539.56L266.5 539.78L267.1 539.04L267.7 539.3L268.3 539.65L268.9 539.94L269.5 539.49L270.1 539.49L270.7 539.53L271.3 539.55L271.9 539.42L272.5 539.6L273.1 539.45L273.7 539.32L274.3 539.1L274.9 539.77L275.5 539.66L276.1 539.14L276.7 539.36L277.3 539.92L277.9 538.72L278.5 539.37L279.1 539.43L279.7 539.45L280.3 539.87L280.9 539.97L281.5 539.45L282.1 539.71L282.7 539.58L283.3 539.41L283.9 539.76L284.5 539.59L285.1 539.43L285.7 539.65L286.3 539.27L286.9 539.7L287.5 539.53L288.1 539.52L288.7 539.41L289.3 539.6L289.9 539.47L290.5 539.49L291.1 539.55L291.7 539.53L292.3 539.74L292.9 539.55L293.5 539.26L294.1 539.64L294.7 539.61L295.3 539.93L295.9 539.92L296.5 539.27L297.1 539.18L297.7 539.51L298.3 539.64L298.9 539.8L299.5 539.91L300.1 539.63L300.7 539.41L301.3 539.77L301.9 539.85L302.5 539.48L303.1 539.37L303.7 539.54L304.3 539.79L304.9 539.32L305.5 539.7L306.1 539.54L306.7 539.57L307.3 539.63L307.9 539.68L308.5 539.86L309.1 539.69L309.7 539.56L310.3 539.65L310.9 539.3L311.5 539.52L312.1 539.46L312.7 539.57L313.3 539.38L313.9 539.7L314.3 540Z" fill="#ececec"/>
<path d="M233.5 540L233.5 535.43L234.1 536.08L234.7 535.11L235.3 536.18L235.9 536.78L236.5 535.41L237.1 535.14L237.7 533.56L238.3 535.89L238.9 533.36L239.5 535.35L240.1 533.42L240.7 531.59L241.3 530.26L241.9 528.24L242.5 526.48L243.1 523.05L243.7 520.16L244.3 517.55L244.9 512.26L245.5 511.23L246.1 509.64L246.7 501.05L247.3 502.7L247.9 497.09L248.5 503.91L249.1 508.92L249.7 509.89L250.3 513.81L250.9 518.46L251.5 524.44L252.1 523.42L252.7 528.93L253.3 531.14L253.9 532.94L254.5 533.95L255.1 537.73L255.7 537.58L256.3 538.52L256.9 538.75L257.5 538.94L258.1 539.12L258.7 539.01L259.3 539.29L259.9 539.3L260.5 539.35L261.1 539.29L261.7 539.11L262.3 539.54L262.9 539.47L263.5 539.08L264.1 539.66L264.7 539.74L265.3 539.55L265.9 539.56L266.5 539.78L267.1 539.51L267.7 539.79L268.3 539.65L268.9 539.94L269.5 539.49L270.1 539.49L270.7 539.53L271.3 539.55L271.9 539.61L272.5 539.66L273.1 539.45L273.7 539.44L274.3 539.69L274.9 539.77L275.5 539.73L276.1 539.86L276.7 539.36L277.3 539.92L277.9 539.38L278.5 539.56L279.1 539.53L279.7 539.45L280.3 539.87L280.9 539.97L281.5 539.45L282.1 539.71L282.7 539.58L283.3 539.67L283.9 539.76L284.5 539.59L285.1 539.64L285.7 539.67L286.3 539.64L286.9 539.7L287.5 539.71L288.1 539.81L288.7 539.62L289.3 539.84L289.9 539.47L290.5 539.49L291.1 539.55L291.7 539.53L292.3 539.74L292.9 539.67L293.5 539.49L294.1 539.78L294.7 539.61L295.3 539.93L295.9 539.92L296.5 539.56L297.1 539.18L297.7 539.51L298.3 539.64L298.9 539.9L299.5 539.91L300.1 539.63L300.7 539.57L301.3 539.77L301.9 539.85L302.5 539.73L303.1 539.52L303.7 539.55L304.3 539.79L304.9 539.58L305.5 539.7L306.1 539.55L306.7 539.7L307.3 539.85L307.9 539.72L308.5 539.86L309.1 539.7L309.7 539.68L310.3 539.79L310.9 539.59L311.5 539.52L312.1 539.63L312.7 539.57L313.3 539.38L313.9 539.73L314.3 540Z" fill="#dcdcdc"/>
<path d="M233.5 535.43L234.1 536.08L234.7 535.11L235.3 536.18L235.9 536.78L236.5 535.41L237.1 535.14L237.7 533.56L238.3 535.89L238.9 533.36L239.5 535.35L240.1 533.42L240.7 531.59L241.3 530.26L241.9 528.24L242.5 526.48L243.1 523.05L243.7 520.16L244.3 517.55L244.9 512.26L245.5 511.23L246.1 509.64L246.7 501.05L247.3 502.7L247.9 497.09L248.5 494.94L249.1 494.69L249.7 490.5L250.3 492.83L250.9 490.51L251.5 496.07L252.1 493.27L252.7 498.61L253.3 503.4L253.9 505.12L254.5 511.11L255.1 515.76L255.7 522.56L256.3 527.66L256.9 529.56L257.5 529.03L258.1 534.73L258.7 535.81L259.3 536.89L259.9 538.15L260.5 539.18L261.1 538.3L261.7 538.79L262.3 538.96L262.9 539.41L263.5 538.64L264.1 539.4L264.7 539.7L265.3 539.55L265.9 539.56L266.5 539.78L267.1 539.04L267.7 539.3L268.3 539.65L268.9 539.94L269.5 539.49L270.1 539.49L270.7 539.53L271.3 539.55L271.9 539.42L272.5 539.6L273.1 539.45L273.7 539.32L274.3 539.1L274.9 539.77L275.5 539.66L276.1 539.14L276.7 539.36L277.3 539.92L277.9 538.72L278.5 539.37L279.1 539.43L279.7 539.45L280.3 539.87L280.9 539.97L281.5 539.45L282.1 539.71L282.7 539.58L283.3 539.41L283.9 539.76L284.5 539.59L285.1 539.43L285.7 539.65L286.3 539.27L286.9 539.7L287.5 539.53L288.1 539.52L288.7 539.41L289.3 539.6L289.9 539.47L290.5 539.49L291.1 539.55L291.7 539.53L292.3 539.74L292.9 539.55L293.5 539.26L294.1 539.64L294.7 539.61L295.3 539.93L295.9 539.92L296.5 539.27L297.1 539.18L297.7 539.51L298.3 539.64L298.9 539.8L299.5 539.91L300.1 539.63L300.7 539.41L301.3 539.77L301.9 539.85L302.5 539.48L303.1 539.37L303.7 539.54L304.3 539.79L304.9 539.32L305.5 539.7L306.1 539.54L306.7 539.57L307.3 539.63L307.9 539.68L308.5 539.86L309.1 539.69L309.7 539.56L310.3 539.65L310.9 539.3L311.5 539.52L312.1 539.46L312.7 539.57L313.3 539.38L313.9 539.7" fill="none" stroke="#222" stroke-width="0.9" stroke-linejoin="round"/>
<path d="M233.5 530.99L234.1 531.56L234.7 531.88L235.3 531.96L235.9 530.98L236.5 531.26L237.1 530.82L237.7 528.57L238.3 525.67L238.9 528.78L239.5 520.42L240.1 516.45L240.7 515.29L241.3 517.25L241.9 515.56L242.5 515.81L243.1 509.14L243.7 509.42L244.3 503.68L244.9 503.94L245.5 498.18L246.1 497.52L246.7 497.49L247.3 497.93L247.9 496.58L248.5 503.91L249.1 508.92L249.7 509.89L250.3 513.81L250.9 518.46L251.5 524.44L252.1 523.42L252.7 528.93L253.3 531.14L253.9 532.94L254.5 533.95L255.1 537.73L255.7 537.58L256.3 538.52L256.9 538.75L257.5 538.94L258.1 539.12L258.7 539.01L259.3 539.29L259.9 539.3L260.5 539.35L261.1 539.29L261.7 539.11L262.3 539.54L262.9 539.47L263.5 539.08L264.1 539.66L264.7 539.74L265.3 539.38L265.9 538.89L266.5 539.75L267.1 539.51L267.7 539.79L268.3 539.35L268.9 539.26L269.5 539.44L270.1 539.23L270.7 539.02L271.3 539.25L271.9 539.61L272.5 539.66L273.1 539.07L273.7 539.44L274.3 539.69L274.9 539.38L275.5 539.73L276.1 539.86L276.7 539.05L277.3 539.37L277.9 539.38L278.5 539.56L279.1 539.53L279.7 539.08L280.3 539.57L280.9 539.22L281.5 539.43L282.1 539.06L282.7 539.29L283.3 539.67L283.9 539.62L284.5 539.1L285.1 539.64L285.7 539.67L286.3 539.64L286.9 539.57L287.5 539.71L288.1 539.81L288.7 539.62L289.3 539.84L289.9 539.02L290.5 539.02L291.1 539.2L291.7 539.47L292.3 539.64L292.9 539.67L293.5 539.49L294.1 539.78L294.7 539.38L295.3 539.46L295.9 539.9L296.5 539.56L297.1 539.11L297.7 539.39L298.3 539.44L298.9 539.9L299.5 539.31L300.1 539.15L300.7 539.57L301.3 539.62L301.9 539.73L302.5 539.73L303.1 539.52L303.7 539.55L304.3 539.7L304.9 539.58L305.5 539.47L306.1 539.55L306.7 539.7L307.3 539.85L307.9 539.72L308.5 539.5L309.1 539.7L309.7 539.68L310.3 539.79L310.9 539.59L311.5 539.31L312.1 539.63L312.7 539.52L313.3 539.27L313.9 539.73" fill="none" stroke="#222" stroke-width="0.9" stroke-linejoin="round"/>
<path d="M233.7 540V529.86" stroke="#000" stroke-width="1.4"/>
<path d="M233.5 467.6H314.3V540" fill="none" stroke="#333" stroke-width="0.9"/>
<path d="M233.5 467.6V540H314.3" fill="none" stroke="#000" stroke-width="1.1"/>
<path d="M233.5 540h-2.3M233.5 537.1h-1.2M233.5 534.21h-1.2M233.5 531.31h-1.2M233.5 528.42h-1.2M233.5 525.52h-2.3M233.5 522.62h-1.2M233.5 519.73h-1.2M233.5 516.83h-1.2M233.5 513.94h-1.2M233.5 511.04h-2.3M233.5 508.14h-1.2M233.5 505.25h-1.2M233.5 502.35h-1.2M233.5 499.46h-1.2M233.5 496.56h-2.3M233.5 493.66h-1.2M233.5 490.77h-1.2M233.5 487.87h-1.2M233.5 484.98h-1.2M233.5 482.08h-2.3M233.5 479.18h-1.2M233.5 476.29h-1.2M233.5 473.39h-1.2M233.5 470.5h-1.2M233.5 467.6h-2.3" stroke="#000" stroke-width="0.55" fill="none"/>
<path d="M233.5 540v2.4M239.58 540v1.4M243.14 540v1.4M245.66 540v1.4M247.62 540v1.4M249.22 540v1.4M250.57 540v1.4M251.74 540v1.4M252.78 540v1.4M253.7 540v2.4M259.78 540v1.4M263.34 540v1.4M265.86 540v1.4M267.82 540v1.4M269.42 540v1.4M270.77 540v1.4M271.94 540v1.4M272.98 540v1.4M273.9 540v2.4M279.98 540v1.4M283.54 540v1.4M286.06 540v1.4M288.02 540v1.4M289.62 540v1.4M290.97 540v1.4M292.14 540v1.4M293.18 540v1.4M294.1 540v2.4M300.18 540v1.4M303.74 540v1.4M306.26 540v1.4M308.22 540v1.4M309.82 540v1.4M311.17 540v1.4M312.34 540v1.4M313.38 540v1.4M314.3 540v2.4" stroke="#000" stroke-width="0.7" fill="none"/>
<text transform="translate(229.3 540) rotate(-90) scale(1 0.82)" text-anchor="middle" font-family='"Liberation Sans", "DejaVu Sans", sans-serif' font-size="5" fill="#111" stroke="#111" stroke-width="0.05">0</text>
<text transform="translate(229.3 525.52) rotate(-90) scale(1 0.82)" text-anchor="middle" font-family='"Liberation Sans", "DejaVu Sans", sans-serif' font-size="5" fill="#111" stroke="#111" stroke-width="0.05">20</text>
<text transform="translate(229.3 511.04) rotate(-90) scale(1 0.82)" text-anchor="middle" font-family='"Liberation Sans", "DejaVu Sans", sans-serif' font-size="5" fill="#111" stroke="#111" stroke-width="0.05">40</text>
<text transform="translate(229.3 496.56) rotate(-90) scale(1 0.82)" text-anchor="middle" font-family='"Liberation Sans", "DejaVu Sans", sans-serif' font-size="5" fill="#111" stroke="#111" stroke-width="0.05">60</text>
<text transform="translate(229.3 482.08) rotate(-90) scale(1 0.82)" text-anchor="middle" font-family='"Liberation Sans", "DejaVu Sans", sans-serif' font-size="5" fill="#111" stroke="#111" stroke-width="0.05">80</text>
<text transform="translate(229.3 467.6) rotate(-90) scale(1 0.82)" text-anchor="middle" font-family='"Liberation Sans", "DejaVu Sans", sans-serif' font-size="5" fill="#111" stroke="#111" stroke-width="0.05">100</text>
<text x="232.6" y="546.9" text-anchor="middle" font-family='"Liberation Sans", "DejaVu Sans", sans-serif' font-size="5" fill="#111" stroke="#111" stroke-width="0.05">10<tspan dy="-2.3" font-size="4">0</tspan></text>
<text x="252.8" y="546.9" text-anchor="middle" font-family='"Liberation Sans", "DejaVu Sans", sans-serif' font-size="5" fill="#111" stroke="#111" stroke-width="0.05">10<tspan dy="-2.3" font-size="4">1</tspan></text>
<text x="273" y="546.9" text-anchor="middle" font-family='"Liberation Sans", "DejaVu Sans", sans-serif' font-size="5" fill="#111" stroke="#111" stroke-width="0.05">10<tspan dy="-2.3" font-size="4">2</tspan></text>
<text x="293.2" y="546.9" text-anchor="middle" font-family='"Liberation Sans", "DejaVu Sans", sans-serif' font-size="5" fill="#111" stroke="#111" stroke-width="0.05">10<tspan dy="-2.3" font-size="4">3</tspan></text>
<text x="313.4" y="546.9" text-anchor="middle" font-family='"Liberation Sans", "DejaVu Sans", sans-serif' font-size="5" fill="#111" stroke="#111" stroke-width="0.05">10<tspan dy="-2.3" font-size="4">4</tspan></text>
<text transform="translate(309.3 481.9) scale(1.08 1)" font-family='"Liberation Serif", "DejaVu Serif", serif' font-size="10.9" text-anchor="end" fill="#000" stroke="#000" stroke-width="0.2">1.6</text>
</g>
<g>
<path d="M325.3 540L325.3 538.87L325.9 538.16L326.5 538.75L327.1 539.2L327.7 537.57L328.3 537.74L328.9 537.24L329.5 537.94L330.1 537.34L330.7 536.8L331.3 537.86L331.9 537.26L332.5 536.97L333.1 537.15L333.7 537.51L334.3 537.59L334.9 536.14L335.5 536.37L336.1 536.4L336.7 533.15L337.3 534.1L337.9 531.8L338.5 529.44L339.1 529.52L339.7 528.09L340.3 521.93L340.9 515L341.5 509.16L342.1 505.7L342.7 502.64L343.3 491.36L343.9 490.79L344.5 484.39L345.1 479.57L345.7 483.44L346.3 482.28L346.9 486.72L347.5 482.13L348.1 487.05L348.7 494.68L349.3 496.48L349.9 504.34L350.5 507.42L351.1 510.06L351.7 516.89L352.3 523.49L352.9 524.59L353.5 525.6L354.1 530.71L354.7 531.7L355.3 532.67L355.9 532.25L356.5 534.15L357.1 534.61L357.7 535.66L358.3 537.07L358.9 536.2L359.5 535.84L360.1 537.55L360.7 536.44L361.3 536.04L361.9 537.95L362.5 537.56L363.1 537.68L363.7 538.46L364.3 537.91L364.9 538.19L365.5 538.43L366.1 539.02L366.7 539.13L367.3 538.74L367.9 539.58L368.5 539.13L369.1 539.36L369.7 539.66L370.3 539.4L370.9 539.59L371.5 539.59L372.1 539.54L372.7 539.46L373.3 539.49L373.9 539.37L374.5 539.35L375.1 539.55L375.7 539.51L376.3 539.54L376.9 539.71L377.5 539.62L378.1 539.39L378.7 539.39L379.3 539.76L379.9 539.82L380.5 539.33L381.1 539.76L381.7 539.57L382.3 539.51L382.9 539.29L383.5 539.65L384.1 539.53L384.7 539.93L385.3 539.26L385.9 539.53L386.5 539.69L387.1 539.55L387.7 540L388.3 539.42L388.9 539.56L389.5 539.85L390.1 539.53L390.7 539.49L391.3 539.56L391.9 539.59L392.5 539.76L393.1 539.76L393.7 539.34L394.3 539.43L394.9 539.7L395.5 539.46L396.1 539.72L396.7 539.8L397.3 539.68L397.9 539.84L398.5 539.09L399.1 539.73L399.7 539.54L400.3 539.86L400.9 539.73L401.5 539.64L402.1 539.63L402.7 539.45L403.3 539.34L403.3 540Z" fill="#ececec"/>
<path d="M325.3 540L325.3 538.87L325.9 538.16L326.5 538.75L327.1 539.2L327.7 537.57L328.3 537.74L328.9 537.24L329.5 537.94L330.1 537.34L330.7 536.8L331.3 537.86L331.9 537.26L332.5 536.97L333.1 537.15L333.7 537.51L334.3 537.59L334.9 536.14L335.5 536.37L336.1 536.4L336.7 533.15L337.3 534.1L337.9 531.8L338.5 529.44L339.1 529.52L339.7 528.09L340.3 521.93L340.9 515L341.5 509.16L342.1 506L342.7 508.69L343.3 519.11L343.9 515.64L344.5 521.72L345.1 526.36L345.7 526.35L346.3 528.53L346.9 532.03L347.5 535.25L348.1 533.98L348.7 535.65L349.3 537.29L349.9 538.42L350.5 537.64L351.1 538.67L351.7 539.63L352.3 538.29L352.9 539.33L353.5 538.77L354.1 538.79L354.7 539.06L355.3 539.86L355.9 539.18L356.5 539.38L357.1 539.47L357.7 539.84L358.3 539.61L358.9 539.54L359.5 539.52L360.1 539.67L360.7 539.29L361.3 539.51L361.9 539.71L362.5 539.58L363.1 538.95L363.7 539.83L364.3 539.71L364.9 539.26L365.5 539.57L366.1 539.56L366.7 539.52L367.3 539.48L367.9 539.58L368.5 539.63L369.1 539.42L369.7 539.66L370.3 539.4L370.9 539.59L371.5 539.59L372.1 539.64L372.7 539.92L373.3 539.49L373.9 539.62L374.5 539.65L375.1 539.66L375.7 539.53L376.3 539.54L376.9 539.71L377.5 539.62L378.1 539.39L378.7 539.59L379.3 539.76L379.9 539.82L380.5 539.37L381.1 539.76L381.7 539.57L382.3 539.52L382.9 539.44L383.5 539.65L384.1 539.63L384.7 539.93L385.3 539.36L385.9 539.53L386.5 539.7L387.1 539.78L387.7 540L388.3 539.48L388.9 539.56L389.5 539.85L390.1 539.53L390.7 539.67L391.3 539.62L391.9 539.59L392.5 539.76L393.1 539.76L393.7 539.76L394.3 539.43L394.9 539.99L395.5 539.5L396.1 539.99L396.7 539.9L397.3 539.73L397.9 539.84L398.5 539.52L399.1 539.73L399.7 539.54L400.3 539.86L400.9 539.81L401.5 539.64L402.1 539.63L402.7 539.8L403.3 539.63L403.3 540Z" fill="#dcdcdc"/>
<path d="M325.3 538.87L325.9 538.16L326.5 538.75L327.1 539.2L327.7 537.57L328.3 537.74L328.9 537.24L329.5 537.94L330.1 537.34L330.7 536.8L331.3 537.86L331.9 537.26L332.5 536.97L333.1 537.15L333.7 537.51L334.3 537.59L334.9 536.14L335.5 536.37L336.1 536.4L336.7 533.15L337.3 534.1L337.9 531.8L338.5 529.44L339.1 529.52L339.7 528.09L340.3 521.93L340.9 515L341.5 509.16L342.1 505.7L342.7 502.64L343.3 491.36L343.9 490.79L344.5 484.39L345.1 479.57L345.7 483.44L346.3 482.28L346.9 486.72L347.5 482.13L348.1 487.05L348.7 494.68L349.3 496.48L349.9 504.34L350.5 507.42L351.1 510.06L351.7 516.89L352.3 523.49L352.9 524.59L353.5 525.6L354.1 530.71L354.7 531.7L355.3 532.67L355.9 532.25L356.5 534.15L357.1 534.61L357.7 535.66L358.3 537.07L358.9 536.2L359.5 535.84L360.1 537.55L360.7 536.44L361.3 536.04L361.9 537.95L362.5 537.56L363.1 537.68L363.7 538.46L364.3 537.91L364.9 538.19L365.5 538.43L366.1 539.02L366.7 539.13L367.3 538.74L367.9 539.58L368.5 539.13L369.1 539.36L369.7 539.66L370.3 539.4L370.9 539.59L371.5 539.59L372.1 539.54L372.7 539.46L373.3 539.49L373.9 539.37L374.5 539.35L375.1 539.55L375.7 539.51L376.3 539.54L376.9 539.71L377.5 539.62L378.1 539.39L378.7 539.39L379.3 539.76L379.9 539.82L380.5 539.33L381.1 539.76L381.7 539.57L382.3 539.51L382.9 539.29L383.5 539.65L384.1 539.53L384.7 539.93L385.3 539.26L385.9 539.53L386.5 539.69L387.1 539.55L387.7 540L388.3 539.42L388.9 539.56L389.5 539.85L390.1 539.53L390.7 539.49L391.3 539.56L391.9 539.59L392.5 539.76L393.1 539.76L393.7 539.34L394.3 539.43L394.9 539.7L395.5 539.46L396.1 539.72L396.7 539.8L397.3 539.68L397.9 539.84L398.5 539.09L399.1 539.73L399.7 539.54L400.3 539.86L400.9 539.73L401.5 539.64L402.1 539.63L402.7 539.45L403.3 539.34" fill="none" stroke="#222" stroke-width="0.9" stroke-linejoin="round"/>
<path d="M325.3 529.72L325.9 532.45L326.5 530.28L327.1 529.7L327.7 529.71L328.3 528.36L328.9 528.33L329.5 526.93L330.1 526.47L330.7 524.45L331.3 524.68L331.9 520.51L332.5 522.04L333.1 515.16L333.7 510.13L334.3 510.31L334.9 509.45L335.5 505.83L336.1 505.19L336.7 498.02L337.3 497.46L337.9 496.36L338.5 497.39L339.1 495.8L339.7 493.65L340.3 497.99L340.9 501.61L341.5 502.46L342.1 506L342.7 508.69L343.3 519.11L343.9 515.64L344.5 521.72L345.1 526.36L345.7 526.35L346.3 528.53L346.9 532.03L347.5 535.25L348.1 533.98L348.7 535.65L349.3 537.29L349.9 538.42L350.5 537.64L351.1 538.67L351.7 539.63L352.3 538.29L352.9 539.33L353.5 538.77L354.1 538.79L354.7 539.06L355.3 539.86L355.9 539.18L356.5 539.38L357.1 539.47L357.7 539.84L358.3 539.61L358.9 539.54L359.5 539.52L360.1 539.67L360.7 539.29L361.3 539.51L361.9 539.71L362.5 539.58L363.1 538.95L363.7 539.83L364.3 539.71L364.9 539.26L365.5 539.57L366.1 539.56L366.7 539.52L367.3 539.48L367.9 539.03L368.5 539.63L369.1 539.42L369.7 539.12L370.3 539.38L370.9 538.97L371.5 539.56L372.1 539.64L372.7 539.92L373.3 539.38L373.9 539.62L374.5 539.65L375.1 539.66L375.7 539.53L376.3 539.46L376.9 539.43L377.5 539.37L378.1 539.38L378.7 539.59L379.3 539.75L379.9 539.54L380.5 539.37L381.1 539.52L381.7 539.38L382.3 539.52L382.9 539.44L383.5 539.41L384.1 539.63L384.7 539.9L385.3 539.36L385.9 539.4L386.5 539.7L387.1 539.78L387.7 539.56L388.3 539.48L388.9 539.48L389.5 539.82L390.1 539.38L390.7 539.67L391.3 539.62L391.9 539.47L392.5 539.67L393.1 539.43L393.7 539.76L394.3 539.34L394.9 539.99L395.5 539.5L396.1 539.99L396.7 539.9L397.3 539.73L397.9 539.82L398.5 539.52L399.1 539.39L399.7 539.47L400.3 539.56L400.9 539.81L401.5 539.59L402.1 539.46L402.7 539.8L403.3 539.63" fill="none" stroke="#222" stroke-width="0.9" stroke-linejoin="round"/>
<path d="M325.5 540V531.28" stroke="#000" stroke-width="1.4"/>
<path d="M325.3 467.3H403.3V540" fill="none" stroke="#333" stroke-width="0.9"/>
<path d="M325.3 467.3V540H403.3" fill="none" stroke="#000" stroke-width="1.1"/>
<path d="M325.3 540h-2.3M325.3 537.09h-1.2M325.3 534.18h-1.2M325.3 531.28h-1.2M325.3 528.37h-1.2M325.3 525.46h-2.3M325.3 522.55h-1.2M325.3 519.64h-1.2M325.3 516.74h-1.2M325.3 513.83h-1.2M325.3 510.92h-2.3M325.3 508.01h-1.2M325.3 505.1h-1.2M325.3 502.2h-1.2M325.3 499.29h-1.2M325.3 496.38h-2.3M325.3 493.47h-1.2M325.3 490.56h-1.2M325.3 487.66h-1.2M325.3 484.75h-1.2M325.3 481.84h-2.3M325.3 478.93h-1.2M325.3 476.02h-1.2M325.3 473.12h-1.2M325.3 470.21h-1.2M325.3 467.3h-2.3" stroke="#000" stroke-width="0.55" fill="none"/>
<path d="M325.3 540v2.4M331.17 540v1.4M334.6 540v1.4M337.04 540v1.4M338.93 540v1.4M340.47 540v1.4M341.78 540v1.4M342.91 540v1.4M343.91 540v1.4M344.8 540v2.4M350.67 540v1.4M354.1 540v1.4M356.54 540v1.4M358.43 540v1.4M359.97 540v1.4M361.28 540v1.4M362.41 540v1.4M363.41 540v1.4M364.3 540v2.4M370.17 540v1.4M373.6 540v1.4M376.04 540v1.4M377.93 540v1.4M379.47 540v1.4M380.78 540v1.4M381.91 540v1.4M382.91 540v1.4M383.8 540v2.4M389.67 540v1.4M393.1 540v1.4M395.54 540v1.4M397.43 540v1.4M398.97 540v1.4M400.28 540v1.4M401.41 540v1.4M402.41 540v1.4M403.3 540v2.4" stroke="#000" stroke-width="0.7" fill="none"/>
<text transform="translate(321.1 540) rotate(-90) scale(1 0.82)" text-anchor="middle" font-family='"Liberation Sans", "DejaVu Sans", sans-serif' font-size="5" fill="#111" stroke="#111" stroke-width="0.05">0</text>
<text transform="translate(321.1 525.46) rotate(-90) scale(1 0.82)" text-anchor="middle" font-family='"Liberation Sans", "DejaVu Sans", sans-serif' font-size="5" fill="#111" stroke="#111" stroke-width="0.05">20</text>
<text transform="translate(321.1 510.92) rotate(-90) scale(1 0.82)" text-anchor="middle" font-family='"Liberation Sans", "DejaVu Sans", sans-serif' font-size="5" fill="#111" stroke="#111" stroke-width="0.05">40</text>
<text transform="translate(321.1 496.38) rotate(-90) scale(1 0.82)" text-anchor="middle" font-family='"Liberation Sans", "DejaVu Sans", sans-serif' font-size="5" fill="#111" stroke="#111" stroke-width="0.05">60</text>
<text transform="translate(321.1 481.84) rotate(-90) scale(1 0.82)" text-anchor="middle" font-family='"Liberation Sans", "DejaVu Sans", sans-serif' font-size="5" fill="#111" stroke="#111" stroke-width="0.05">80</text>
<text transform="translate(321.1 467.3) rotate(-90) scale(1 0.82)" text-anchor="middle" font-family='"Liberation Sans", "DejaVu Sans", sans-serif' font-size="5" fill="#111" stroke="#111" stroke-width="0.05">100</text>
<text x="324.4" y="546.9" text-anchor="middle" font-family='"Liberation Sans", "DejaVu Sans", sans-serif' font-size="5" fill="#111" stroke="#111" stroke-width="0.05">10<tspan dy="-2.3" font-size="4">0</tspan></text>
<text x="343.9" y="546.9" text-anchor="middle" font-family='"Liberation Sans", "DejaVu Sans", sans-serif' font-size="5" fill="#111" stroke="#111" stroke-width="0.05">10<tspan dy="-2.3" font-size="4">1</tspan></text>
<text x="363.4" y="546.9" text-anchor="middle" font-family='"Liberation Sans", "DejaVu Sans", sans-serif' font-size="5" fill="#111" stroke="#111" stroke-width="0.05">10<tspan dy="-2.3" font-size="4">2</tspan></text>
<text x="382.9" y="546.9" text-anchor="middle" font-family='"Liberation Sans", "DejaVu Sans", sans-serif' font-size="5" fill="#111" stroke="#111" stroke-width="0.05">10<tspan dy="-2.3" font-size="4">3</tspan></text>
<text x="402.4" y="546.9" text-anchor="middle" font-family='"Liberation Sans", "DejaVu Sans", sans-serif' font-size="5" fill="#111" stroke="#111" stroke-width="0.05">10<tspan dy="-2.3" font-size="4">4</tspan></text>
<text transform="translate(397.6 481.5) scale(1.08 1)" font-family='"Liberation Serif", "DejaVu Serif", serif' font-size="10.9" text-anchor="end" fill="#000" stroke="#000" stroke-width="0.2">2.0</text>
</g>
<g>
<path d="M431.7 540.4L431.7 539.49L432.3 538.63L432.9 539.09L433.5 539.61L434.1 538.84L434.7 538.09L435.3 539.26L435.9 538.79L436.5 539.89L437.1 538.79L437.7 539.48L438.3 538.69L438.9 539.53L439.5 539.82L440.1 539.74L440.7 539L441.3 539.48L441.9 539.15L442.5 539.12L443.1 539.49L443.7 539.8L444.3 539.4L444.9 539.02L445.5 540.04L446.1 538.83L446.7 538.36L447.3 538.77L447.9 540.08L448.5 539.06L449.1 539.14L449.7 539.13L450.3 539.31L450.9 538.6L451.5 538.8L452.1 538.19L452.7 538.47L453.3 537.84L453.9 536.5L454.5 536.31L455.1 536.47L455.7 532.88L456.3 533.04L456.9 529.91L457.5 527.02L458.1 526.06L458.7 522.73L459.3 518.57L459.9 513.78L460.5 517.23L461.1 510.39L461.7 504.1L462.3 504.52L462.9 497.5L463.5 498.01L464.1 498.98L464.7 502.52L465.3 499.85L465.9 497.73L466.5 503.83L467.1 504.43L467.7 507.59L468.3 513.95L468.9 515.74L469.5 518.61L470.1 521.78L470.7 526.06L471.3 528.49L471.9 531.8L472.5 534L473.1 535.04L473.7 536.56L474.3 537.63L474.9 537.88L475.5 538.74L476.1 538.65L476.7 539.46L477.3 539.53L477.9 539.33L478.5 539.66L479.1 539.92L479.7 539.44L480.3 539.79L480.9 539.87L481.5 539.83L482.1 539.36L482.7 539.89L483.3 539.72L483.9 539.72L484.5 539.77L485.1 540L485.7 539.91L486.3 540.22L486.9 539.89L487.5 540.11L488.1 540.02L488.7 540.07L489.3 539.76L489.9 540.01L490.5 540.06L491.1 540.26L491.7 539.66L492.3 540.4L492.9 540.17L493.5 539.8L494.1 540.21L494.7 539.96L495.3 539.78L495.9 540.17L496.5 540.39L497.1 540.02L497.7 540.22L498.3 540.28L498.9 540.27L499.5 540.17L500.1 540.08L500.7 539.92L501.3 540.04L501.9 539.82L502.5 539.9L503.1 539.83L503.7 540.24L504.3 540.29L504.9 540.19L505.5 539.65L506.1 539.89L506.7 539.77L507.3 540.11L507.9 539.9L508.5 540L509.1 539.99L509.7 539.87L510.3 539.75L510.9 539.6L510.9 540.4Z" fill="#ececec"/>
<path d="M431.7 540.4L431.7 539.49L432.3 539L432.9 539.09L433.5 539.61L434.1 539.1L434.7 539.32L435.3 539.26L435.9 539.22L436.5 539.89L437.1 539.07L437.7 539.48L438.3 538.97L438.9 539.53L439.5 540.06L440.1 539.74L440.7 539L441.3 539.48L441.9 539.15L442.5 539.12L443.1 539.49L443.7 539.8L444.3 539.4L444.9 539.02L445.5 540.04L446.1 538.83L446.7 538.36L447.3 538.77L447.9 540.08L448.5 539.06L449.1 539.14L449.7 539.13L450.3 539.31L450.9 538.6L451.5 538.8L452.1 538.19L452.7 538.47L453.3 537.84L453.9 536.5L454.5 536.31L455.1 536.47L455.7 532.88L456.3 533.04L456.9 529.91L457.5 527.02L458.1 526.06L458.7 525.63L459.3 528.12L459.9 531.3L460.5 533.47L461.1 536.4L461.7 536.66L462.3 537.61L462.9 539.22L463.5 539.25L464.1 539.56L464.7 539.09L465.3 538.84L465.9 539.48L466.5 539.21L467.1 539.63L467.7 540.24L468.3 539.7L468.9 539.46L469.5 539.27L470.1 539.51L470.7 539.74L471.3 539.64L471.9 539.76L472.5 539.63L473.1 539.68L473.7 540L474.3 539.87L474.9 539.36L475.5 539.96L476.1 539.89L476.7 539.9L477.3 539.99L477.9 540.26L478.5 539.71L479.1 539.92L479.7 539.66L480.3 539.79L480.9 539.87L481.5 540.07L482.1 540.02L482.7 539.89L483.3 540.16L483.9 539.96L484.5 540.23L485.1 540L485.7 539.91L486.3 540.22L486.9 540.22L487.5 540.11L488.1 540.17L488.7 540.07L489.3 540.38L489.9 540.15L490.5 540.17L491.1 540.26L491.7 539.74L492.3 540.4L492.9 540.17L493.5 539.8L494.1 540.23L494.7 539.97L495.3 540.4L495.9 540.17L496.5 540.39L497.1 540.2L497.7 540.22L498.3 540.28L498.9 540.27L499.5 540.17L500.1 540.35L500.7 539.92L501.3 540.04L501.9 540.2L502.5 540.25L503.1 539.89L503.7 540.24L504.3 540.29L504.9 540.34L505.5 540.03L506.1 540.16L506.7 540.19L507.3 540.11L507.9 540.1L508.5 540L509.1 539.99L509.7 539.87L510.3 540.17L510.9 540.21L510.9 540.4Z" fill="#dcdcdc"/>
<path d="M431.7 539.49L432.3 538.63L432.9 539.09L433.5 539.61L434.1 538.84L434.7 538.09L435.3 539.26L435.9 538.79L436.5 539.89L437.1 538.79L437.7 539.48L438.3 538.69L438.9 539.53L439.5 539.82L440.1 539.74L440.7 539L441.3 539.48L441.9 539.15L442.5 539.12L443.1 539.49L443.7 539.8L444.3 539.4L444.9 539.02L445.5 540.04L446.1 538.83L446.7 538.36L447.3 538.77L447.9 540.08L448.5 539.06L449.1 539.14L449.7 539.13L450.3 539.31L450.9 538.6L451.5 538.8L452.1 538.19L452.7 538.47L453.3 537.84L453.9 536.5L454.5 536.31L455.1 536.47L455.7 532.88L456.3 533.04L456.9 529.91L457.5 527.02L458.1 526.06L458.7 522.73L459.3 518.57L459.9 513.78L460.5 517.23L461.1 510.39L461.7 504.1L462.3 504.52L462.9 497.5L463.5 498.01L464.1 498.98L464.7 502.52L465.3 499.85L465.9 497.73L466.5 503.83L467.1 504.43L467.7 507.59L468.3 513.95L468.9 515.74L469.5 518.61L470.1 521.78L470.7 526.06L471.3 528.49L471.9 531.8L472.5 534L473.1 535.04L473.7 536.56L474.3 537.63L474.9 537.88L475.5 538.74L476.1 538.65L476.7 539.46L477.3 539.53L477.9 539.33L478.5 539.66L479.1 539.92L479.7 539.44L480.3 539.79L480.9 539.87L481.5 539.83L482.1 539.36L482.7 539.89L483.3 539.72L483.9 539.72L484.5 539.77L485.1 540L485.7 539.91L486.3 540.22L486.9 539.89L487.5 540.11L488.1 540.02L488.7 540.07L489.3 539.76L489.9 540.01L490.5 540.06L491.1 540.26L491.7 539.66L492.3 540.4L492.9 540.17L493.5 539.8L494.1 540.21L494.7 539.96L495.3 539.78L495.9 540.17L496.5 540.39L497.1 540.02L497.7 540.22L498.3 540.28L498.9 540.27L499.5 540.17L500.1 540.08L500.7 539.92L501.3 540.04L501.9 539.82L502.5 539.9L503.1 539.83L503.7 540.24L504.3 540.29L504.9 540.19L505.5 539.65L506.1 539.89L506.7 539.77L507.3 540.11L507.9 539.9L508.5 540L509.1 539.99L509.7 539.87L510.3 539.75L510.9 539.6" fill="none" stroke="#222" stroke-width="0.9" stroke-linejoin="round"/>
<path d="M431.7 539.38L432.3 539L432.9 538.59L433.5 539.19L434.1 539.1L434.7 539.32L435.3 538.67L435.9 539.22L436.5 539.34L437.1 539.07L437.7 539.38L438.3 538.97L438.9 538.22L439.5 540.06L440.1 539.17L440.7 538.88L441.3 538.87L441.9 538.22L442.5 537.82L443.1 538.45L443.7 537.44L444.3 536.91L444.9 537.03L445.5 534.44L446.1 533.65L446.7 532.1L447.3 528.68L447.9 526.53L448.5 523.85L449.1 518.81L449.7 510.22L450.3 508.35L450.9 503.31L451.5 496.42L452.1 494.72L452.7 495.79L453.3 495.19L453.9 497.18L454.5 495.66L455.1 495.71L455.7 502.25L456.3 505.63L456.9 510.79L457.5 515.75L458.1 523.11L458.7 525.63L459.3 528.12L459.9 531.3L460.5 533.47L461.1 536.4L461.7 536.66L462.3 537.61L462.9 539.22L463.5 539.25L464.1 539.56L464.7 539.09L465.3 538.84L465.9 539.48L466.5 539.21L467.1 539.63L467.7 540.24L468.3 539.7L468.9 539.46L469.5 539.27L470.1 539.51L470.7 539.74L471.3 539.64L471.9 539.76L472.5 539.63L473.1 539.68L473.7 540L474.3 539.87L474.9 539.36L475.5 539.96L476.1 539.89L476.7 539.9L477.3 539.99L477.9 540.26L478.5 539.71L479.1 539.73L479.7 539.66L480.3 539.41L480.9 539.46L481.5 540.07L482.1 540.02L482.7 539.6L483.3 540.16L483.9 539.96L484.5 540.23L485.1 539.91L485.7 539.73L486.3 539.61L486.9 540.22L487.5 540.01L488.1 540.17L488.7 539.48L489.3 540.38L489.9 540.15L490.5 540.17L491.1 539.73L491.7 539.74L492.3 540.06L492.9 540.15L493.5 539.78L494.1 540.23L494.7 539.97L495.3 540.4L495.9 539.72L496.5 540.01L497.1 540.2L497.7 539.8L498.3 540.25L498.9 540.22L499.5 540.1L500.1 540.35L500.7 539.84L501.3 539.62L501.9 540.2L502.5 540.25L503.1 539.89L503.7 539.89L504.3 540.02L504.9 540.34L505.5 540.03L506.1 540.16L506.7 540.19L507.3 540.1L507.9 540.1L508.5 539.8L509.1 539.94L509.7 539.82L510.3 540.17L510.9 540.21" fill="none" stroke="#222" stroke-width="0.9" stroke-linejoin="round"/>
<path d="M431.9 540.4V538.94" stroke="#000" stroke-width="1.4"/>
<path d="M431.7 467.5H510.9V540.4" fill="none" stroke="#333" stroke-width="0.9"/>
<path d="M431.7 467.5V540.4H510.9" fill="none" stroke="#000" stroke-width="1.1"/>
<path d="M431.7 540.4h-2.3M431.7 537.48h-1.2M431.7 534.57h-1.2M431.7 531.65h-1.2M431.7 528.74h-1.2M431.7 525.82h-2.3M431.7 522.9h-1.2M431.7 519.99h-1.2M431.7 517.07h-1.2M431.7 514.16h-1.2M431.7 511.24h-2.3M431.7 508.32h-1.2M431.7 505.41h-1.2M431.7 502.49h-1.2M431.7 499.58h-1.2M431.7 496.66h-2.3M431.7 493.74h-1.2M431.7 490.83h-1.2M431.7 487.91h-1.2M431.7 485h-1.2M431.7 482.08h-2.3M431.7 479.16h-1.2M431.7 476.25h-1.2M431.7 473.33h-1.2M431.7 470.42h-1.2M431.7 467.5h-2.3" stroke="#000" stroke-width="0.55" fill="none"/>
<path d="M431.7 540.4v2.4M437.66 540.4v1.4M441.15 540.4v1.4M443.62 540.4v1.4M445.54 540.4v1.4M447.11 540.4v1.4M448.43 540.4v1.4M449.58 540.4v1.4M450.59 540.4v1.4M451.5 540.4v2.4M457.46 540.4v1.4M460.95 540.4v1.4M463.42 540.4v1.4M465.34 540.4v1.4M466.91 540.4v1.4M468.23 540.4v1.4M469.38 540.4v1.4M470.39 540.4v1.4M471.3 540.4v2.4M477.26 540.4v1.4M480.75 540.4v1.4M483.22 540.4v1.4M485.14 540.4v1.4M486.71 540.4v1.4M488.03 540.4v1.4M489.18 540.4v1.4M490.19 540.4v1.4M491.1 540.4v2.4M497.06 540.4v1.4M500.55 540.4v1.4M503.02 540.4v1.4M504.94 540.4v1.4M506.51 540.4v1.4M507.83 540.4v1.4M508.98 540.4v1.4M509.99 540.4v1.4M510.9 540.4v2.4" stroke="#000" stroke-width="0.7" fill="none"/>
<text transform="translate(427.5 540.4) rotate(-90) scale(1 0.82)" text-anchor="middle" font-family='"Liberation Sans", "DejaVu Sans", sans-serif' font-size="5" fill="#111" stroke="#111" stroke-width="0.05">0</text>
<text transform="translate(427.5 525.82) rotate(-90) scale(1 0.82)" text-anchor="middle" font-family='"Liberation Sans", "DejaVu Sans", sans-serif' font-size="5" fill="#111" stroke="#111" stroke-width="0.05">20</text>
<text transform="translate(427.5 511.24) rotate(-90) scale(1 0.82)" text-anchor="middle" font-family='"Liberation Sans", "DejaVu Sans", sans-serif' font-size="5" fill="#111" stroke="#111" stroke-width="0.05">40</text>
<text transform="translate(427.5 496.66) rotate(-90) scale(1 0.82)" text-anchor="middle" font-family='"Liberation Sans", "DejaVu Sans", sans-serif' font-size="5" fill="#111" stroke="#111" stroke-width="0.05">60</text>
<text transform="translate(427.5 482.08) rotate(-90) scale(1 0.82)" text-anchor="middle" font-family='"Liberation Sans", "DejaVu Sans", sans-serif' font-size="5" fill="#111" stroke="#111" stroke-width="0.05">80</text>
<text transform="translate(427.5 467.5) rotate(-90) scale(1 0.82)" text-anchor="middle" font-family='"Liberation Sans", "DejaVu Sans", sans-serif' font-size="5" fill="#111" stroke="#111" stroke-width="0.05">100</text>
<text x="430.8" y="547.3" text-anchor="middle" font-family='"Liberation Sans", "DejaVu Sans", sans-serif' font-size="5" fill="#111" stroke="#111" stroke-width="0.05">10<tspan dy="-2.3" font-size="4">0</tspan></text>
<text x="450.6" y="547.3" text-anchor="middle" font-family='"Liberation Sans", "DejaVu Sans", sans-serif' font-size="5" fill="#111" stroke="#111" stroke-width="0.05">10<tspan dy="-2.3" font-size="4">1</tspan></text>
<text x="470.4" y="547.3" text-anchor="middle" font-family='"Liberation Sans", "DejaVu Sans", sans-serif' font-size="5" fill="#111" stroke="#111" stroke-width="0.05">10<tspan dy="-2.3" font-size="4">2</tspan></text>
<text x="490.2" y="547.3" text-anchor="middle" font-family='"Liberation Sans", "DejaVu Sans", sans-serif' font-size="5" fill="#111" stroke="#111" stroke-width="0.05">10<tspan dy="-2.3" font-size="4">3</tspan></text>
<text x="510" y="547.3" text-anchor="middle" font-family='"Liberation Sans", "DejaVu Sans", sans-serif' font-size="5" fill="#111" stroke="#111" stroke-width="0.05">10<tspan dy="-2.3" font-size="4">4</tspan></text>
<text transform="translate(504.3 482.4) scale(1.08 1)" font-family='"Liberation Serif", "DejaVu Serif", serif' font-size="10.9" text-anchor="end" fill="#000" stroke="#000" stroke-width="0.2">2.9</text>
</g>
</svg>
</body></html>
